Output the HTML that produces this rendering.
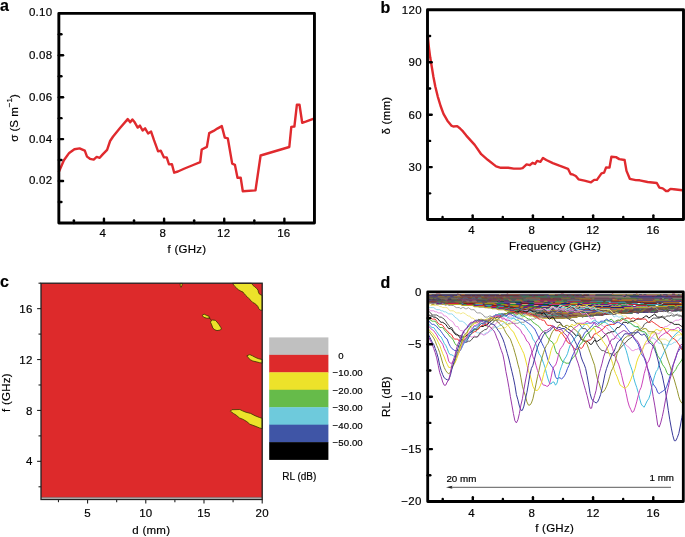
<!DOCTYPE html>
<html><head><meta charset="utf-8"><style>
html,body{margin:0;padding:0;background:#fff;}
svg{display:block;will-change:transform;}
text{font-family:"Liberation Sans",sans-serif;fill:#000;stroke:#000;stroke-width:0.18px;}
</style></head><body>
<svg width="685" height="537" viewBox="0 0 685 537">
<rect width="685" height="537" fill="#fff"/>
<polyline points="58.7,172.3 63.9,160.3 69.2,152.9 74.4,149.2 79.6,148.4 84.8,150.7 87.0,156.6 90.0,158.8 93.7,159.6 96.7,156.9 99.7,157.8 102.7,154.4 107.1,149.9 110.1,141.0 113.1,136.5 119.8,128.3 127.7,119.1 130.2,122.3 132.4,119.4 134.7,122.3 137.7,127.6 139.9,125.6 142.6,130.5 145.1,128.3 148.1,133.5 151.1,131.6 154.0,140.2 158.1,151.4 160.8,150.7 164.0,157.4 166.7,157.4 169.0,164.4 171.9,164.1 174.2,172.7 177.9,171.5 184.6,168.5 192.0,165.5 200.2,162.1 201.7,149.5 206.9,146.9 209.2,133.1 213.6,130.9 217.3,128.6 221.8,126.1 224.8,137.6 227.8,138.3 232.2,163.6 234.9,164.8 237.5,177.7 240.7,177.7 242.8,191.2 255.5,190.4 260.6,155.5 289.3,147.0 291.3,126.9 294.4,126.5 296.9,104.7 299.5,104.7 302.2,122.8 305.7,121.7 313.9,118.7" fill="none" stroke="#e02a2e" stroke-width="2.4" stroke-linejoin="round" />
<rect x="58.85" y="13.35" width="255.6" height="209.6" fill="none" stroke="#000" stroke-width="2.9" stroke-linejoin="round"/>
<line x1="73.89" y1="222.95" x2="73.89" y2="220.35" stroke="#000" stroke-width="2.4" stroke-linecap="round"/>
<line x1="103.96" y1="222.95" x2="103.96" y2="218.75" stroke="#000" stroke-width="2.4" stroke-linecap="round"/>
<line x1="134.03" y1="222.95" x2="134.03" y2="220.35" stroke="#000" stroke-width="2.4" stroke-linecap="round"/>
<line x1="164.10" y1="222.95" x2="164.10" y2="218.75" stroke="#000" stroke-width="2.4" stroke-linecap="round"/>
<line x1="194.17" y1="222.95" x2="194.17" y2="220.35" stroke="#000" stroke-width="2.4" stroke-linecap="round"/>
<line x1="224.24" y1="222.95" x2="224.24" y2="218.75" stroke="#000" stroke-width="2.4" stroke-linecap="round"/>
<line x1="254.31" y1="222.95" x2="254.31" y2="220.35" stroke="#000" stroke-width="2.4" stroke-linecap="round"/>
<line x1="284.38" y1="222.95" x2="284.38" y2="218.75" stroke="#000" stroke-width="2.4" stroke-linecap="round"/>
<line x1="58.85" y1="201.99" x2="61.45" y2="201.99" stroke="#000" stroke-width="2.4" stroke-linecap="round"/>
<line x1="58.85" y1="181.03" x2="63.05" y2="181.03" stroke="#000" stroke-width="2.4" stroke-linecap="round"/>
<line x1="58.85" y1="160.07" x2="61.45" y2="160.07" stroke="#000" stroke-width="2.4" stroke-linecap="round"/>
<line x1="58.85" y1="139.11" x2="63.05" y2="139.11" stroke="#000" stroke-width="2.4" stroke-linecap="round"/>
<line x1="58.85" y1="118.15" x2="61.45" y2="118.15" stroke="#000" stroke-width="2.4" stroke-linecap="round"/>
<line x1="58.85" y1="97.19" x2="63.05" y2="97.19" stroke="#000" stroke-width="2.4" stroke-linecap="round"/>
<line x1="58.85" y1="76.23" x2="61.45" y2="76.23" stroke="#000" stroke-width="2.4" stroke-linecap="round"/>
<line x1="58.85" y1="55.27" x2="63.05" y2="55.27" stroke="#000" stroke-width="2.4" stroke-linecap="round"/>
<line x1="58.85" y1="34.31" x2="61.45" y2="34.31" stroke="#000" stroke-width="2.4" stroke-linecap="round"/>
<text x="102.76" y="237.40" font-size="11.5" text-anchor="middle" letter-spacing="0.25" >4</text>
<text x="162.90" y="237.40" font-size="11.5" text-anchor="middle" letter-spacing="0.25" >8</text>
<text x="223.64" y="237.40" font-size="11.5" text-anchor="middle" letter-spacing="0.25" >12</text>
<text x="283.78" y="237.40" font-size="11.5" text-anchor="middle" letter-spacing="0.25" >16</text>
<text x="52.30" y="184.43" font-size="11.5" text-anchor="end" letter-spacing="0.25" >0.02</text>
<text x="52.30" y="142.51" font-size="11.5" text-anchor="end" letter-spacing="0.25" >0.04</text>
<text x="52.30" y="100.59" font-size="11.5" text-anchor="end" letter-spacing="0.25" >0.06</text>
<text x="52.30" y="58.67" font-size="11.5" text-anchor="end" letter-spacing="0.25" >0.08</text>
<text x="52.30" y="15.85" font-size="11.5" text-anchor="end" letter-spacing="0.25" >0.10</text>
<text x="187.00" y="253.30" font-size="11.5" text-anchor="middle" letter-spacing="0.25" >f (GHz)</text>
<text transform="translate(18.4,118.0) rotate(-90)" font-size="11.5" text-anchor="middle">σ (S m<tspan dy="-6" font-size="8">−1</tspan><tspan dy="6">)</tspan></text>
<text x="0.00" y="11.00" font-size="16" text-anchor="start" font-weight="bold">a</text>
<polyline points="427.9,37.0 428.9,47.5 430.2,57.3 431.8,67.0 433.4,76.8 435.3,86.5 437.7,96.3 440.6,106.0 443.5,113.9 447.4,120.7 451.3,125.6 453.3,126.5 457.2,126.1 460.1,128.5 463.0,131.4 466.3,135.6 474.7,144.9 481.2,154.2 487.7,159.8 496.1,166.4 500.8,167.8 508.2,167.8 513.8,168.6 520.3,168.6 522.6,168.1 526.6,164.4 529.9,165.2 532.5,162.8 535.1,163.9 537.1,160.9 540.4,161.8 543.0,157.9 546.3,160.0 552.8,163.1 559.4,165.7 563.4,167.1 568.0,168.8 570.6,174.0 573.2,174.7 575.8,176.0 578.5,179.3 584.4,180.6 591.0,182.3 594.2,179.9 596.9,179.9 601.5,173.4 604.1,172.7 606.1,167.4 609.5,167.6 611.4,156.8 616.0,157.1 619.3,159.1 624.6,160.0 626.5,170.9 629.8,178.8 635.7,180.1 639.7,180.3 647.6,182.0 656.8,183.0 659.4,187.6 662.7,188.4 666.0,191.0 667.9,191.0 670.5,188.9 673.8,189.3 682.4,190.2" fill="none" stroke="#e02a2e" stroke-width="2.4" stroke-linejoin="round" />
<rect x="427.5" y="9.8" width="256.0" height="209.75" fill="none" stroke="#000" stroke-width="2.9" stroke-linejoin="round"/>
<line x1="442.56" y1="219.55" x2="442.56" y2="216.95" stroke="#000" stroke-width="2.4" stroke-linecap="round"/>
<line x1="472.68" y1="219.55" x2="472.68" y2="215.35" stroke="#000" stroke-width="2.4" stroke-linecap="round"/>
<line x1="502.79" y1="219.55" x2="502.79" y2="216.95" stroke="#000" stroke-width="2.4" stroke-linecap="round"/>
<line x1="532.91" y1="219.55" x2="532.91" y2="215.35" stroke="#000" stroke-width="2.4" stroke-linecap="round"/>
<line x1="563.03" y1="219.55" x2="563.03" y2="216.95" stroke="#000" stroke-width="2.4" stroke-linecap="round"/>
<line x1="593.15" y1="219.55" x2="593.15" y2="215.35" stroke="#000" stroke-width="2.4" stroke-linecap="round"/>
<line x1="623.26" y1="219.55" x2="623.26" y2="216.95" stroke="#000" stroke-width="2.4" stroke-linecap="round"/>
<line x1="653.38" y1="219.55" x2="653.38" y2="215.35" stroke="#000" stroke-width="2.4" stroke-linecap="round"/>
<line x1="427.50" y1="193.33" x2="430.10" y2="193.33" stroke="#000" stroke-width="2.4" stroke-linecap="round"/>
<line x1="427.50" y1="167.11" x2="431.70" y2="167.11" stroke="#000" stroke-width="2.4" stroke-linecap="round"/>
<line x1="427.50" y1="140.89" x2="430.10" y2="140.89" stroke="#000" stroke-width="2.4" stroke-linecap="round"/>
<line x1="427.50" y1="114.68" x2="431.70" y2="114.68" stroke="#000" stroke-width="2.4" stroke-linecap="round"/>
<line x1="427.50" y1="88.46" x2="430.10" y2="88.46" stroke="#000" stroke-width="2.4" stroke-linecap="round"/>
<line x1="427.50" y1="62.24" x2="431.70" y2="62.24" stroke="#000" stroke-width="2.4" stroke-linecap="round"/>
<line x1="427.50" y1="36.02" x2="430.10" y2="36.02" stroke="#000" stroke-width="2.4" stroke-linecap="round"/>
<text x="471.48" y="234.10" font-size="11.5" text-anchor="middle" letter-spacing="0.25" >4</text>
<text x="531.71" y="234.10" font-size="11.5" text-anchor="middle" letter-spacing="0.25" >8</text>
<text x="592.85" y="234.10" font-size="11.5" text-anchor="middle" letter-spacing="0.25" >12</text>
<text x="653.08" y="234.10" font-size="11.5" text-anchor="middle" letter-spacing="0.25" >16</text>
<text x="421.80" y="171.11" font-size="11.5" text-anchor="end" letter-spacing="0.25" >30</text>
<text x="421.80" y="118.68" font-size="11.5" text-anchor="end" letter-spacing="0.25" >60</text>
<text x="421.80" y="66.24" font-size="11.5" text-anchor="end" letter-spacing="0.25" >90</text>
<text x="421.80" y="13.80" font-size="11.5" text-anchor="end" letter-spacing="0.25" >120</text>
<text x="555.00" y="250.20" font-size="11.5" text-anchor="middle" letter-spacing="0.25" >Frequency (GHz)</text>
<text transform="translate(390.2,115.6) rotate(-90)" font-size="11.5" letter-spacing="0.25" text-anchor="middle">δ (mm)</text>
<text x="380.50" y="12.70" font-size="16" text-anchor="start" font-weight="bold">b</text>
<rect x="41.0" y="283.2" width="221.2" height="216.3" fill="#dd2a2b"/>
<rect x="41.0" y="497.2" width="221.2" height="2.3000000000000114" fill="#c0c0c0"/>
<line x1="41.00" y1="497.35" x2="262.20" y2="497.35" stroke="#6a4a4a" stroke-width="0.6" stroke-linecap="butt"/>
<path d="M232.4,283.3 L233.9,285.2 L234.9,286.5 L236.5,288.1 L238.5,289.8 L240.8,291.1 L243.0,292.1 L244.0,293.4 L245.3,295.0 L247.0,296.6 L248.9,298.6 L250.9,300.5 L252.8,302.5 L254.8,303.5 L256.7,305.1 L258.0,306.7 L258.7,308.7 L260.3,310.0 L262.2,310.4 L262.2,295.3 L261.0,295.0 L259.3,294.0 L258.4,292.1 L258.0,290.1 L256.7,288.5 L254.8,286.8 L253.1,285.5 L251.5,283.3 Z" fill="#ece22a" stroke="#3a3000" stroke-width="0.8" stroke-linejoin="round"/>
<path d="M202.2,315.3 L204.1,314.1 L206.4,315.3 L209.2,316.4 L209.7,317.8 L208.3,318.3 L206.4,318.1 L203.6,317.2 Z" fill="#ece22a" stroke="#3a3000" stroke-width="0.8" stroke-linejoin="round"/>
<path d="M208.6,317.6 L210.2,318.6 L211.6,320.6" fill="none" stroke="#3a3000" stroke-width="0.9"/>
<path d="M210.8,321.1 L212.5,320.0 L215.3,320.3 L217.0,322.0 L219.2,324.8 L220.9,327.6 L221.5,329.2 L219.8,330.1 L217.0,330.6 L214.8,329.8 L212.8,328.1 L211.7,324.8 L210.6,322.5 Z" fill="#ece22a" stroke="#3a3000" stroke-width="0.8" stroke-linejoin="round"/>
<path d="M246.8,355.8 L249.8,354.6 L252.4,355.8 L255.8,357.6 L258.8,358.8 L262.2,359.5 L262.2,363.1 L259.7,362.7 L256.3,361.8 L252.8,361.0 L250.3,359.7 L248.1,357.6 Z" fill="#ece22a" stroke="#3a3000" stroke-width="0.8" stroke-linejoin="round"/>
<path d="M230.4,411.2 L231.9,409.7 L239.8,409.5 L242.4,410.8 L246.1,412.3 L250.6,413.4 L255.0,415.7 L259.5,417.5 L262.2,418.3 L262.2,428.7 L259.5,427.9 L255.0,426.1 L249.8,424.2 L246.8,421.6 L243.1,419.4 L239.4,417.9 L236.4,415.3 L233.4,413.4 Z" fill="#ece22a" stroke="#3a3000" stroke-width="0.8" stroke-linejoin="round"/>
<path d="M180.0,283.4 L182.4,283.4 L181.8,286.0 L181.0,287.4 L180.3,285.5 Z" fill="#ece22a" stroke="#3a3000" stroke-width="0.8" stroke-linejoin="round"/>
<rect x="41.0" y="283.2" width="221.2" height="216.3" fill="none" stroke="#222" stroke-width="1.3"/>
<line x1="58.46" y1="499.50" x2="58.46" y2="502.20" stroke="#222" stroke-width="1.1" stroke-linecap="butt"/>
<line x1="87.57" y1="499.50" x2="87.57" y2="503.40" stroke="#222" stroke-width="1.1" stroke-linecap="butt"/>
<line x1="116.67" y1="499.50" x2="116.67" y2="502.20" stroke="#222" stroke-width="1.1" stroke-linecap="butt"/>
<line x1="145.78" y1="499.50" x2="145.78" y2="503.40" stroke="#222" stroke-width="1.1" stroke-linecap="butt"/>
<line x1="174.88" y1="499.50" x2="174.88" y2="502.20" stroke="#222" stroke-width="1.1" stroke-linecap="butt"/>
<line x1="203.99" y1="499.50" x2="203.99" y2="503.40" stroke="#222" stroke-width="1.1" stroke-linecap="butt"/>
<line x1="233.09" y1="499.50" x2="233.09" y2="502.20" stroke="#222" stroke-width="1.1" stroke-linecap="butt"/>
<line x1="262.20" y1="499.50" x2="262.20" y2="503.40" stroke="#222" stroke-width="1.1" stroke-linecap="butt"/>
<line x1="41.00" y1="486.78" x2="38.50" y2="486.78" stroke="#222" stroke-width="1.1" stroke-linecap="butt"/>
<line x1="41.00" y1="461.33" x2="37.10" y2="461.33" stroke="#222" stroke-width="1.1" stroke-linecap="butt"/>
<line x1="41.00" y1="435.88" x2="38.50" y2="435.88" stroke="#222" stroke-width="1.1" stroke-linecap="butt"/>
<line x1="41.00" y1="410.44" x2="37.10" y2="410.44" stroke="#222" stroke-width="1.1" stroke-linecap="butt"/>
<line x1="41.00" y1="384.99" x2="38.50" y2="384.99" stroke="#222" stroke-width="1.1" stroke-linecap="butt"/>
<line x1="41.00" y1="359.54" x2="37.10" y2="359.54" stroke="#222" stroke-width="1.1" stroke-linecap="butt"/>
<line x1="41.00" y1="334.09" x2="38.50" y2="334.09" stroke="#222" stroke-width="1.1" stroke-linecap="butt"/>
<line x1="41.00" y1="308.65" x2="37.10" y2="308.65" stroke="#222" stroke-width="1.1" stroke-linecap="butt"/>
<line x1="41.00" y1="283.20" x2="38.50" y2="283.20" stroke="#222" stroke-width="1.1" stroke-linecap="butt"/>
<text x="87.57" y="517.20" font-size="11.5" text-anchor="middle" letter-spacing="0.25" >5</text>
<text x="145.78" y="517.20" font-size="11.5" text-anchor="middle" letter-spacing="0.25" >10</text>
<text x="203.99" y="517.20" font-size="11.5" text-anchor="middle" letter-spacing="0.25" >15</text>
<text x="262.20" y="517.20" font-size="11.5" text-anchor="middle" letter-spacing="0.25" >20</text>
<text x="32.60" y="465.43" font-size="11.5" text-anchor="end" letter-spacing="0.25" >4</text>
<text x="32.60" y="414.54" font-size="11.5" text-anchor="end" letter-spacing="0.25" >8</text>
<text x="32.60" y="363.64" font-size="11.5" text-anchor="end" letter-spacing="0.25" >12</text>
<text x="32.60" y="312.75" font-size="11.5" text-anchor="end" letter-spacing="0.25" >16</text>
<text x="151.30" y="533.50" font-size="11.5" text-anchor="middle" letter-spacing="0.25" >d (mm)</text>
<text transform="translate(9.7,392.5) rotate(-90)" font-size="11.5" letter-spacing="0.25" text-anchor="middle">f (GHz)</text>
<text x="0.00" y="286.80" font-size="16" text-anchor="start" font-weight="bold">c</text>
<rect x="269.2" y="337.40" width="59.2" height="17.76" fill="#c0c0c0"/>
<rect x="269.2" y="354.86" width="59.2" height="17.76" fill="#dd2a2b"/>
<rect x="269.2" y="372.31" width="59.2" height="17.76" fill="#ede22a"/>
<rect x="269.2" y="389.77" width="59.2" height="17.76" fill="#66bb4a"/>
<rect x="269.2" y="407.23" width="59.2" height="17.76" fill="#6ecadc"/>
<rect x="269.2" y="424.69" width="59.2" height="17.76" fill="#3f55a6"/>
<rect x="269.2" y="442.14" width="59.2" height="17.76" fill="#000000"/>
<text x="338.30" y="358.86" font-size="9.6" text-anchor="start" letter-spacing="0.1" >0</text>
<text x="332.60" y="376.31" font-size="9.6" text-anchor="start" letter-spacing="0.1" >−10.00</text>
<text x="332.60" y="393.77" font-size="9.6" text-anchor="start" letter-spacing="0.1" >−20.00</text>
<text x="332.60" y="411.23" font-size="9.6" text-anchor="start" letter-spacing="0.1" >−30.00</text>
<text x="332.60" y="428.69" font-size="9.6" text-anchor="start" letter-spacing="0.1" >−40.00</text>
<text x="332.60" y="446.14" font-size="9.6" text-anchor="start" letter-spacing="0.1" >−50.00</text>
<text x="299.30" y="480.00" font-size="10" text-anchor="middle" >RL (dB)</text>
<clipPath id="cd"><rect x="429" y="293.3" width="253.2" height="206.8"/></clipPath>
<g clip-path="url(#cd)">
<polyline points="427.7,295.0 429.2,295.0 430.7,295.0 432.2,295.0 433.7,295.0 435.2,295.0 436.7,294.0 438.2,294.0 439.7,294.0 441.2,295.0 442.7,295.0 444.2,295.0 445.7,295.0 447.2,295.0 448.7,295.0 450.3,295.0 451.8,295.0 453.3,295.0 454.8,295.0 456.3,295.0 457.8,294.0 459.3,295.0 460.8,295.0 462.3,295.0 463.8,295.0 465.3,295.0 466.8,295.0 468.3,295.0 469.8,295.0 471.3,295.0 472.8,295.0 474.3,295.0 475.8,295.0 477.3,295.0 478.8,295.0 480.3,295.0 481.8,295.0 483.3,295.0 484.8,295.0 486.3,295.0 487.8,295.0 489.3,295.0 490.8,295.0 492.4,295.0 493.9,295.0 495.4,295.0 496.9,295.0 498.4,295.0 499.9,295.0 501.4,295.0 502.9,295.0 504.4,295.0 505.9,295.0 507.4,294.0 508.9,295.0 510.4,295.0 511.9,295.0 513.4,295.0 514.9,295.0 516.4,295.0 517.9,295.0 519.4,295.0 520.9,295.0 522.4,295.0 523.9,295.0 525.4,295.0 526.9,295.0 528.4,295.0 529.9,295.0 531.4,295.0 532.9,295.0 534.5,295.0 536.0,295.0 537.5,295.0 539.0,295.0 540.5,295.0 542.0,295.0 543.5,295.0 545.0,295.0 546.5,295.0 548.0,295.0 549.5,295.0 551.0,295.0 552.5,295.0 554.0,295.0 555.5,295.0 557.0,295.0 558.5,295.0 560.0,295.0 561.5,294.0 563.0,294.0 564.5,295.0 566.0,295.0 567.5,295.0 569.0,295.0 570.5,295.0 572.0,295.0 573.5,295.0 575.0,295.0 576.5,295.0 578.1,295.0 579.6,295.0 581.1,295.0 582.6,295.0 584.1,295.0 585.6,295.0 587.1,295.0 588.6,295.0 590.1,295.0 591.6,295.0 593.1,295.0 594.6,295.0 596.1,295.0 597.6,295.0 599.1,295.0 600.6,295.0 602.1,295.0 603.6,295.0 605.1,295.0 606.6,295.0 608.1,295.0 609.6,295.0 611.1,295.0 612.6,294.0 614.1,295.0 615.6,295.0 617.1,295.0 618.6,295.0 620.2,295.0 621.7,295.0 623.2,295.0 624.7,295.0 626.2,295.0 627.7,295.0 629.2,295.0 630.7,295.0 632.2,295.0 633.7,295.0 635.2,295.0 636.7,294.0 638.2,295.0 639.7,295.0 641.2,295.0 642.7,295.0 644.2,295.0 645.7,295.0 647.2,295.0 648.7,295.0 650.2,295.0 651.7,295.0 653.2,295.0 654.7,295.0 656.2,295.0 657.7,295.0 659.2,295.0 660.7,295.0 662.3,295.0 663.8,295.0 665.3,295.0 666.8,295.0 668.3,295.0 669.8,295.0 671.3,295.0 672.8,294.0 674.3,294.0 675.8,295.0 677.3,295.0 678.8,295.0 680.3,295.0 681.8,295.0 683.3,295.0" fill="none" stroke="#c81e3c" stroke-width="1.15" stroke-linejoin="round" />
<polyline points="427.7,295.0 429.2,295.0 430.7,295.0 432.2,295.0 433.7,295.0 435.2,295.0 436.7,295.0 438.2,295.0 439.7,295.0 441.2,295.0 442.7,295.0 444.2,295.0 445.7,295.0 447.2,295.0 448.7,295.0 450.3,295.0 451.8,295.0 453.3,295.0 454.8,295.0 456.3,295.0 457.8,295.0 459.3,295.0 460.8,295.0 462.3,295.0 463.8,295.0 465.3,295.0 466.8,295.0 468.3,295.0 469.8,295.0 471.3,295.0 472.8,295.0 474.3,295.0 475.8,295.0 477.3,295.0 478.8,295.0 480.3,295.0 481.8,295.0 483.3,295.0 484.8,295.0 486.3,295.0 487.8,295.0 489.3,295.0 490.8,295.0 492.4,295.0 493.9,295.0 495.4,295.0 496.9,295.0 498.4,295.0 499.9,295.0 501.4,295.0 502.9,295.0 504.4,295.0 505.9,295.0 507.4,295.0 508.9,295.0 510.4,295.0 511.9,295.0 513.4,295.0 514.9,295.0 516.4,295.0 517.9,295.0 519.4,295.0 520.9,295.0 522.4,295.0 523.9,295.0 525.4,295.0 526.9,295.0 528.4,295.0 529.9,295.0 531.4,295.0 532.9,295.0 534.5,295.0 536.0,295.0 537.5,295.0 539.0,295.0 540.5,295.0 542.0,295.0 543.5,295.0 545.0,295.0 546.5,295.0 548.0,295.0 549.5,295.0 551.0,295.0 552.5,295.0 554.0,295.0 555.5,295.0 557.0,295.0 558.5,295.0 560.0,295.0 561.5,295.0 563.0,295.0 564.5,295.0 566.0,295.0 567.5,295.0 569.0,295.0 570.5,295.0 572.0,295.0 573.5,295.0 575.0,295.0 576.5,295.0 578.1,295.0 579.6,295.0 581.1,295.0 582.6,295.0 584.1,295.0 585.6,295.0 587.1,295.0 588.6,295.0 590.1,295.0 591.6,295.0 593.1,295.0 594.6,295.0 596.1,295.0 597.6,295.0 599.1,295.0 600.6,295.0 602.1,295.0 603.6,295.0 605.1,295.0 606.6,295.0 608.1,295.0 609.6,295.0 611.1,295.0 612.6,295.0 614.1,295.0 615.6,295.0 617.1,295.0 618.6,295.0 620.2,295.0 621.7,295.0 623.2,295.0 624.7,295.0 626.2,295.0 627.7,295.0 629.2,295.0 630.7,295.0 632.2,295.0 633.7,295.0 635.2,295.0 636.7,295.0 638.2,295.0 639.7,295.0 641.2,295.0 642.7,295.0 644.2,295.0 645.7,295.0 647.2,295.0 648.7,295.0 650.2,295.0 651.7,295.0 653.2,295.0 654.7,295.0 656.2,295.0 657.7,295.0 659.2,295.0 660.7,295.0 662.3,295.0 663.8,295.0 665.3,295.0 666.8,295.0 668.3,295.0 669.8,295.0 671.3,295.0 672.8,295.0 674.3,295.0 675.8,295.0 677.3,295.0 678.8,295.0 680.3,295.0 681.8,295.0 683.3,295.0" fill="none" stroke="#2a9a50" stroke-width="1.15" stroke-linejoin="round" />
<polyline points="427.7,295.0 429.2,295.0 430.7,295.0 432.2,295.0 433.7,295.0 435.2,295.0 436.7,295.0 438.2,295.0 439.7,295.0 441.2,295.0 442.7,295.0 444.2,295.0 445.7,295.0 447.2,295.0 448.7,295.0 450.3,295.0 451.8,295.0 453.3,295.0 454.8,295.0 456.3,295.0 457.8,295.0 459.3,295.0 460.8,295.0 462.3,295.0 463.8,295.0 465.3,295.0 466.8,295.0 468.3,295.0 469.8,295.0 471.3,295.0 472.8,295.0 474.3,295.0 475.8,295.0 477.3,295.0 478.8,295.0 480.3,295.0 481.8,295.0 483.3,295.0 484.8,295.0 486.3,295.0 487.8,295.0 489.3,295.0 490.8,295.0 492.4,295.0 493.9,295.0 495.4,295.0 496.9,295.0 498.4,295.0 499.9,295.0 501.4,295.0 502.9,295.0 504.4,295.0 505.9,295.0 507.4,295.0 508.9,295.0 510.4,295.0 511.9,295.0 513.4,295.0 514.9,295.0 516.4,295.0 517.9,295.0 519.4,295.0 520.9,295.0 522.4,295.0 523.9,295.0 525.4,295.0 526.9,295.0 528.4,295.0 529.9,295.0 531.4,295.0 532.9,295.0 534.5,295.0 536.0,295.0 537.5,295.0 539.0,295.0 540.5,295.0 542.0,295.0 543.5,295.0 545.0,295.0 546.5,295.0 548.0,295.0 549.5,295.0 551.0,295.0 552.5,295.0 554.0,295.0 555.5,295.0 557.0,295.0 558.5,295.0 560.0,295.0 561.5,295.0 563.0,295.0 564.5,295.0 566.0,295.0 567.5,295.0 569.0,295.0 570.5,295.0 572.0,295.0 573.5,295.0 575.0,295.0 576.5,295.0 578.1,295.0 579.6,295.0 581.1,295.0 582.6,295.0 584.1,295.0 585.6,295.0 587.1,295.0 588.6,295.0 590.1,295.0 591.6,295.0 593.1,295.0 594.6,295.0 596.1,295.0 597.6,295.0 599.1,295.0 600.6,295.0 602.1,295.0 603.6,295.0 605.1,295.0 606.6,295.0 608.1,295.0 609.6,295.0 611.1,295.0 612.6,295.0 614.1,295.0 615.6,295.0 617.1,295.0 618.6,295.0 620.2,295.0 621.7,295.0 623.2,295.0 624.7,295.0 626.2,295.0 627.7,295.0 629.2,295.0 630.7,295.0 632.2,295.0 633.7,295.0 635.2,295.0 636.7,295.0 638.2,295.0 639.7,295.0 641.2,295.0 642.7,295.0 644.2,295.0 645.7,295.0 647.2,295.0 648.7,295.0 650.2,295.0 651.7,295.0 653.2,295.0 654.7,295.0 656.2,295.0 657.7,295.0 659.2,295.0 660.7,295.0 662.3,295.0 663.8,295.0 665.3,295.0 666.8,295.0 668.3,295.0 669.8,295.0 671.3,295.0 672.8,295.0 674.3,295.0 675.8,295.0 677.3,295.0 678.8,295.0 680.3,295.0 681.8,295.0 683.3,295.0" fill="none" stroke="#6a1a8a" stroke-width="1.15" stroke-linejoin="round" />
<polyline points="427.7,295.0 429.2,295.0 430.7,295.0 432.2,295.0 433.7,295.0 435.2,295.0 436.7,295.0 438.2,295.0 439.7,295.0 441.2,295.0 442.7,295.0 444.2,295.0 445.7,295.0 447.2,295.0 448.7,295.0 450.3,295.0 451.8,295.0 453.3,295.0 454.8,295.0 456.3,295.0 457.8,295.0 459.3,295.0 460.8,295.0 462.3,295.0 463.8,295.0 465.3,295.0 466.8,295.0 468.3,295.0 469.8,295.0 471.3,295.0 472.8,295.0 474.3,295.0 475.8,295.0 477.3,295.0 478.8,295.0 480.3,295.0 481.8,295.0 483.3,295.0 484.8,295.0 486.3,295.0 487.8,295.0 489.3,295.0 490.8,295.0 492.4,295.0 493.9,295.0 495.4,295.0 496.9,295.0 498.4,295.0 499.9,295.0 501.4,295.0 502.9,295.0 504.4,295.0 505.9,295.0 507.4,295.0 508.9,295.0 510.4,295.0 511.9,295.0 513.4,295.0 514.9,295.0 516.4,295.0 517.9,295.0 519.4,295.0 520.9,295.0 522.4,295.0 523.9,295.0 525.4,295.0 526.9,295.0 528.4,295.0 529.9,295.0 531.4,295.0 532.9,295.0 534.5,295.0 536.0,295.0 537.5,295.0 539.0,295.0 540.5,295.0 542.0,295.0 543.5,295.0 545.0,295.0 546.5,295.0 548.0,295.0 549.5,295.0 551.0,295.0 552.5,295.0 554.0,295.0 555.5,295.0 557.0,295.0 558.5,295.0 560.0,295.0 561.5,295.0 563.0,295.0 564.5,295.0 566.0,295.0 567.5,295.0 569.0,295.0 570.5,295.0 572.0,295.0 573.5,295.0 575.0,295.0 576.5,295.0 578.1,295.0 579.6,295.0 581.1,295.0 582.6,295.0 584.1,295.0 585.6,295.0 587.1,295.0 588.6,295.0 590.1,295.0 591.6,295.0 593.1,295.0 594.6,295.0 596.1,295.0 597.6,295.0 599.1,295.0 600.6,295.0 602.1,295.0 603.6,295.0 605.1,295.0 606.6,295.0 608.1,295.0 609.6,295.0 611.1,295.0 612.6,295.0 614.1,295.0 615.6,295.0 617.1,295.0 618.6,295.0 620.2,295.0 621.7,295.0 623.2,295.0 624.7,295.0 626.2,295.0 627.7,295.0 629.2,295.0 630.7,295.0 632.2,295.0 633.7,295.0 635.2,295.0 636.7,295.0 638.2,295.0 639.7,295.0 641.2,295.0 642.7,295.0 644.2,295.0 645.7,295.0 647.2,295.0 648.7,295.0 650.2,295.0 651.7,295.0 653.2,295.0 654.7,295.0 656.2,295.0 657.7,295.0 659.2,295.0 660.7,295.0 662.3,295.0 663.8,295.0 665.3,295.0 666.8,295.0 668.3,295.0 669.8,295.0 671.3,295.0 672.8,295.0 674.3,295.0 675.8,295.0 677.3,295.0 678.8,295.0 680.3,295.0 681.8,295.0 683.3,295.0" fill="none" stroke="#b8a828" stroke-width="1.15" stroke-linejoin="round" />
<polyline points="427.7,295.0 429.2,296.1 430.7,296.1 432.2,295.0 433.7,295.0 435.2,295.0 436.7,295.0 438.2,295.0 439.7,295.0 441.2,295.0 442.7,295.0 444.2,295.0 445.7,295.0 447.2,295.0 448.7,295.0 450.3,295.0 451.8,295.0 453.3,295.0 454.8,295.0 456.3,295.0 457.8,295.0 459.3,295.0 460.8,295.0 462.3,296.1 463.8,296.1 465.3,295.0 466.8,295.0 468.3,295.0 469.8,295.0 471.3,295.0 472.8,295.0 474.3,295.0 475.8,295.0 477.3,295.0 478.8,295.0 480.3,295.0 481.8,295.0 483.3,295.0 484.8,295.0 486.3,295.0 487.8,295.0 489.3,295.0 490.8,295.0 492.4,295.0 493.9,295.0 495.4,295.0 496.9,295.0 498.4,295.0 499.9,296.1 501.4,295.0 502.9,295.0 504.4,295.0 505.9,295.0 507.4,295.0 508.9,295.0 510.4,295.0 511.9,295.0 513.4,295.0 514.9,295.0 516.4,295.0 517.9,295.0 519.4,295.0 520.9,295.0 522.4,295.0 523.9,295.0 525.4,295.0 526.9,295.0 528.4,295.0 529.9,295.0 531.4,295.0 532.9,295.0 534.5,295.0 536.0,295.0 537.5,295.0 539.0,295.0 540.5,295.0 542.0,295.0 543.5,295.0 545.0,295.0 546.5,295.0 548.0,295.0 549.5,296.1 551.0,296.1 552.5,296.1 554.0,296.1 555.5,295.0 557.0,295.0 558.5,295.0 560.0,295.0 561.5,295.0 563.0,295.0 564.5,295.0 566.0,295.0 567.5,295.0 569.0,295.0 570.5,295.0 572.0,295.0 573.5,295.0 575.0,295.0 576.5,295.0 578.1,295.0 579.6,295.0 581.1,295.0 582.6,296.1 584.1,295.0 585.6,295.0 587.1,295.0 588.6,295.0 590.1,296.1 591.6,296.1 593.1,296.1 594.6,296.1 596.1,295.0 597.6,295.0 599.1,295.0 600.6,295.0 602.1,295.0 603.6,295.0 605.1,295.0 606.6,295.0 608.1,295.0 609.6,295.0 611.1,295.0 612.6,296.1 614.1,296.1 615.6,296.1 617.1,296.1 618.6,296.1 620.2,296.1 621.7,296.1 623.2,296.1 624.7,296.1 626.2,295.0 627.7,296.1 629.2,296.1 630.7,296.1 632.2,296.1 633.7,295.0 635.2,295.0 636.7,296.1 638.2,296.1 639.7,295.0 641.2,295.0 642.7,296.1 644.2,295.0 645.7,295.0 647.2,296.1 648.7,296.1 650.2,296.1 651.7,296.1 653.2,296.1 654.7,296.1 656.2,296.1 657.7,296.1 659.2,296.1 660.7,295.0 662.3,296.1 663.8,295.0 665.3,295.0 666.8,295.0 668.3,296.1 669.8,296.1 671.3,296.1 672.8,295.0 674.3,295.0 675.8,296.1 677.3,296.1 678.8,295.0 680.3,296.1 681.8,296.1 683.3,296.1" fill="none" stroke="#1e1e70" stroke-width="1.15" stroke-linejoin="round" />
<polyline points="427.7,295.0 429.2,296.1 430.7,296.1 432.2,296.1 433.7,296.1 435.2,296.1 436.7,296.1 438.2,296.1 439.7,296.1 441.2,296.1 442.7,296.1 444.2,296.1 445.7,296.1 447.2,296.1 448.7,296.1 450.3,296.1 451.8,296.1 453.3,296.1 454.8,296.1 456.3,296.1 457.8,296.1 459.3,295.0 460.8,296.1 462.3,295.0 463.8,295.0 465.3,296.1 466.8,296.1 468.3,296.1 469.8,296.1 471.3,296.1 472.8,296.1 474.3,296.1 475.8,296.1 477.3,296.1 478.8,296.1 480.3,296.1 481.8,296.1 483.3,296.1 484.8,296.1 486.3,296.1 487.8,296.1 489.3,296.1 490.8,296.1 492.4,296.1 493.9,296.1 495.4,296.1 496.9,296.1 498.4,296.1 499.9,296.1 501.4,296.1 502.9,296.1 504.4,296.1 505.9,296.1 507.4,296.1 508.9,295.0 510.4,295.0 511.9,295.0 513.4,295.0 514.9,295.0 516.4,295.0 517.9,295.0 519.4,295.0 520.9,296.1 522.4,296.1 523.9,296.1 525.4,296.1 526.9,296.1 528.4,296.1 529.9,296.1 531.4,296.1 532.9,296.1 534.5,296.1 536.0,296.1 537.5,296.1 539.0,296.1 540.5,296.1 542.0,296.1 543.5,296.1 545.0,296.1 546.5,296.1 548.0,296.1 549.5,296.1 551.0,296.1 552.5,296.1 554.0,296.1 555.5,296.1 557.0,295.0 558.5,296.1 560.0,296.1 561.5,296.1 563.0,296.1 564.5,296.1 566.0,295.0 567.5,296.1 569.0,296.1 570.5,296.1 572.0,295.0 573.5,295.0 575.0,296.1 576.5,296.1 578.1,296.1 579.6,296.1 581.1,296.1 582.6,296.1 584.1,296.1 585.6,295.0 587.1,296.1 588.6,296.1 590.1,296.1 591.6,296.1 593.1,296.1 594.6,296.1 596.1,296.1 597.6,296.1 599.1,296.1 600.6,296.1 602.1,296.1 603.6,296.1 605.1,296.1 606.6,296.1 608.1,296.1 609.6,296.1 611.1,296.1 612.6,296.1 614.1,296.1 615.6,296.1 617.1,296.1 618.6,296.1 620.2,296.1 621.7,296.1 623.2,296.1 624.7,296.1 626.2,296.1 627.7,296.1 629.2,296.1 630.7,296.1 632.2,296.1 633.7,296.1 635.2,296.1 636.7,296.1 638.2,296.1 639.7,296.1 641.2,296.1 642.7,296.1 644.2,296.1 645.7,296.1 647.2,296.1 648.7,296.1 650.2,296.1 651.7,296.1 653.2,296.1 654.7,296.1 656.2,296.1 657.7,296.1 659.2,296.1 660.7,296.1 662.3,296.1 663.8,296.1 665.3,296.1 666.8,296.1 668.3,296.1 669.8,296.1 671.3,296.1 672.8,296.1 674.3,296.1 675.8,296.1 677.3,296.1 678.8,296.1 680.3,296.1 681.8,296.1 683.3,296.1" fill="none" stroke="#a84a20" stroke-width="1.15" stroke-linejoin="round" />
<polyline points="427.7,296.1 429.2,296.1 430.7,296.1 432.2,296.1 433.7,296.1 435.2,296.1 436.7,296.1 438.2,296.1 439.7,296.1 441.2,296.1 442.7,296.1 444.2,296.1 445.7,296.1 447.2,296.1 448.7,296.1 450.3,296.1 451.8,296.1 453.3,296.1 454.8,296.1 456.3,296.1 457.8,296.1 459.3,296.1 460.8,296.1 462.3,296.1 463.8,296.1 465.3,296.1 466.8,296.1 468.3,296.1 469.8,296.1 471.3,296.1 472.8,296.1 474.3,296.1 475.8,296.1 477.3,296.1 478.8,296.1 480.3,296.1 481.8,296.1 483.3,296.1 484.8,296.1 486.3,296.1 487.8,296.1 489.3,296.1 490.8,296.1 492.4,296.1 493.9,296.1 495.4,296.1 496.9,296.1 498.4,296.1 499.9,296.1 501.4,296.1 502.9,296.1 504.4,296.1 505.9,296.1 507.4,296.1 508.9,296.1 510.4,296.1 511.9,296.1 513.4,296.1 514.9,296.1 516.4,296.1 517.9,296.1 519.4,296.1 520.9,296.1 522.4,296.1 523.9,296.1 525.4,296.1 526.9,296.1 528.4,296.1 529.9,296.1 531.4,296.1 532.9,296.1 534.5,296.1 536.0,296.1 537.5,296.1 539.0,296.1 540.5,296.1 542.0,296.1 543.5,296.1 545.0,296.1 546.5,296.1 548.0,296.1 549.5,296.1 551.0,296.1 552.5,296.1 554.0,296.1 555.5,296.1 557.0,296.1 558.5,296.1 560.0,296.1 561.5,296.1 563.0,296.1 564.5,296.1 566.0,296.1 567.5,296.1 569.0,296.1 570.5,296.1 572.0,296.1 573.5,296.1 575.0,296.1 576.5,296.1 578.1,296.1 579.6,296.1 581.1,296.1 582.6,296.1 584.1,296.1 585.6,296.1 587.1,296.1 588.6,296.1 590.1,296.1 591.6,296.1 593.1,296.1 594.6,296.1 596.1,296.1 597.6,296.1 599.1,296.1 600.6,296.1 602.1,296.1 603.6,296.1 605.1,296.1 606.6,296.1 608.1,296.1 609.6,296.1 611.1,296.1 612.6,296.1 614.1,296.1 615.6,296.1 617.1,296.1 618.6,296.1 620.2,296.1 621.7,296.1 623.2,296.1 624.7,296.1 626.2,296.1 627.7,296.1 629.2,296.1 630.7,296.1 632.2,296.1 633.7,296.1 635.2,296.1 636.7,296.1 638.2,296.1 639.7,296.1 641.2,296.1 642.7,296.1 644.2,296.1 645.7,296.1 647.2,296.1 648.7,296.1 650.2,296.1 651.7,296.1 653.2,296.1 654.7,296.1 656.2,296.1 657.7,296.1 659.2,296.1 660.7,296.1 662.3,296.1 663.8,296.1 665.3,296.1 666.8,296.1 668.3,296.1 669.8,296.1 671.3,296.1 672.8,296.1 674.3,296.1 675.8,296.1 677.3,296.1 678.8,296.1 680.3,296.1 681.8,296.1 683.3,296.1" fill="none" stroke="#2a7a7a" stroke-width="1.15" stroke-linejoin="round" />
<polyline points="427.7,296.1 429.2,296.1 430.7,296.1 432.2,296.1 433.7,296.1 435.2,296.1 436.7,296.1 438.2,296.1 439.7,296.1 441.2,296.1 442.7,296.1 444.2,296.1 445.7,296.1 447.2,296.1 448.7,296.1 450.3,296.1 451.8,296.1 453.3,296.1 454.8,296.1 456.3,296.1 457.8,296.1 459.3,296.1 460.8,296.1 462.3,296.1 463.8,296.1 465.3,296.1 466.8,296.1 468.3,296.1 469.8,296.1 471.3,296.1 472.8,296.1 474.3,296.1 475.8,296.1 477.3,296.1 478.8,296.1 480.3,296.1 481.8,296.1 483.3,296.1 484.8,296.1 486.3,296.1 487.8,296.1 489.3,296.1 490.8,296.1 492.4,296.1 493.9,296.1 495.4,296.1 496.9,296.1 498.4,296.1 499.9,296.1 501.4,296.1 502.9,296.1 504.4,296.1 505.9,296.1 507.4,296.1 508.9,296.1 510.4,296.1 511.9,296.1 513.4,296.1 514.9,296.1 516.4,296.1 517.9,296.1 519.4,296.1 520.9,296.1 522.4,296.1 523.9,296.1 525.4,296.1 526.9,296.1 528.4,296.1 529.9,296.1 531.4,296.1 532.9,296.1 534.5,296.1 536.0,296.1 537.5,296.1 539.0,296.1 540.5,296.1 542.0,296.1 543.5,296.1 545.0,296.1 546.5,296.1 548.0,296.1 549.5,296.1 551.0,296.1 552.5,296.1 554.0,296.1 555.5,296.1 557.0,296.1 558.5,296.1 560.0,296.1 561.5,296.1 563.0,296.1 564.5,296.1 566.0,296.1 567.5,296.1 569.0,296.1 570.5,296.1 572.0,296.1 573.5,296.1 575.0,296.1 576.5,296.1 578.1,296.1 579.6,296.1 581.1,296.1 582.6,296.1 584.1,296.1 585.6,296.1 587.1,296.1 588.6,296.1 590.1,296.1 591.6,296.1 593.1,296.1 594.6,296.1 596.1,296.1 597.6,296.1 599.1,296.1 600.6,296.1 602.1,296.1 603.6,296.1 605.1,296.1 606.6,296.1 608.1,296.1 609.6,296.1 611.1,296.1 612.6,296.1 614.1,296.1 615.6,296.1 617.1,296.1 618.6,296.1 620.2,296.1 621.7,296.1 623.2,296.1 624.7,296.1 626.2,296.1 627.7,296.1 629.2,296.1 630.7,296.1 632.2,296.1 633.7,296.1 635.2,296.1 636.7,296.1 638.2,296.1 639.7,296.1 641.2,296.1 642.7,296.1 644.2,296.1 645.7,296.1 647.2,296.1 648.7,296.1 650.2,296.1 651.7,296.1 653.2,296.1 654.7,296.1 656.2,296.1 657.7,296.1 659.2,296.1 660.7,296.1 662.3,296.1 663.8,296.1 665.3,296.1 666.8,297.1 668.3,296.1 669.8,296.1 671.3,296.1 672.8,296.1 674.3,296.1 675.8,296.1 677.3,297.1 678.8,297.1 680.3,297.1 681.8,296.1 683.3,297.1" fill="none" stroke="#b83880" stroke-width="1.15" stroke-linejoin="round" />
<polyline points="427.7,296.1 429.2,296.1 430.7,296.1 432.2,296.1 433.7,296.1 435.2,296.1 436.7,296.1 438.2,296.1 439.7,296.1 441.2,296.1 442.7,296.1 444.2,296.1 445.7,296.1 447.2,296.1 448.7,296.1 450.3,296.1 451.8,296.1 453.3,296.1 454.8,296.1 456.3,296.1 457.8,296.1 459.3,296.1 460.8,296.1 462.3,296.1 463.8,296.1 465.3,296.1 466.8,296.1 468.3,296.1 469.8,296.1 471.3,296.1 472.8,296.1 474.3,296.1 475.8,296.1 477.3,296.1 478.8,296.1 480.3,296.1 481.8,296.1 483.3,296.1 484.8,296.1 486.3,296.1 487.8,296.1 489.3,296.1 490.8,296.1 492.4,296.1 493.9,296.1 495.4,296.1 496.9,296.1 498.4,296.1 499.9,296.1 501.4,296.1 502.9,296.1 504.4,296.1 505.9,296.1 507.4,296.1 508.9,296.1 510.4,296.1 511.9,296.1 513.4,296.1 514.9,296.1 516.4,296.1 517.9,296.1 519.4,296.1 520.9,296.1 522.4,296.1 523.9,296.1 525.4,296.1 526.9,296.1 528.4,296.1 529.9,296.1 531.4,296.1 532.9,296.1 534.5,296.1 536.0,296.1 537.5,296.1 539.0,296.1 540.5,296.1 542.0,296.1 543.5,296.1 545.0,296.1 546.5,296.1 548.0,296.1 549.5,296.1 551.0,296.1 552.5,296.1 554.0,296.1 555.5,296.1 557.0,296.1 558.5,296.1 560.0,296.1 561.5,296.1 563.0,296.1 564.5,296.1 566.0,296.1 567.5,296.1 569.0,296.1 570.5,296.1 572.0,296.1 573.5,296.1 575.0,296.1 576.5,296.1 578.1,296.1 579.6,296.1 581.1,296.1 582.6,296.1 584.1,296.1 585.6,296.1 587.1,296.1 588.6,296.1 590.1,297.1 591.6,297.1 593.1,297.1 594.6,297.1 596.1,296.1 597.6,296.1 599.1,296.1 600.6,296.1 602.1,296.1 603.6,296.1 605.1,296.1 606.6,296.1 608.1,296.1 609.6,296.1 611.1,296.1 612.6,296.1 614.1,296.1 615.6,296.1 617.1,296.1 618.6,296.1 620.2,296.1 621.7,296.1 623.2,297.1 624.7,297.1 626.2,296.1 627.7,296.1 629.2,296.1 630.7,296.1 632.2,296.1 633.7,296.1 635.2,296.1 636.7,296.1 638.2,296.1 639.7,297.1 641.2,297.1 642.7,297.1 644.2,297.1 645.7,297.1 647.2,297.1 648.7,297.1 650.2,297.1 651.7,297.1 653.2,297.1 654.7,297.1 656.2,297.1 657.7,296.1 659.2,296.1 660.7,296.1 662.3,297.1 663.8,297.1 665.3,297.1 666.8,297.1 668.3,297.1 669.8,297.1 671.3,297.1 672.8,297.1 674.3,297.1 675.8,297.1 677.3,297.1 678.8,297.1 680.3,297.1 681.8,297.1 683.3,297.1" fill="none" stroke="#005a2a" stroke-width="1.15" stroke-linejoin="round" />
<polyline points="427.7,296.1 429.2,296.1 430.7,296.1 432.2,296.1 433.7,296.1 435.2,296.1 436.7,296.1 438.2,296.1 439.7,296.1 441.2,296.1 442.7,296.1 444.2,296.1 445.7,297.1 447.2,296.1 448.7,296.1 450.3,296.1 451.8,296.1 453.3,296.1 454.8,296.1 456.3,296.1 457.8,296.1 459.3,296.1 460.8,296.1 462.3,296.1 463.8,296.1 465.3,296.1 466.8,296.1 468.3,296.1 469.8,296.1 471.3,296.1 472.8,296.1 474.3,296.1 475.8,296.1 477.3,296.1 478.8,296.1 480.3,296.1 481.8,297.1 483.3,296.1 484.8,296.1 486.3,296.1 487.8,296.1 489.3,296.1 490.8,296.1 492.4,296.1 493.9,296.1 495.4,296.1 496.9,296.1 498.4,296.1 499.9,296.1 501.4,296.1 502.9,296.1 504.4,296.1 505.9,296.1 507.4,296.1 508.9,296.1 510.4,296.1 511.9,296.1 513.4,296.1 514.9,296.1 516.4,296.1 517.9,296.1 519.4,297.1 520.9,297.1 522.4,297.1 523.9,297.1 525.4,297.1 526.9,297.1 528.4,297.1 529.9,296.1 531.4,296.1 532.9,296.1 534.5,296.1 536.0,296.1 537.5,296.1 539.0,296.1 540.5,296.1 542.0,296.1 543.5,296.1 545.0,297.1 546.5,297.1 548.0,297.1 549.5,297.1 551.0,297.1 552.5,297.1 554.0,297.1 555.5,296.1 557.0,296.1 558.5,297.1 560.0,297.1 561.5,297.1 563.0,297.1 564.5,297.1 566.0,297.1 567.5,296.1 569.0,297.1 570.5,297.1 572.0,297.1 573.5,296.1 575.0,297.1 576.5,296.1 578.1,296.1 579.6,297.1 581.1,297.1 582.6,296.1 584.1,296.1 585.6,296.1 587.1,296.1 588.6,297.1 590.1,297.1 591.6,297.1 593.1,297.1 594.6,297.1 596.1,297.1 597.6,297.1 599.1,297.1 600.6,297.1 602.1,297.1 603.6,297.1 605.1,297.1 606.6,297.1 608.1,297.1 609.6,297.1 611.1,297.1 612.6,297.1 614.1,297.1 615.6,297.1 617.1,297.1 618.6,297.1 620.2,297.1 621.7,297.1 623.2,297.1 624.7,297.1 626.2,297.1 627.7,297.1 629.2,297.1 630.7,297.1 632.2,297.1 633.7,297.1 635.2,297.1 636.7,297.1 638.2,297.1 639.7,297.1 641.2,297.1 642.7,297.1 644.2,297.1 645.7,297.1 647.2,297.1 648.7,297.1 650.2,297.1 651.7,297.1 653.2,297.1 654.7,297.1 656.2,297.1 657.7,297.1 659.2,297.1 660.7,297.1 662.3,297.1 663.8,297.1 665.3,297.1 666.8,297.1 668.3,297.1 669.8,297.1 671.3,297.1 672.8,297.1 674.3,297.1 675.8,297.1 677.3,297.1 678.8,297.1 680.3,297.1 681.8,297.1 683.3,297.1" fill="none" stroke="#701428" stroke-width="1.15" stroke-linejoin="round" />
<polyline points="427.7,296.1 429.2,296.1 430.7,296.1 432.2,296.1 433.7,296.1 435.2,297.1 436.7,296.1 438.2,296.1 439.7,297.1 441.2,297.1 442.7,296.1 444.2,296.1 445.7,296.1 447.2,296.1 448.7,296.1 450.3,296.1 451.8,296.1 453.3,297.1 454.8,296.1 456.3,296.1 457.8,296.1 459.3,297.1 460.8,297.1 462.3,297.1 463.8,297.1 465.3,297.1 466.8,297.1 468.3,297.1 469.8,297.1 471.3,296.1 472.8,297.1 474.3,297.1 475.8,296.1 477.3,297.1 478.8,297.1 480.3,297.1 481.8,297.1 483.3,296.1 484.8,297.1 486.3,297.1 487.8,297.1 489.3,296.1 490.8,297.1 492.4,297.1 493.9,297.1 495.4,296.1 496.9,297.1 498.4,297.1 499.9,297.1 501.4,297.1 502.9,297.1 504.4,297.1 505.9,297.1 507.4,297.1 508.9,297.1 510.4,297.1 511.9,297.1 513.4,297.1 514.9,297.1 516.4,297.1 517.9,297.1 519.4,297.1 520.9,297.1 522.4,297.1 523.9,296.1 525.4,297.1 526.9,297.1 528.4,297.1 529.9,297.1 531.4,297.1 532.9,296.1 534.5,297.1 536.0,297.1 537.5,297.1 539.0,296.1 540.5,297.1 542.0,297.1 543.5,297.1 545.0,297.1 546.5,297.1 548.0,296.1 549.5,297.1 551.0,297.1 552.5,297.1 554.0,297.1 555.5,297.1 557.0,297.1 558.5,297.1 560.0,297.1 561.5,297.1 563.0,297.1 564.5,297.1 566.0,297.1 567.5,297.1 569.0,297.1 570.5,297.1 572.0,297.1 573.5,297.1 575.0,297.1 576.5,297.1 578.1,297.1 579.6,297.1 581.1,297.1 582.6,297.1 584.1,297.1 585.6,297.1 587.1,297.1 588.6,297.1 590.1,297.1 591.6,297.1 593.1,297.1 594.6,297.1 596.1,297.1 597.6,297.1 599.1,297.1 600.6,297.1 602.1,297.1 603.6,297.1 605.1,297.1 606.6,297.1 608.1,297.1 609.6,297.1 611.1,297.1 612.6,297.1 614.1,297.1 615.6,297.1 617.1,297.1 618.6,297.1 620.2,297.1 621.7,297.1 623.2,297.1 624.7,297.1 626.2,297.1 627.7,297.1 629.2,297.1 630.7,297.1 632.2,297.1 633.7,297.1 635.2,297.1 636.7,297.1 638.2,297.1 639.7,297.1 641.2,297.1 642.7,297.1 644.2,297.1 645.7,297.1 647.2,297.1 648.7,297.1 650.2,297.1 651.7,297.1 653.2,298.2 654.7,297.1 656.2,297.1 657.7,297.1 659.2,297.1 660.7,297.1 662.3,297.1 663.8,297.1 665.3,297.1 666.8,298.2 668.3,297.1 669.8,297.1 671.3,298.2 672.8,298.2 674.3,298.2 675.8,298.2 677.3,298.2 678.8,298.2 680.3,298.2 681.8,298.2 683.3,298.2" fill="none" stroke="#2a40a8" stroke-width="1.15" stroke-linejoin="round" />
<polyline points="427.7,297.1 429.2,297.1 430.7,297.1 432.2,297.1 433.7,297.1 435.2,297.1 436.7,297.1 438.2,297.1 439.7,297.1 441.2,297.1 442.7,297.1 444.2,297.1 445.7,297.1 447.2,297.1 448.7,297.1 450.3,297.1 451.8,297.1 453.3,297.1 454.8,297.1 456.3,297.1 457.8,296.1 459.3,296.1 460.8,297.1 462.3,297.1 463.8,297.1 465.3,297.1 466.8,297.1 468.3,297.1 469.8,297.1 471.3,297.1 472.8,297.1 474.3,297.1 475.8,297.1 477.3,297.1 478.8,297.1 480.3,297.1 481.8,297.1 483.3,297.1 484.8,297.1 486.3,297.1 487.8,297.1 489.3,297.1 490.8,297.1 492.4,297.1 493.9,297.1 495.4,297.1 496.9,297.1 498.4,297.1 499.9,297.1 501.4,297.1 502.9,297.1 504.4,297.1 505.9,297.1 507.4,297.1 508.9,297.1 510.4,297.1 511.9,297.1 513.4,297.1 514.9,297.1 516.4,297.1 517.9,297.1 519.4,297.1 520.9,297.1 522.4,297.1 523.9,297.1 525.4,297.1 526.9,297.1 528.4,297.1 529.9,297.1 531.4,297.1 532.9,297.1 534.5,297.1 536.0,297.1 537.5,297.1 539.0,297.1 540.5,297.1 542.0,297.1 543.5,297.1 545.0,297.1 546.5,297.1 548.0,297.1 549.5,297.1 551.0,297.1 552.5,297.1 554.0,297.1 555.5,297.1 557.0,297.1 558.5,297.1 560.0,297.1 561.5,297.1 563.0,297.1 564.5,297.1 566.0,297.1 567.5,297.1 569.0,297.1 570.5,297.1 572.0,297.1 573.5,297.1 575.0,297.1 576.5,297.1 578.1,297.1 579.6,297.1 581.1,297.1 582.6,297.1 584.1,297.1 585.6,297.1 587.1,297.1 588.6,297.1 590.1,297.1 591.6,297.1 593.1,297.1 594.6,297.1 596.1,297.1 597.6,297.1 599.1,297.1 600.6,297.1 602.1,297.1 603.6,297.1 605.1,297.1 606.6,297.1 608.1,297.1 609.6,297.1 611.1,297.1 612.6,297.1 614.1,297.1 615.6,297.1 617.1,297.1 618.6,297.1 620.2,297.1 621.7,297.1 623.2,297.1 624.7,298.2 626.2,297.1 627.7,297.1 629.2,297.1 630.7,298.2 632.2,298.2 633.7,298.2 635.2,298.2 636.7,298.2 638.2,298.2 639.7,298.2 641.2,298.2 642.7,298.2 644.2,298.2 645.7,298.2 647.2,298.2 648.7,298.2 650.2,298.2 651.7,298.2 653.2,298.2 654.7,298.2 656.2,298.2 657.7,298.2 659.2,298.2 660.7,298.2 662.3,298.2 663.8,298.2 665.3,298.2 666.8,298.2 668.3,298.2 669.8,298.2 671.3,298.2 672.8,298.2 674.3,298.2 675.8,298.2 677.3,298.2 678.8,298.2 680.3,298.2 681.8,298.2 683.3,298.2" fill="none" stroke="#d0a070" stroke-width="1.15" stroke-linejoin="round" />
<polyline points="427.7,297.1 429.2,297.1 430.7,297.1 432.2,297.1 433.7,297.1 435.2,297.1 436.7,297.1 438.2,297.1 439.7,297.1 441.2,297.1 442.7,297.1 444.2,297.1 445.7,297.1 447.2,297.1 448.7,297.1 450.3,297.1 451.8,297.1 453.3,297.1 454.8,297.1 456.3,297.1 457.8,297.1 459.3,297.1 460.8,297.1 462.3,297.1 463.8,297.1 465.3,297.1 466.8,297.1 468.3,297.1 469.8,297.1 471.3,297.1 472.8,297.1 474.3,297.1 475.8,297.1 477.3,297.1 478.8,297.1 480.3,297.1 481.8,297.1 483.3,297.1 484.8,297.1 486.3,297.1 487.8,297.1 489.3,297.1 490.8,297.1 492.4,297.1 493.9,297.1 495.4,297.1 496.9,297.1 498.4,297.1 499.9,297.1 501.4,297.1 502.9,297.1 504.4,297.1 505.9,297.1 507.4,297.1 508.9,297.1 510.4,297.1 511.9,297.1 513.4,297.1 514.9,297.1 516.4,297.1 517.9,297.1 519.4,297.1 520.9,297.1 522.4,297.1 523.9,297.1 525.4,297.1 526.9,297.1 528.4,297.1 529.9,297.1 531.4,297.1 532.9,297.1 534.5,297.1 536.0,297.1 537.5,297.1 539.0,297.1 540.5,297.1 542.0,297.1 543.5,297.1 545.0,297.1 546.5,297.1 548.0,297.1 549.5,297.1 551.0,297.1 552.5,297.1 554.0,297.1 555.5,297.1 557.0,297.1 558.5,297.1 560.0,297.1 561.5,297.1 563.0,297.1 564.5,297.1 566.0,297.1 567.5,297.1 569.0,297.1 570.5,297.1 572.0,297.1 573.5,297.1 575.0,297.1 576.5,297.1 578.1,297.1 579.6,297.1 581.1,297.1 582.6,297.1 584.1,297.1 585.6,298.2 587.1,298.2 588.6,298.2 590.1,298.2 591.6,298.2 593.1,298.2 594.6,298.2 596.1,298.2 597.6,298.2 599.1,298.2 600.6,298.2 602.1,298.2 603.6,298.2 605.1,298.2 606.6,298.2 608.1,298.2 609.6,298.2 611.1,298.2 612.6,298.2 614.1,298.2 615.6,298.2 617.1,298.2 618.6,298.2 620.2,298.2 621.7,298.2 623.2,298.2 624.7,298.2 626.2,298.2 627.7,298.2 629.2,298.2 630.7,298.2 632.2,298.2 633.7,298.2 635.2,298.2 636.7,298.2 638.2,298.2 639.7,298.2 641.2,298.2 642.7,298.2 644.2,298.2 645.7,298.2 647.2,298.2 648.7,298.2 650.2,298.2 651.7,298.2 653.2,298.2 654.7,298.2 656.2,298.2 657.7,298.2 659.2,298.2 660.7,298.2 662.3,299.2 663.8,299.2 665.3,298.2 666.8,298.2 668.3,298.2 669.8,298.2 671.3,298.2 672.8,299.2 674.3,299.2 675.8,299.2 677.3,299.2 678.8,299.2 680.3,299.2 681.8,299.2 683.3,299.2" fill="none" stroke="#4a2a6a" stroke-width="1.15" stroke-linejoin="round" />
<polyline points="427.7,297.1 429.2,297.1 430.7,297.1 432.2,297.1 433.7,297.1 435.2,297.1 436.7,297.1 438.2,297.1 439.7,297.1 441.2,297.1 442.7,297.1 444.2,297.1 445.7,297.1 447.2,297.1 448.7,297.1 450.3,297.1 451.8,297.1 453.3,297.1 454.8,297.1 456.3,297.1 457.8,297.1 459.3,297.1 460.8,297.1 462.3,297.1 463.8,297.1 465.3,297.1 466.8,297.1 468.3,297.1 469.8,297.1 471.3,297.1 472.8,297.1 474.3,297.1 475.8,297.1 477.3,297.1 478.8,297.1 480.3,297.1 481.8,297.1 483.3,297.1 484.8,297.1 486.3,297.1 487.8,297.1 489.3,297.1 490.8,297.1 492.4,297.1 493.9,297.1 495.4,297.1 496.9,297.1 498.4,297.1 499.9,297.1 501.4,297.1 502.9,297.1 504.4,297.1 505.9,297.1 507.4,297.1 508.9,297.1 510.4,297.1 511.9,297.1 513.4,297.1 514.9,297.1 516.4,297.1 517.9,297.1 519.4,297.1 520.9,297.1 522.4,297.1 523.9,297.1 525.4,297.1 526.9,297.1 528.4,297.1 529.9,297.1 531.4,297.1 532.9,297.1 534.5,297.1 536.0,297.1 537.5,297.1 539.0,297.1 540.5,297.1 542.0,297.1 543.5,297.1 545.0,297.1 546.5,297.1 548.0,298.2 549.5,298.2 551.0,297.1 552.5,297.1 554.0,297.1 555.5,297.1 557.0,297.1 558.5,297.1 560.0,297.1 561.5,297.1 563.0,298.2 564.5,298.2 566.0,298.2 567.5,297.1 569.0,298.2 570.5,298.2 572.0,297.1 573.5,297.1 575.0,298.2 576.5,298.2 578.1,298.2 579.6,298.2 581.1,298.2 582.6,298.2 584.1,298.2 585.6,298.2 587.1,298.2 588.6,298.2 590.1,298.2 591.6,298.2 593.1,298.2 594.6,298.2 596.1,298.2 597.6,298.2 599.1,298.2 600.6,298.2 602.1,298.2 603.6,298.2 605.1,298.2 606.6,298.2 608.1,298.2 609.6,298.2 611.1,298.2 612.6,298.2 614.1,298.2 615.6,298.2 617.1,298.2 618.6,298.2 620.2,298.2 621.7,298.2 623.2,298.2 624.7,298.2 626.2,298.2 627.7,298.2 629.2,298.2 630.7,298.2 632.2,298.2 633.7,298.2 635.2,298.2 636.7,298.2 638.2,299.2 639.7,299.2 641.2,299.2 642.7,299.2 644.2,299.2 645.7,299.2 647.2,299.2 648.7,299.2 650.2,299.2 651.7,299.2 653.2,299.2 654.7,299.2 656.2,299.2 657.7,299.2 659.2,299.2 660.7,299.2 662.3,299.2 663.8,299.2 665.3,299.2 666.8,299.2 668.3,299.2 669.8,299.2 671.3,299.2 672.8,299.2 674.3,299.2 675.8,299.2 677.3,299.2 678.8,299.2 680.3,299.2 681.8,300.3 683.3,300.3" fill="none" stroke="#209040" stroke-width="1.15" stroke-linejoin="round" />
<polyline points="427.7,297.1 429.2,297.1 430.7,297.1 432.2,297.1 433.7,297.1 435.2,297.1 436.7,297.1 438.2,297.1 439.7,297.1 441.2,297.1 442.7,297.1 444.2,297.1 445.7,297.1 447.2,297.1 448.7,297.1 450.3,297.1 451.8,297.1 453.3,297.1 454.8,297.1 456.3,297.1 457.8,297.1 459.3,297.1 460.8,297.1 462.3,297.1 463.8,297.1 465.3,297.1 466.8,297.1 468.3,297.1 469.8,297.1 471.3,297.1 472.8,297.1 474.3,297.1 475.8,297.1 477.3,297.1 478.8,297.1 480.3,297.1 481.8,297.1 483.3,297.1 484.8,297.1 486.3,297.1 487.8,297.1 489.3,297.1 490.8,297.1 492.4,297.1 493.9,297.1 495.4,297.1 496.9,297.1 498.4,297.1 499.9,297.1 501.4,297.1 502.9,297.1 504.4,297.1 505.9,297.1 507.4,297.1 508.9,297.1 510.4,298.2 511.9,298.2 513.4,297.1 514.9,297.1 516.4,297.1 517.9,297.1 519.4,297.1 520.9,297.1 522.4,298.2 523.9,298.2 525.4,298.2 526.9,298.2 528.4,298.2 529.9,298.2 531.4,298.2 532.9,297.1 534.5,297.1 536.0,298.2 537.5,298.2 539.0,298.2 540.5,298.2 542.0,298.2 543.5,298.2 545.0,298.2 546.5,298.2 548.0,298.2 549.5,298.2 551.0,298.2 552.5,298.2 554.0,298.2 555.5,298.2 557.0,298.2 558.5,298.2 560.0,298.2 561.5,298.2 563.0,298.2 564.5,298.2 566.0,298.2 567.5,298.2 569.0,298.2 570.5,298.2 572.0,298.2 573.5,298.2 575.0,298.2 576.5,298.2 578.1,298.2 579.6,298.2 581.1,298.2 582.6,298.2 584.1,298.2 585.6,298.2 587.1,298.2 588.6,298.2 590.1,298.2 591.6,298.2 593.1,298.2 594.6,298.2 596.1,298.2 597.6,298.2 599.1,298.2 600.6,298.2 602.1,298.2 603.6,298.2 605.1,298.2 606.6,298.2 608.1,298.2 609.6,299.2 611.1,299.2 612.6,298.2 614.1,298.2 615.6,299.2 617.1,299.2 618.6,299.2 620.2,299.2 621.7,299.2 623.2,299.2 624.7,299.2 626.2,299.2 627.7,299.2 629.2,299.2 630.7,299.2 632.2,299.2 633.7,299.2 635.2,299.2 636.7,299.2 638.2,299.2 639.7,299.2 641.2,299.2 642.7,299.2 644.2,299.2 645.7,299.2 647.2,299.2 648.7,299.2 650.2,299.2 651.7,299.2 653.2,299.2 654.7,300.3 656.2,300.3 657.7,300.3 659.2,300.3 660.7,299.2 662.3,300.3 663.8,300.3 665.3,300.3 666.8,300.3 668.3,300.3 669.8,299.2 671.3,300.3 672.8,300.3 674.3,300.3 675.8,300.3 677.3,300.3 678.8,300.3 680.3,300.3 681.8,300.3 683.3,300.3" fill="none" stroke="#902060" stroke-width="1.15" stroke-linejoin="round" />
<polyline points="427.7,297.1 429.2,297.1 430.7,298.2 432.2,298.2 433.7,298.2 435.2,298.2 436.7,298.2 438.2,297.1 439.7,297.1 441.2,297.1 442.7,297.1 444.2,297.1 445.7,298.2 447.2,297.1 448.7,297.1 450.3,297.1 451.8,298.2 453.3,297.1 454.8,297.1 456.3,297.1 457.8,297.1 459.3,297.1 460.8,297.1 462.3,298.2 463.8,298.2 465.3,298.2 466.8,298.2 468.3,298.2 469.8,298.2 471.3,297.1 472.8,298.2 474.3,298.2 475.8,298.2 477.3,298.2 478.8,298.2 480.3,298.2 481.8,297.1 483.3,297.1 484.8,298.2 486.3,298.2 487.8,298.2 489.3,298.2 490.8,298.2 492.4,298.2 493.9,298.2 495.4,297.1 496.9,298.2 498.4,298.2 499.9,298.2 501.4,298.2 502.9,298.2 504.4,297.1 505.9,298.2 507.4,298.2 508.9,298.2 510.4,298.2 511.9,298.2 513.4,298.2 514.9,298.2 516.4,298.2 517.9,298.2 519.4,298.2 520.9,298.2 522.4,298.2 523.9,298.2 525.4,298.2 526.9,298.2 528.4,298.2 529.9,298.2 531.4,298.2 532.9,298.2 534.5,298.2 536.0,298.2 537.5,298.2 539.0,298.2 540.5,298.2 542.0,298.2 543.5,298.2 545.0,298.2 546.5,298.2 548.0,298.2 549.5,298.2 551.0,298.2 552.5,298.2 554.0,298.2 555.5,298.2 557.0,298.2 558.5,298.2 560.0,298.2 561.5,298.2 563.0,298.2 564.5,298.2 566.0,298.2 567.5,298.2 569.0,298.2 570.5,298.2 572.0,298.2 573.5,298.2 575.0,298.2 576.5,298.2 578.1,298.2 579.6,298.2 581.1,298.2 582.6,299.2 584.1,298.2 585.6,298.2 587.1,298.2 588.6,298.2 590.1,299.2 591.6,299.2 593.1,298.2 594.6,299.2 596.1,299.2 597.6,299.2 599.1,299.2 600.6,299.2 602.1,299.2 603.6,299.2 605.1,299.2 606.6,299.2 608.1,299.2 609.6,299.2 611.1,299.2 612.6,299.2 614.1,299.2 615.6,299.2 617.1,299.2 618.6,299.2 620.2,299.2 621.7,299.2 623.2,299.2 624.7,299.2 626.2,299.2 627.7,299.2 629.2,299.2 630.7,299.2 632.2,299.2 633.7,299.2 635.2,299.2 636.7,300.3 638.2,300.3 639.7,299.2 641.2,299.2 642.7,300.3 644.2,300.3 645.7,300.3 647.2,300.3 648.7,300.3 650.2,300.3 651.7,300.3 653.2,300.3 654.7,300.3 656.2,300.3 657.7,300.3 659.2,300.3 660.7,300.3 662.3,300.3 663.8,300.3 665.3,300.3 666.8,300.3 668.3,300.3 669.8,300.3 671.3,301.3 672.8,301.3 674.3,300.3 675.8,301.3 677.3,301.3 678.8,301.3 680.3,301.3 681.8,301.3 683.3,301.3" fill="none" stroke="#989018" stroke-width="1.15" stroke-linejoin="round" />
<polyline points="427.7,297.1 429.2,298.2 430.7,298.2 432.2,298.2 433.7,297.1 435.2,297.1 436.7,297.1 438.2,298.2 439.7,298.2 441.2,298.2 442.7,298.2 444.2,298.2 445.7,298.2 447.2,298.2 448.7,298.2 450.3,297.1 451.8,297.1 453.3,297.1 454.8,298.2 456.3,298.2 457.8,298.2 459.3,298.2 460.8,298.2 462.3,298.2 463.8,298.2 465.3,298.2 466.8,298.2 468.3,298.2 469.8,298.2 471.3,298.2 472.8,298.2 474.3,298.2 475.8,298.2 477.3,298.2 478.8,298.2 480.3,298.2 481.8,298.2 483.3,298.2 484.8,298.2 486.3,298.2 487.8,298.2 489.3,298.2 490.8,298.2 492.4,298.2 493.9,298.2 495.4,298.2 496.9,298.2 498.4,298.2 499.9,298.2 501.4,298.2 502.9,298.2 504.4,298.2 505.9,298.2 507.4,298.2 508.9,298.2 510.4,298.2 511.9,298.2 513.4,298.2 514.9,298.2 516.4,298.2 517.9,298.2 519.4,298.2 520.9,298.2 522.4,298.2 523.9,298.2 525.4,298.2 526.9,298.2 528.4,298.2 529.9,298.2 531.4,298.2 532.9,298.2 534.5,298.2 536.0,298.2 537.5,298.2 539.0,298.2 540.5,298.2 542.0,298.2 543.5,298.2 545.0,298.2 546.5,298.2 548.0,298.2 549.5,298.2 551.0,299.2 552.5,299.2 554.0,298.2 555.5,298.2 557.0,298.2 558.5,298.2 560.0,298.2 561.5,299.2 563.0,299.2 564.5,299.2 566.0,299.2 567.5,299.2 569.0,299.2 570.5,299.2 572.0,298.2 573.5,298.2 575.0,299.2 576.5,299.2 578.1,299.2 579.6,299.2 581.1,299.2 582.6,299.2 584.1,299.2 585.6,299.2 587.1,299.2 588.6,299.2 590.1,299.2 591.6,299.2 593.1,299.2 594.6,299.2 596.1,299.2 597.6,299.2 599.1,299.2 600.6,299.2 602.1,299.2 603.6,299.2 605.1,299.2 606.6,299.2 608.1,299.2 609.6,299.2 611.1,299.2 612.6,300.3 614.1,300.3 615.6,300.3 617.1,300.3 618.6,299.2 620.2,299.2 621.7,300.3 623.2,300.3 624.7,300.3 626.2,300.3 627.7,300.3 629.2,300.3 630.7,300.3 632.2,300.3 633.7,300.3 635.2,300.3 636.7,300.3 638.2,300.3 639.7,300.3 641.2,300.3 642.7,300.3 644.2,300.3 645.7,300.3 647.2,300.3 648.7,300.3 650.2,300.3 651.7,300.3 653.2,301.3 654.7,301.3 656.2,301.3 657.7,301.3 659.2,301.3 660.7,301.3 662.3,301.3 663.8,301.3 665.3,301.3 666.8,301.3 668.3,301.3 669.8,301.3 671.3,301.3 672.8,301.3 674.3,301.3 675.8,301.3 677.3,301.3 678.8,301.3 680.3,301.3 681.8,302.4 683.3,302.4" fill="none" stroke="#383890" stroke-width="1.15" stroke-linejoin="round" />
<polyline points="427.7,298.2 429.2,298.2 430.7,298.2 432.2,298.2 433.7,298.2 435.2,298.2 436.7,298.2 438.2,298.2 439.7,298.2 441.2,298.2 442.7,298.2 444.2,298.2 445.7,298.2 447.2,298.2 448.7,298.2 450.3,298.2 451.8,298.2 453.3,298.2 454.8,298.2 456.3,298.2 457.8,298.2 459.3,298.2 460.8,298.2 462.3,298.2 463.8,298.2 465.3,298.2 466.8,298.2 468.3,298.2 469.8,298.2 471.3,298.2 472.8,298.2 474.3,298.2 475.8,298.2 477.3,298.2 478.8,298.2 480.3,298.2 481.8,298.2 483.3,298.2 484.8,298.2 486.3,298.2 487.8,298.2 489.3,298.2 490.8,298.2 492.4,298.2 493.9,298.2 495.4,298.2 496.9,298.2 498.4,298.2 499.9,298.2 501.4,298.2 502.9,298.2 504.4,298.2 505.9,298.2 507.4,298.2 508.9,298.2 510.4,298.2 511.9,298.2 513.4,298.2 514.9,298.2 516.4,298.2 517.9,298.2 519.4,298.2 520.9,298.2 522.4,298.2 523.9,299.2 525.4,299.2 526.9,298.2 528.4,298.2 529.9,298.2 531.4,298.2 532.9,298.2 534.5,298.2 536.0,298.2 537.5,298.2 539.0,298.2 540.5,299.2 542.0,299.2 543.5,299.2 545.0,299.2 546.5,299.2 548.0,299.2 549.5,299.2 551.0,299.2 552.5,299.2 554.0,299.2 555.5,299.2 557.0,299.2 558.5,299.2 560.0,299.2 561.5,299.2 563.0,299.2 564.5,299.2 566.0,299.2 567.5,299.2 569.0,299.2 570.5,299.2 572.0,299.2 573.5,299.2 575.0,299.2 576.5,299.2 578.1,299.2 579.6,299.2 581.1,299.2 582.6,299.2 584.1,299.2 585.6,299.2 587.1,299.2 588.6,300.3 590.1,299.2 591.6,300.3 593.1,300.3 594.6,300.3 596.1,300.3 597.6,300.3 599.1,300.3 600.6,300.3 602.1,300.3 603.6,300.3 605.1,300.3 606.6,300.3 608.1,300.3 609.6,300.3 611.1,300.3 612.6,300.3 614.1,300.3 615.6,300.3 617.1,300.3 618.6,300.3 620.2,300.3 621.7,300.3 623.2,300.3 624.7,300.3 626.2,300.3 627.7,300.3 629.2,300.3 630.7,300.3 632.2,301.3 633.7,301.3 635.2,300.3 636.7,301.3 638.2,301.3 639.7,301.3 641.2,301.3 642.7,301.3 644.2,301.3 645.7,301.3 647.2,301.3 648.7,301.3 650.2,301.3 651.7,301.3 653.2,301.3 654.7,301.3 656.2,302.4 657.7,302.4 659.2,302.4 660.7,302.4 662.3,302.4 663.8,302.4 665.3,302.4 666.8,302.4 668.3,302.4 669.8,302.4 671.3,302.4 672.8,302.4 674.3,302.4 675.8,302.4 677.3,302.4 678.8,302.4 680.3,303.4 681.8,303.4 683.3,303.4" fill="none" stroke="#c87018" stroke-width="1.15" stroke-linejoin="round" />
<polyline points="427.7,298.2 429.2,298.2 430.7,298.2 432.2,298.2 433.7,298.2 435.2,298.2 436.7,298.2 438.2,298.2 439.7,298.2 441.2,298.2 442.7,298.2 444.2,298.2 445.7,298.2 447.2,298.2 448.7,298.2 450.3,298.2 451.8,298.2 453.3,298.2 454.8,298.2 456.3,298.2 457.8,298.2 459.3,298.2 460.8,298.2 462.3,298.2 463.8,298.2 465.3,298.2 466.8,298.2 468.3,298.2 469.8,298.2 471.3,298.2 472.8,298.2 474.3,298.2 475.8,298.2 477.3,298.2 478.8,298.2 480.3,298.2 481.8,298.2 483.3,298.2 484.8,298.2 486.3,298.2 487.8,298.2 489.3,298.2 490.8,298.2 492.4,298.2 493.9,298.2 495.4,298.2 496.9,298.2 498.4,298.2 499.9,298.2 501.4,298.2 502.9,298.2 504.4,298.2 505.9,298.2 507.4,298.2 508.9,298.2 510.4,298.2 511.9,298.2 513.4,298.2 514.9,298.2 516.4,298.2 517.9,298.2 519.4,298.2 520.9,298.2 522.4,298.2 523.9,299.2 525.4,299.2 526.9,299.2 528.4,299.2 529.9,299.2 531.4,299.2 532.9,299.2 534.5,299.2 536.0,299.2 537.5,299.2 539.0,299.2 540.5,299.2 542.0,299.2 543.5,299.2 545.0,299.2 546.5,299.2 548.0,299.2 549.5,299.2 551.0,299.2 552.5,299.2 554.0,299.2 555.5,299.2 557.0,299.2 558.5,299.2 560.0,299.2 561.5,299.2 563.0,299.2 564.5,299.2 566.0,299.2 567.5,299.2 569.0,299.2 570.5,299.2 572.0,299.2 573.5,299.2 575.0,299.2 576.5,299.2 578.1,299.2 579.6,300.3 581.1,300.3 582.6,300.3 584.1,300.3 585.6,300.3 587.1,300.3 588.6,300.3 590.1,300.3 591.6,300.3 593.1,300.3 594.6,300.3 596.1,300.3 597.6,300.3 599.1,300.3 600.6,300.3 602.1,300.3 603.6,300.3 605.1,300.3 606.6,300.3 608.1,300.3 609.6,300.3 611.1,300.3 612.6,301.3 614.1,301.3 615.6,301.3 617.1,301.3 618.6,301.3 620.2,301.3 621.7,301.3 623.2,301.3 624.7,301.3 626.2,301.3 627.7,301.3 629.2,301.3 630.7,301.3 632.2,301.3 633.7,301.3 635.2,301.3 636.7,301.3 638.2,302.4 639.7,302.4 641.2,302.4 642.7,302.4 644.2,302.4 645.7,302.4 647.2,302.4 648.7,302.4 650.2,302.4 651.7,302.4 653.2,302.4 654.7,302.4 656.2,302.4 657.7,302.4 659.2,302.4 660.7,302.4 662.3,302.4 663.8,303.4 665.3,303.4 666.8,303.4 668.3,303.4 669.8,303.4 671.3,303.4 672.8,303.4 674.3,303.4 675.8,303.4 677.3,303.4 678.8,303.4 680.3,304.5 681.8,304.5 683.3,304.5" fill="none" stroke="#505050" stroke-width="1.15" stroke-linejoin="round" />
<polyline points="427.7,298.2 429.2,298.2 430.7,298.2 432.2,298.2 433.7,298.2 435.2,298.2 436.7,298.2 438.2,298.2 439.7,298.2 441.2,298.2 442.7,298.2 444.2,298.2 445.7,298.2 447.2,298.2 448.7,298.2 450.3,298.2 451.8,298.2 453.3,298.2 454.8,298.2 456.3,298.2 457.8,298.2 459.3,298.2 460.8,298.2 462.3,298.2 463.8,298.2 465.3,298.2 466.8,298.2 468.3,298.2 469.8,298.2 471.3,298.2 472.8,298.2 474.3,299.2 475.8,298.2 477.3,298.2 478.8,299.2 480.3,299.2 481.8,298.2 483.3,298.2 484.8,298.2 486.3,298.2 487.8,299.2 489.3,299.2 490.8,299.2 492.4,299.2 493.9,298.2 495.4,298.2 496.9,298.2 498.4,299.2 499.9,298.2 501.4,298.2 502.9,299.2 504.4,299.2 505.9,299.2 507.4,299.2 508.9,299.2 510.4,299.2 511.9,299.2 513.4,299.2 514.9,299.2 516.4,299.2 517.9,299.2 519.4,299.2 520.9,299.2 522.4,299.2 523.9,299.2 525.4,299.2 526.9,299.2 528.4,299.2 529.9,299.2 531.4,299.2 532.9,299.2 534.5,299.2 536.0,299.2 537.5,299.2 539.0,299.2 540.5,299.2 542.0,299.2 543.5,299.2 545.0,299.2 546.5,299.2 548.0,299.2 549.5,299.2 551.0,299.2 552.5,299.2 554.0,299.2 555.5,299.2 557.0,299.2 558.5,299.2 560.0,299.2 561.5,300.3 563.0,300.3 564.5,300.3 566.0,300.3 567.5,300.3 569.0,300.3 570.5,300.3 572.0,300.3 573.5,300.3 575.0,300.3 576.5,300.3 578.1,300.3 579.6,300.3 581.1,300.3 582.6,300.3 584.1,300.3 585.6,300.3 587.1,300.3 588.6,300.3 590.1,300.3 591.6,301.3 593.1,301.3 594.6,301.3 596.1,301.3 597.6,301.3 599.1,301.3 600.6,301.3 602.1,301.3 603.6,301.3 605.1,301.3 606.6,301.3 608.1,301.3 609.6,301.3 611.1,301.3 612.6,301.3 614.1,301.3 615.6,301.3 617.1,301.3 618.6,301.3 620.2,302.4 621.7,302.4 623.2,302.4 624.7,302.4 626.2,302.4 627.7,302.4 629.2,302.4 630.7,302.4 632.2,302.4 633.7,302.4 635.2,302.4 636.7,302.4 638.2,302.4 639.7,302.4 641.2,302.4 642.7,302.4 644.2,303.4 645.7,303.4 647.2,303.4 648.7,303.4 650.2,303.4 651.7,303.4 653.2,303.4 654.7,303.4 656.2,303.4 657.7,304.5 659.2,303.4 660.7,303.4 662.3,304.5 663.8,304.5 665.3,304.5 666.8,304.5 668.3,304.5 669.8,304.5 671.3,304.5 672.8,304.5 674.3,304.5 675.8,304.5 677.3,304.5 678.8,304.5 680.3,304.5 681.8,305.5 683.3,305.5" fill="none" stroke="#801818" stroke-width="1.15" stroke-linejoin="round" />
<polyline points="427.7,298.2 429.2,298.2 430.7,298.2 432.2,298.2 433.7,298.2 435.2,298.2 436.7,298.2 438.2,298.2 439.7,298.2 441.2,298.2 442.7,298.2 444.2,298.2 445.7,298.2 447.2,298.2 448.7,298.2 450.3,298.2 451.8,298.2 453.3,298.2 454.8,298.2 456.3,299.2 457.8,298.2 459.3,298.2 460.8,299.2 462.3,299.2 463.8,298.2 465.3,298.2 466.8,298.2 468.3,299.2 469.8,299.2 471.3,299.2 472.8,298.2 474.3,298.2 475.8,299.2 477.3,299.2 478.8,298.2 480.3,298.2 481.8,299.2 483.3,299.2 484.8,299.2 486.3,299.2 487.8,299.2 489.3,299.2 490.8,299.2 492.4,299.2 493.9,299.2 495.4,299.2 496.9,299.2 498.4,299.2 499.9,299.2 501.4,299.2 502.9,299.2 504.4,299.2 505.9,299.2 507.4,299.2 508.9,299.2 510.4,299.2 511.9,299.2 513.4,299.2 514.9,299.2 516.4,299.2 517.9,299.2 519.4,299.2 520.9,299.2 522.4,299.2 523.9,299.2 525.4,299.2 526.9,299.2 528.4,299.2 529.9,299.2 531.4,299.2 532.9,299.2 534.5,299.2 536.0,299.2 537.5,299.2 539.0,299.2 540.5,300.3 542.0,300.3 543.5,300.3 545.0,300.3 546.5,300.3 548.0,300.3 549.5,300.3 551.0,300.3 552.5,300.3 554.0,300.3 555.5,300.3 557.0,300.3 558.5,300.3 560.0,300.3 561.5,300.3 563.0,300.3 564.5,300.3 566.0,300.3 567.5,300.3 569.0,300.3 570.5,300.3 572.0,300.3 573.5,300.3 575.0,300.3 576.5,300.3 578.1,300.3 579.6,300.3 581.1,301.3 582.6,301.3 584.1,301.3 585.6,301.3 587.1,301.3 588.6,301.3 590.1,301.3 591.6,301.3 593.1,301.3 594.6,301.3 596.1,301.3 597.6,301.3 599.1,301.3 600.6,301.3 602.1,301.3 603.6,302.4 605.1,302.4 606.6,301.3 608.1,301.3 609.6,301.3 611.1,302.4 612.6,302.4 614.1,302.4 615.6,302.4 617.1,302.4 618.6,302.4 620.2,302.4 621.7,302.4 623.2,302.4 624.7,302.4 626.2,303.4 627.7,303.4 629.2,303.4 630.7,303.4 632.2,303.4 633.7,303.4 635.2,303.4 636.7,303.4 638.2,304.5 639.7,304.5 641.2,303.4 642.7,303.4 644.2,304.5 645.7,304.5 647.2,304.5 648.7,304.5 650.2,304.5 651.7,304.5 653.2,304.5 654.7,304.5 656.2,304.5 657.7,304.5 659.2,304.5 660.7,304.5 662.3,305.5 663.8,305.5 665.3,305.5 666.8,305.5 668.3,305.5 669.8,305.5 671.3,305.5 672.8,305.5 674.3,305.5 675.8,305.5 677.3,305.5 678.8,305.5 680.3,305.5 681.8,305.5 683.3,306.6" fill="none" stroke="#4090b0" stroke-width="1.15" stroke-linejoin="round" />
<polyline points="427.7,299.2 429.2,298.2 430.7,298.2 432.2,298.2 433.7,298.2 435.2,298.2 436.7,299.2 438.2,299.2 439.7,299.2 441.2,299.2 442.7,299.2 444.2,299.2 445.7,299.2 447.2,299.2 448.7,299.2 450.3,299.2 451.8,299.2 453.3,299.2 454.8,299.2 456.3,299.2 457.8,299.2 459.3,299.2 460.8,299.2 462.3,299.2 463.8,299.2 465.3,299.2 466.8,299.2 468.3,299.2 469.8,299.2 471.3,299.2 472.8,299.2 474.3,299.2 475.8,299.2 477.3,299.2 478.8,299.2 480.3,299.2 481.8,299.2 483.3,299.2 484.8,299.2 486.3,299.2 487.8,299.2 489.3,299.2 490.8,299.2 492.4,299.2 493.9,299.2 495.4,299.2 496.9,299.2 498.4,299.2 499.9,299.2 501.4,299.2 502.9,299.2 504.4,299.2 505.9,299.2 507.4,299.2 508.9,299.2 510.4,299.2 511.9,299.2 513.4,299.2 514.9,299.2 516.4,299.2 517.9,299.2 519.4,299.2 520.9,299.2 522.4,299.2 523.9,300.3 525.4,300.3 526.9,300.3 528.4,300.3 529.9,300.3 531.4,300.3 532.9,300.3 534.5,300.3 536.0,300.3 537.5,300.3 539.0,300.3 540.5,300.3 542.0,300.3 543.5,300.3 545.0,300.3 546.5,300.3 548.0,300.3 549.5,300.3 551.0,300.3 552.5,300.3 554.0,300.3 555.5,300.3 557.0,300.3 558.5,300.3 560.0,300.3 561.5,301.3 563.0,301.3 564.5,300.3 566.0,300.3 567.5,301.3 569.0,301.3 570.5,301.3 572.0,301.3 573.5,301.3 575.0,301.3 576.5,301.3 578.1,301.3 579.6,301.3 581.1,301.3 582.6,301.3 584.1,301.3 585.6,301.3 587.1,301.3 588.6,301.3 590.1,302.4 591.6,302.4 593.1,302.4 594.6,302.4 596.1,302.4 597.6,302.4 599.1,302.4 600.6,302.4 602.1,302.4 603.6,302.4 605.1,302.4 606.6,302.4 608.1,302.4 609.6,303.4 611.1,303.4 612.6,303.4 614.1,303.4 615.6,303.4 617.1,303.4 618.6,303.4 620.2,303.4 621.7,303.4 623.2,303.4 624.7,303.4 626.2,304.5 627.7,303.4 629.2,303.4 630.7,303.4 632.2,304.5 633.7,304.5 635.2,304.5 636.7,304.5 638.2,304.5 639.7,304.5 641.2,304.5 642.7,304.5 644.2,304.5 645.7,304.5 647.2,305.5 648.7,305.5 650.2,305.5 651.7,305.5 653.2,305.5 654.7,305.5 656.2,306.6 657.7,306.6 659.2,305.5 660.7,305.5 662.3,305.5 663.8,306.6 665.3,306.6 666.8,306.6 668.3,306.6 669.8,306.6 671.3,306.6 672.8,306.6 674.3,306.6 675.8,306.6 677.3,306.6 678.8,306.6 680.3,307.6 681.8,307.6 683.3,307.6" fill="none" stroke="#3a6a3a" stroke-width="1.15" stroke-linejoin="round" />
<polyline points="427.7,299.2 429.2,299.2 430.7,299.2 432.2,299.2 433.7,299.2 435.2,299.2 436.7,299.2 438.2,299.2 439.7,299.2 441.2,299.2 442.7,299.2 444.2,299.2 445.7,299.2 447.2,299.2 448.7,299.2 450.3,299.2 451.8,299.2 453.3,299.2 454.8,299.2 456.3,299.2 457.8,299.2 459.3,299.2 460.8,299.2 462.3,299.2 463.8,299.2 465.3,299.2 466.8,299.2 468.3,299.2 469.8,299.2 471.3,299.2 472.8,299.2 474.3,299.2 475.8,299.2 477.3,299.2 478.8,299.2 480.3,299.2 481.8,299.2 483.3,299.2 484.8,299.2 486.3,299.2 487.8,299.2 489.3,299.2 490.8,299.2 492.4,299.2 493.9,299.2 495.4,299.2 496.9,299.2 498.4,299.2 499.9,299.2 501.4,299.2 502.9,299.2 504.4,299.2 505.9,299.2 507.4,299.2 508.9,299.2 510.4,300.3 511.9,300.3 513.4,300.3 514.9,300.3 516.4,300.3 517.9,299.2 519.4,300.3 520.9,300.3 522.4,300.3 523.9,300.3 525.4,300.3 526.9,300.3 528.4,300.3 529.9,300.3 531.4,300.3 532.9,300.3 534.5,300.3 536.0,300.3 537.5,300.3 539.0,300.3 540.5,300.3 542.0,300.3 543.5,300.3 545.0,300.3 546.5,300.3 548.0,300.3 549.5,300.3 551.0,300.3 552.5,300.3 554.0,300.3 555.5,300.3 557.0,301.3 558.5,301.3 560.0,300.3 561.5,301.3 563.0,301.3 564.5,301.3 566.0,301.3 567.5,301.3 569.0,301.3 570.5,301.3 572.0,301.3 573.5,301.3 575.0,301.3 576.5,301.3 578.1,301.3 579.6,301.3 581.1,301.3 582.6,302.4 584.1,302.4 585.6,302.4 587.1,302.4 588.6,302.4 590.1,302.4 591.6,302.4 593.1,302.4 594.6,302.4 596.1,302.4 597.6,303.4 599.1,303.4 600.6,303.4 602.1,303.4 603.6,303.4 605.1,303.4 606.6,303.4 608.1,303.4 609.6,303.4 611.1,303.4 612.6,303.4 614.1,303.4 615.6,303.4 617.1,303.4 618.6,304.5 620.2,304.5 621.7,304.5 623.2,304.5 624.7,304.5 626.2,304.5 627.7,305.5 629.2,304.5 630.7,304.5 632.2,304.5 633.7,304.5 635.2,304.5 636.7,305.5 638.2,305.5 639.7,305.5 641.2,305.5 642.7,305.5 644.2,305.5 645.7,305.5 647.2,306.6 648.7,306.6 650.2,306.6 651.7,306.6 653.2,306.6 654.7,306.6 656.2,306.6 657.7,306.6 659.2,306.6 660.7,306.6 662.3,306.6 663.8,306.6 665.3,307.6 666.8,307.6 668.3,307.6 669.8,307.6 671.3,307.6 672.8,307.6 674.3,307.6 675.8,307.6 677.3,307.6 678.8,307.6 680.3,307.6 681.8,307.6 683.3,308.7" fill="none" stroke="#c81e3c" stroke-width="1.15" stroke-linejoin="round" />
<polyline points="427.7,299.2 429.2,299.2 430.7,299.2 432.2,299.2 433.7,299.2 435.2,299.2 436.7,299.2 438.2,299.2 439.7,299.2 441.2,299.2 442.7,299.2 444.2,299.2 445.7,299.2 447.2,299.2 448.7,299.2 450.3,299.2 451.8,299.2 453.3,299.2 454.8,299.2 456.3,299.2 457.8,299.2 459.3,299.2 460.8,299.2 462.3,299.2 463.8,299.2 465.3,299.2 466.8,299.2 468.3,299.2 469.8,299.2 471.3,299.2 472.8,299.2 474.3,299.2 475.8,299.2 477.3,299.2 478.8,299.2 480.3,299.2 481.8,299.2 483.3,299.2 484.8,299.2 486.3,299.2 487.8,299.2 489.3,299.2 490.8,300.3 492.4,299.2 493.9,299.2 495.4,299.2 496.9,299.2 498.4,299.2 499.9,299.2 501.4,300.3 502.9,300.3 504.4,299.2 505.9,299.2 507.4,299.2 508.9,300.3 510.4,300.3 511.9,300.3 513.4,300.3 514.9,300.3 516.4,300.3 517.9,300.3 519.4,300.3 520.9,300.3 522.4,300.3 523.9,300.3 525.4,300.3 526.9,300.3 528.4,300.3 529.9,300.3 531.4,300.3 532.9,300.3 534.5,301.3 536.0,300.3 537.5,301.3 539.0,301.3 540.5,301.3 542.0,301.3 543.5,301.3 545.0,301.3 546.5,301.3 548.0,301.3 549.5,301.3 551.0,301.3 552.5,301.3 554.0,301.3 555.5,301.3 557.0,301.3 558.5,301.3 560.0,301.3 561.5,301.3 563.0,301.3 564.5,301.3 566.0,301.3 567.5,302.4 569.0,302.4 570.5,302.4 572.0,302.4 573.5,302.4 575.0,302.4 576.5,302.4 578.1,302.4 579.6,302.4 581.1,302.4 582.6,302.4 584.1,303.4 585.6,303.4 587.1,303.4 588.6,303.4 590.1,303.4 591.6,303.4 593.1,303.4 594.6,303.4 596.1,303.4 597.6,303.4 599.1,303.4 600.6,303.4 602.1,304.5 603.6,304.5 605.1,303.4 606.6,303.4 608.1,304.5 609.6,304.5 611.1,304.5 612.6,304.5 614.1,304.5 615.6,304.5 617.1,304.5 618.6,304.5 620.2,305.5 621.7,305.5 623.2,305.5 624.7,305.5 626.2,305.5 627.7,305.5 629.2,305.5 630.7,305.5 632.2,305.5 633.7,306.6 635.2,306.6 636.7,306.6 638.2,306.6 639.7,306.6 641.2,306.6 642.7,306.6 644.2,306.6 645.7,306.6 647.2,307.6 648.7,307.6 650.2,307.6 651.7,307.6 653.2,307.6 654.7,307.6 656.2,307.6 657.7,307.6 659.2,307.6 660.7,307.6 662.3,307.6 663.8,307.6 665.3,308.7 666.8,308.7 668.3,307.6 669.8,307.6 671.3,308.7 672.8,308.7 674.3,308.7 675.8,308.7 677.3,308.7 678.8,308.7 680.3,308.7 681.8,308.7 683.3,308.7" fill="none" stroke="#2a9a50" stroke-width="1.15" stroke-linejoin="round" />
<polyline points="427.7,299.2 429.2,299.2 430.7,299.2 432.2,299.2 433.7,299.2 435.2,299.2 436.7,299.2 438.2,299.2 439.7,299.2 441.2,299.2 442.7,299.2 444.2,299.2 445.7,299.2 447.2,299.2 448.7,299.2 450.3,299.2 451.8,299.2 453.3,299.2 454.8,299.2 456.3,299.2 457.8,299.2 459.3,299.2 460.8,299.2 462.3,299.2 463.8,299.2 465.3,299.2 466.8,299.2 468.3,299.2 469.8,299.2 471.3,299.2 472.8,299.2 474.3,299.2 475.8,299.2 477.3,299.2 478.8,300.3 480.3,300.3 481.8,300.3 483.3,300.3 484.8,300.3 486.3,300.3 487.8,300.3 489.3,299.2 490.8,299.2 492.4,300.3 493.9,299.2 495.4,299.2 496.9,300.3 498.4,300.3 499.9,300.3 501.4,300.3 502.9,300.3 504.4,300.3 505.9,300.3 507.4,300.3 508.9,300.3 510.4,300.3 511.9,300.3 513.4,300.3 514.9,300.3 516.4,300.3 517.9,300.3 519.4,300.3 520.9,300.3 522.4,301.3 523.9,301.3 525.4,301.3 526.9,301.3 528.4,300.3 529.9,301.3 531.4,301.3 532.9,301.3 534.5,301.3 536.0,301.3 537.5,301.3 539.0,301.3 540.5,301.3 542.0,301.3 543.5,301.3 545.0,301.3 546.5,301.3 548.0,301.3 549.5,301.3 551.0,301.3 552.5,301.3 554.0,301.3 555.5,302.4 557.0,302.4 558.5,302.4 560.0,302.4 561.5,302.4 563.0,302.4 564.5,302.4 566.0,302.4 567.5,302.4 569.0,302.4 570.5,302.4 572.0,302.4 573.5,303.4 575.0,303.4 576.5,303.4 578.1,303.4 579.6,303.4 581.1,303.4 582.6,303.4 584.1,303.4 585.6,303.4 587.1,303.4 588.6,303.4 590.1,304.5 591.6,304.5 593.1,304.5 594.6,304.5 596.1,304.5 597.6,304.5 599.1,304.5 600.6,304.5 602.1,304.5 603.6,304.5 605.1,304.5 606.6,304.5 608.1,304.5 609.6,305.5 611.1,305.5 612.6,305.5 614.1,305.5 615.6,305.5 617.1,305.5 618.6,305.5 620.2,306.6 621.7,306.6 623.2,306.6 624.7,306.6 626.2,306.6 627.7,306.6 629.2,306.6 630.7,306.6 632.2,306.6 633.7,306.6 635.2,306.6 636.7,307.6 638.2,307.6 639.7,307.6 641.2,307.6 642.7,307.6 644.2,307.6 645.7,307.6 647.2,307.6 648.7,307.6 650.2,308.7 651.7,308.7 653.2,308.7 654.7,308.7 656.2,308.7 657.7,308.7 659.2,308.7 660.7,308.7 662.3,308.7 663.8,308.7 665.3,308.7 666.8,308.7 668.3,308.7 669.8,308.7 671.3,308.7 672.8,309.7 674.3,309.7 675.8,308.7 677.3,308.7 678.8,308.7 680.3,309.7 681.8,309.7 683.3,309.7" fill="none" stroke="#6a1a8a" stroke-width="1.15" stroke-linejoin="round" />
<polyline points="427.7,299.2 429.2,299.2 430.7,299.2 432.2,299.2 433.7,299.2 435.2,299.2 436.7,299.2 438.2,300.3 439.7,299.2 441.2,299.2 442.7,299.2 444.2,299.2 445.7,299.2 447.2,299.2 448.7,300.3 450.3,300.3 451.8,299.2 453.3,299.2 454.8,299.2 456.3,299.2 457.8,299.2 459.3,300.3 460.8,300.3 462.3,300.3 463.8,300.3 465.3,300.3 466.8,300.3 468.3,300.3 469.8,300.3 471.3,300.3 472.8,300.3 474.3,300.3 475.8,300.3 477.3,300.3 478.8,300.3 480.3,300.3 481.8,300.3 483.3,300.3 484.8,300.3 486.3,300.3 487.8,300.3 489.3,300.3 490.8,300.3 492.4,300.3 493.9,300.3 495.4,300.3 496.9,300.3 498.4,300.3 499.9,300.3 501.4,300.3 502.9,300.3 504.4,300.3 505.9,300.3 507.4,300.3 508.9,300.3 510.4,300.3 511.9,301.3 513.4,301.3 514.9,301.3 516.4,300.3 517.9,300.3 519.4,300.3 520.9,300.3 522.4,301.3 523.9,301.3 525.4,301.3 526.9,301.3 528.4,301.3 529.9,301.3 531.4,301.3 532.9,301.3 534.5,301.3 536.0,301.3 537.5,301.3 539.0,301.3 540.5,302.4 542.0,302.4 543.5,302.4 545.0,301.3 546.5,301.3 548.0,302.4 549.5,302.4 551.0,302.4 552.5,302.4 554.0,302.4 555.5,302.4 557.0,302.4 558.5,302.4 560.0,302.4 561.5,302.4 563.0,302.4 564.5,303.4 566.0,303.4 567.5,302.4 569.0,303.4 570.5,303.4 572.0,303.4 573.5,303.4 575.0,303.4 576.5,303.4 578.1,304.5 579.6,304.5 581.1,303.4 582.6,304.5 584.1,304.5 585.6,304.5 587.1,304.5 588.6,304.5 590.1,304.5 591.6,305.5 593.1,305.5 594.6,305.5 596.1,305.5 597.6,305.5 599.1,305.5 600.6,305.5 602.1,305.5 603.6,305.5 605.1,305.5 606.6,305.5 608.1,305.5 609.6,306.6 611.1,306.6 612.6,306.6 614.1,306.6 615.6,306.6 617.1,306.6 618.6,306.6 620.2,306.6 621.7,307.6 623.2,307.6 624.7,307.6 626.2,307.6 627.7,307.6 629.2,307.6 630.7,307.6 632.2,307.6 633.7,307.6 635.2,307.6 636.7,308.7 638.2,308.7 639.7,308.7 641.2,308.7 642.7,308.7 644.2,308.7 645.7,308.7 647.2,308.7 648.7,308.7 650.2,309.7 651.7,309.7 653.2,309.7 654.7,309.7 656.2,309.7 657.7,309.7 659.2,309.7 660.7,309.7 662.3,309.7 663.8,309.7 665.3,309.7 666.8,309.7 668.3,309.7 669.8,309.7 671.3,309.7 672.8,309.7 674.3,309.7 675.8,309.7 677.3,309.7 678.8,309.7 680.3,309.7 681.8,309.7 683.3,309.7" fill="none" stroke="#b8a828" stroke-width="1.15" stroke-linejoin="round" />
<polyline points="427.7,299.2 429.2,299.2 430.7,300.3 432.2,300.3 433.7,299.2 435.2,300.3 436.7,299.2 438.2,299.2 439.7,299.2 441.2,300.3 442.7,300.3 444.2,300.3 445.7,300.3 447.2,300.3 448.7,299.2 450.3,299.2 451.8,300.3 453.3,300.3 454.8,300.3 456.3,300.3 457.8,300.3 459.3,300.3 460.8,300.3 462.3,300.3 463.8,300.3 465.3,300.3 466.8,300.3 468.3,300.3 469.8,300.3 471.3,300.3 472.8,300.3 474.3,300.3 475.8,300.3 477.3,300.3 478.8,300.3 480.3,300.3 481.8,300.3 483.3,300.3 484.8,300.3 486.3,300.3 487.8,300.3 489.3,300.3 490.8,300.3 492.4,300.3 493.9,300.3 495.4,300.3 496.9,300.3 498.4,300.3 499.9,300.3 501.4,300.3 502.9,300.3 504.4,300.3 505.9,300.3 507.4,300.3 508.9,301.3 510.4,301.3 511.9,301.3 513.4,301.3 514.9,301.3 516.4,301.3 517.9,301.3 519.4,301.3 520.9,301.3 522.4,301.3 523.9,301.3 525.4,301.3 526.9,301.3 528.4,301.3 529.9,301.3 531.4,301.3 532.9,301.3 534.5,302.4 536.0,302.4 537.5,302.4 539.0,302.4 540.5,302.4 542.0,302.4 543.5,302.4 545.0,302.4 546.5,302.4 548.0,302.4 549.5,302.4 551.0,303.4 552.5,303.4 554.0,302.4 555.5,303.4 557.0,303.4 558.5,303.4 560.0,303.4 561.5,303.4 563.0,303.4 564.5,303.4 566.0,303.4 567.5,303.4 569.0,303.4 570.5,304.5 572.0,304.5 573.5,304.5 575.0,304.5 576.5,304.5 578.1,304.5 579.6,304.5 581.1,304.5 582.6,305.5 584.1,305.5 585.6,305.5 587.1,305.5 588.6,305.5 590.1,305.5 591.6,305.5 593.1,305.5 594.6,306.6 596.1,306.6 597.6,306.6 599.1,306.6 600.6,306.6 602.1,306.6 603.6,306.6 605.1,306.6 606.6,306.6 608.1,306.6 609.6,306.6 611.1,307.6 612.6,307.6 614.1,307.6 615.6,307.6 617.1,307.6 618.6,307.6 620.2,307.6 621.7,307.6 623.2,307.6 624.7,308.7 626.2,308.7 627.7,308.7 629.2,308.7 630.7,308.7 632.2,308.7 633.7,308.7 635.2,308.7 636.7,308.7 638.2,309.7 639.7,309.7 641.2,309.7 642.7,309.7 644.2,309.7 645.7,309.7 647.2,309.7 648.7,309.7 650.2,309.7 651.7,309.7 653.2,309.7 654.7,309.7 656.2,310.8 657.7,310.8 659.2,310.8 660.7,309.7 662.3,309.7 663.8,310.8 665.3,310.8 666.8,310.8 668.3,309.7 669.8,309.7 671.3,309.7 672.8,309.7 674.3,309.7 675.8,310.8 677.3,310.8 678.8,309.7 680.3,309.7 681.8,309.7 683.3,309.7" fill="none" stroke="#1e1e70" stroke-width="1.15" stroke-linejoin="round" />
<polyline points="427.7,300.3 429.2,300.3 430.7,300.3 432.2,300.3 433.7,300.3 435.2,300.3 436.7,300.3 438.2,300.3 439.7,300.3 441.2,300.3 442.7,300.3 444.2,300.3 445.7,300.3 447.2,300.3 448.7,300.3 450.3,300.3 451.8,300.3 453.3,300.3 454.8,300.3 456.3,300.3 457.8,300.3 459.3,300.3 460.8,300.3 462.3,300.3 463.8,300.3 465.3,300.3 466.8,300.3 468.3,300.3 469.8,300.3 471.3,300.3 472.8,300.3 474.3,300.3 475.8,300.3 477.3,300.3 478.8,300.3 480.3,300.3 481.8,300.3 483.3,300.3 484.8,300.3 486.3,300.3 487.8,301.3 489.3,300.3 490.8,300.3 492.4,300.3 493.9,300.3 495.4,300.3 496.9,300.3 498.4,301.3 499.9,301.3 501.4,300.3 502.9,300.3 504.4,301.3 505.9,301.3 507.4,301.3 508.9,301.3 510.4,301.3 511.9,301.3 513.4,301.3 514.9,301.3 516.4,301.3 517.9,301.3 519.4,301.3 520.9,301.3 522.4,301.3 523.9,302.4 525.4,302.4 526.9,302.4 528.4,302.4 529.9,302.4 531.4,302.4 532.9,302.4 534.5,302.4 536.0,302.4 537.5,302.4 539.0,302.4 540.5,302.4 542.0,302.4 543.5,302.4 545.0,303.4 546.5,303.4 548.0,303.4 549.5,303.4 551.0,303.4 552.5,303.4 554.0,303.4 555.5,303.4 557.0,303.4 558.5,303.4 560.0,303.4 561.5,304.5 563.0,304.5 564.5,304.5 566.0,304.5 567.5,304.5 569.0,304.5 570.5,304.5 572.0,304.5 573.5,304.5 575.0,304.5 576.5,304.5 578.1,305.5 579.6,305.5 581.1,305.5 582.6,305.5 584.1,305.5 585.6,306.6 587.1,306.6 588.6,306.6 590.1,306.6 591.6,306.6 593.1,306.6 594.6,306.6 596.1,307.6 597.6,307.6 599.1,307.6 600.6,307.6 602.1,307.6 603.6,307.6 605.1,307.6 606.6,307.6 608.1,307.6 609.6,307.6 611.1,308.7 612.6,308.7 614.1,308.7 615.6,308.7 617.1,308.7 618.6,308.7 620.2,308.7 621.7,308.7 623.2,308.7 624.7,309.7 626.2,309.7 627.7,309.7 629.2,309.7 630.7,309.7 632.2,309.7 633.7,309.7 635.2,309.7 636.7,309.7 638.2,310.8 639.7,310.8 641.2,310.8 642.7,310.8 644.2,310.8 645.7,310.8 647.2,310.8 648.7,310.8 650.2,310.8 651.7,310.8 653.2,310.8 654.7,310.8 656.2,310.8 657.7,310.8 659.2,310.8 660.7,310.8 662.3,310.8 663.8,310.8 665.3,310.8 666.8,310.8 668.3,310.8 669.8,309.7 671.3,309.7 672.8,310.8 674.3,310.8 675.8,310.8 677.3,309.7 678.8,309.7 680.3,310.8 681.8,310.8 683.3,309.7" fill="none" stroke="#a84a20" stroke-width="1.15" stroke-linejoin="round" />
<polyline points="427.7,300.3 429.2,300.3 430.7,300.3 432.2,300.3 433.7,300.3 435.2,300.3 436.7,300.3 438.2,300.3 439.7,300.3 441.2,300.3 442.7,300.3 444.2,300.3 445.7,300.3 447.2,300.3 448.7,300.3 450.3,300.3 451.8,300.3 453.3,300.3 454.8,300.3 456.3,300.3 457.8,300.3 459.3,300.3 460.8,300.3 462.3,300.3 463.8,300.3 465.3,300.3 466.8,301.3 468.3,300.3 469.8,300.3 471.3,300.3 472.8,300.3 474.3,300.3 475.8,300.3 477.3,300.3 478.8,301.3 480.3,301.3 481.8,300.3 483.3,300.3 484.8,300.3 486.3,301.3 487.8,301.3 489.3,301.3 490.8,301.3 492.4,301.3 493.9,301.3 495.4,301.3 496.9,301.3 498.4,301.3 499.9,301.3 501.4,301.3 502.9,301.3 504.4,301.3 505.9,301.3 507.4,301.3 508.9,301.3 510.4,301.3 511.9,301.3 513.4,301.3 514.9,301.3 516.4,301.3 517.9,301.3 519.4,301.3 520.9,302.4 522.4,302.4 523.9,302.4 525.4,302.4 526.9,302.4 528.4,302.4 529.9,302.4 531.4,302.4 532.9,302.4 534.5,303.4 536.0,303.4 537.5,303.4 539.0,303.4 540.5,303.4 542.0,303.4 543.5,303.4 545.0,303.4 546.5,303.4 548.0,303.4 549.5,303.4 551.0,303.4 552.5,304.5 554.0,304.5 555.5,304.5 557.0,304.5 558.5,304.5 560.0,304.5 561.5,304.5 563.0,304.5 564.5,304.5 566.0,305.5 567.5,305.5 569.0,305.5 570.5,305.5 572.0,305.5 573.5,305.5 575.0,305.5 576.5,306.6 578.1,306.6 579.6,306.6 581.1,306.6 582.6,306.6 584.1,306.6 585.6,306.6 587.1,306.6 588.6,307.6 590.1,307.6 591.6,307.6 593.1,307.6 594.6,307.6 596.1,307.6 597.6,308.7 599.1,308.7 600.6,308.7 602.1,308.7 603.6,308.7 605.1,308.7 606.6,308.7 608.1,308.7 609.6,308.7 611.1,309.7 612.6,309.7 614.1,309.7 615.6,309.7 617.1,309.7 618.6,309.7 620.2,309.7 621.7,309.7 623.2,309.7 624.7,309.7 626.2,309.7 627.7,310.8 629.2,310.8 630.7,310.8 632.2,310.8 633.7,310.8 635.2,310.8 636.7,310.8 638.2,310.8 639.7,310.8 641.2,310.8 642.7,310.8 644.2,310.8 645.7,310.8 647.2,310.8 648.7,310.8 650.2,310.8 651.7,310.8 653.2,310.8 654.7,311.8 656.2,311.8 657.7,310.8 659.2,310.8 660.7,310.8 662.3,310.8 663.8,310.8 665.3,310.8 666.8,310.8 668.3,310.8 669.8,309.7 671.3,310.8 672.8,310.8 674.3,310.8 675.8,310.8 677.3,309.7 678.8,310.8 680.3,310.8 681.8,309.7 683.3,309.7" fill="none" stroke="#2a7a7a" stroke-width="1.15" stroke-linejoin="round" />
<polyline points="427.7,300.3 429.2,300.3 430.7,300.3 432.2,300.3 433.7,300.3 435.2,300.3 436.7,300.3 438.2,300.3 439.7,300.3 441.2,300.3 442.7,300.3 444.2,300.3 445.7,300.3 447.2,300.3 448.7,300.3 450.3,300.3 451.8,300.3 453.3,300.3 454.8,300.3 456.3,300.3 457.8,300.3 459.3,300.3 460.8,300.3 462.3,300.3 463.8,300.3 465.3,300.3 466.8,301.3 468.3,301.3 469.8,300.3 471.3,300.3 472.8,300.3 474.3,300.3 475.8,301.3 477.3,301.3 478.8,301.3 480.3,301.3 481.8,301.3 483.3,301.3 484.8,301.3 486.3,301.3 487.8,301.3 489.3,301.3 490.8,301.3 492.4,301.3 493.9,301.3 495.4,301.3 496.9,301.3 498.4,301.3 499.9,301.3 501.4,301.3 502.9,301.3 504.4,301.3 505.9,301.3 507.4,301.3 508.9,302.4 510.4,302.4 511.9,302.4 513.4,302.4 514.9,302.4 516.4,302.4 517.9,302.4 519.4,302.4 520.9,302.4 522.4,302.4 523.9,302.4 525.4,302.4 526.9,302.4 528.4,303.4 529.9,303.4 531.4,303.4 532.9,303.4 534.5,303.4 536.0,303.4 537.5,303.4 539.0,303.4 540.5,303.4 542.0,303.4 543.5,304.5 545.0,304.5 546.5,303.4 548.0,304.5 549.5,304.5 551.0,304.5 552.5,304.5 554.0,304.5 555.5,304.5 557.0,304.5 558.5,304.5 560.0,305.5 561.5,305.5 563.0,305.5 564.5,305.5 566.0,305.5 567.5,305.5 569.0,306.6 570.5,306.6 572.0,306.6 573.5,306.6 575.0,306.6 576.5,306.6 578.1,306.6 579.6,307.6 581.1,307.6 582.6,307.6 584.1,307.6 585.6,307.6 587.1,307.6 588.6,307.6 590.1,308.7 591.6,308.7 593.1,308.7 594.6,308.7 596.1,308.7 597.6,309.7 599.1,308.7 600.6,308.7 602.1,309.7 603.6,309.7 605.1,309.7 606.6,309.7 608.1,309.7 609.6,309.7 611.1,309.7 612.6,309.7 614.1,310.8 615.6,310.8 617.1,310.8 618.6,310.8 620.2,310.8 621.7,310.8 623.2,310.8 624.7,310.8 626.2,310.8 627.7,311.8 629.2,310.8 630.7,310.8 632.2,310.8 633.7,310.8 635.2,310.8 636.7,311.8 638.2,311.8 639.7,311.8 641.2,311.8 642.7,311.8 644.2,311.8 645.7,310.8 647.2,311.8 648.7,311.8 650.2,311.8 651.7,311.8 653.2,311.8 654.7,311.8 656.2,311.8 657.7,311.8 659.2,310.8 660.7,310.8 662.3,310.8 663.8,310.8 665.3,310.8 666.8,310.8 668.3,310.8 669.8,309.7 671.3,310.8 672.8,310.8 674.3,309.7 675.8,309.7 677.3,309.7 678.8,309.7 680.3,309.7 681.8,309.7 683.3,309.7" fill="none" stroke="#b83880" stroke-width="1.15" stroke-linejoin="round" />
<polyline points="427.7,300.3 429.2,300.3 430.7,300.3 432.2,300.3 433.7,300.3 435.2,300.3 436.7,301.3 438.2,300.3 439.7,300.3 441.2,300.3 442.7,300.3 444.2,300.3 445.7,301.3 447.2,301.3 448.7,300.3 450.3,300.3 451.8,300.3 453.3,300.3 454.8,300.3 456.3,300.3 457.8,300.3 459.3,301.3 460.8,301.3 462.3,301.3 463.8,301.3 465.3,301.3 466.8,301.3 468.3,301.3 469.8,301.3 471.3,301.3 472.8,301.3 474.3,301.3 475.8,301.3 477.3,301.3 478.8,301.3 480.3,301.3 481.8,301.3 483.3,301.3 484.8,301.3 486.3,301.3 487.8,301.3 489.3,301.3 490.8,301.3 492.4,301.3 493.9,301.3 495.4,301.3 496.9,301.3 498.4,302.4 499.9,302.4 501.4,301.3 502.9,301.3 504.4,302.4 505.9,302.4 507.4,302.4 508.9,302.4 510.4,302.4 511.9,302.4 513.4,302.4 514.9,302.4 516.4,302.4 517.9,302.4 519.4,302.4 520.9,302.4 522.4,303.4 523.9,303.4 525.4,303.4 526.9,303.4 528.4,303.4 529.9,303.4 531.4,303.4 532.9,303.4 534.5,304.5 536.0,304.5 537.5,304.5 539.0,304.5 540.5,304.5 542.0,304.5 543.5,304.5 545.0,304.5 546.5,304.5 548.0,304.5 549.5,305.5 551.0,305.5 552.5,305.5 554.0,305.5 555.5,305.5 557.0,305.5 558.5,305.5 560.0,305.5 561.5,306.6 563.0,306.6 564.5,306.6 566.0,306.6 567.5,306.6 569.0,306.6 570.5,307.6 572.0,307.6 573.5,307.6 575.0,307.6 576.5,307.6 578.1,307.6 579.6,307.6 581.1,308.7 582.6,308.7 584.1,308.7 585.6,308.7 587.1,308.7 588.6,308.7 590.1,309.7 591.6,309.7 593.1,309.7 594.6,309.7 596.1,309.7 597.6,309.7 599.1,309.7 600.6,309.7 602.1,310.8 603.6,310.8 605.1,310.8 606.6,310.8 608.1,310.8 609.6,310.8 611.1,310.8 612.6,310.8 614.1,310.8 615.6,310.8 617.1,311.8 618.6,311.8 620.2,311.8 621.7,311.8 623.2,311.8 624.7,311.8 626.2,311.8 627.7,311.8 629.2,311.8 630.7,311.8 632.2,311.8 633.7,311.8 635.2,311.8 636.7,311.8 638.2,312.9 639.7,311.8 641.2,311.8 642.7,311.8 644.2,311.8 645.7,311.8 647.2,311.8 648.7,311.8 650.2,311.8 651.7,311.8 653.2,311.8 654.7,311.8 656.2,311.8 657.7,311.8 659.2,310.8 660.7,310.8 662.3,310.8 663.8,310.8 665.3,310.8 666.8,310.8 668.3,310.8 669.8,309.7 671.3,309.7 672.8,309.7 674.3,309.7 675.8,309.7 677.3,309.7 678.8,309.7 680.3,309.7 681.8,309.7 683.3,309.7" fill="none" stroke="#005a2a" stroke-width="1.15" stroke-linejoin="round" />
<polyline points="427.7,300.3 429.2,300.3 430.7,300.3 432.2,300.3 433.7,301.3 435.2,301.3 436.7,301.3 438.2,301.3 439.7,301.3 441.2,301.3 442.7,300.3 444.2,301.3 445.7,301.3 447.2,301.3 448.7,300.3 450.3,300.3 451.8,301.3 453.3,301.3 454.8,301.3 456.3,301.3 457.8,300.3 459.3,300.3 460.8,300.3 462.3,301.3 463.8,301.3 465.3,301.3 466.8,301.3 468.3,301.3 469.8,301.3 471.3,301.3 472.8,301.3 474.3,301.3 475.8,301.3 477.3,301.3 478.8,301.3 480.3,301.3 481.8,301.3 483.3,301.3 484.8,301.3 486.3,302.4 487.8,302.4 489.3,301.3 490.8,301.3 492.4,302.4 493.9,302.4 495.4,302.4 496.9,302.4 498.4,302.4 499.9,302.4 501.4,302.4 502.9,302.4 504.4,302.4 505.9,302.4 507.4,302.4 508.9,302.4 510.4,302.4 511.9,303.4 513.4,303.4 514.9,303.4 516.4,303.4 517.9,303.4 519.4,303.4 520.9,303.4 522.4,303.4 523.9,303.4 525.4,303.4 526.9,303.4 528.4,303.4 529.9,304.5 531.4,304.5 532.9,304.5 534.5,304.5 536.0,304.5 537.5,304.5 539.0,304.5 540.5,304.5 542.0,304.5 543.5,305.5 545.0,305.5 546.5,305.5 548.0,305.5 549.5,305.5 551.0,305.5 552.5,306.6 554.0,306.6 555.5,306.6 557.0,306.6 558.5,306.6 560.0,306.6 561.5,306.6 563.0,307.6 564.5,307.6 566.0,307.6 567.5,307.6 569.0,307.6 570.5,307.6 572.0,307.6 573.5,308.7 575.0,308.7 576.5,308.7 578.1,308.7 579.6,308.7 581.1,308.7 582.6,309.7 584.1,309.7 585.6,309.7 587.1,309.7 588.6,309.7 590.1,309.7 591.6,310.8 593.1,310.8 594.6,310.8 596.1,310.8 597.6,310.8 599.1,310.8 600.6,310.8 602.1,310.8 603.6,311.8 605.1,310.8 606.6,310.8 608.1,311.8 609.6,311.8 611.1,311.8 612.6,311.8 614.1,311.8 615.6,311.8 617.1,311.8 618.6,311.8 620.2,311.8 621.7,311.8 623.2,311.8 624.7,312.9 626.2,312.9 627.7,311.8 629.2,311.8 630.7,311.8 632.2,311.8 633.7,311.8 635.2,311.8 636.7,311.8 638.2,312.9 639.7,311.8 641.2,311.8 642.7,311.8 644.2,311.8 645.7,311.8 647.2,311.8 648.7,311.8 650.2,311.8 651.7,311.8 653.2,311.8 654.7,311.8 656.2,311.8 657.7,310.8 659.2,310.8 660.7,310.8 662.3,310.8 663.8,310.8 665.3,310.8 666.8,310.8 668.3,309.7 669.8,309.7 671.3,309.7 672.8,309.7 674.3,309.7 675.8,309.7 677.3,309.7 678.8,309.7 680.3,309.7 681.8,309.7 683.3,308.7" fill="none" stroke="#701428" stroke-width="1.15" stroke-linejoin="round" />
<polyline points="427.7,300.3 429.2,300.3 430.7,300.3 432.2,301.3 433.7,301.3 435.2,301.3 436.7,301.3 438.2,301.3 439.7,301.3 441.2,301.3 442.7,301.3 444.2,301.3 445.7,301.3 447.2,301.3 448.7,301.3 450.3,301.3 451.8,301.3 453.3,301.3 454.8,301.3 456.3,301.3 457.8,301.3 459.3,301.3 460.8,301.3 462.3,301.3 463.8,301.3 465.3,301.3 466.8,301.3 468.3,301.3 469.8,301.3 471.3,301.3 472.8,301.3 474.3,301.3 475.8,302.4 477.3,302.4 478.8,301.3 480.3,301.3 481.8,302.4 483.3,302.4 484.8,302.4 486.3,302.4 487.8,302.4 489.3,302.4 490.8,302.4 492.4,302.4 493.9,302.4 495.4,302.4 496.9,302.4 498.4,302.4 499.9,302.4 501.4,302.4 502.9,302.4 504.4,302.4 505.9,302.4 507.4,302.4 508.9,302.4 510.4,303.4 511.9,303.4 513.4,303.4 514.9,303.4 516.4,303.4 517.9,303.4 519.4,303.4 520.9,304.5 522.4,304.5 523.9,304.5 525.4,304.5 526.9,304.5 528.4,304.5 529.9,304.5 531.4,304.5 532.9,304.5 534.5,305.5 536.0,305.5 537.5,305.5 539.0,305.5 540.5,305.5 542.0,305.5 543.5,305.5 545.0,305.5 546.5,305.5 548.0,306.6 549.5,306.6 551.0,306.6 552.5,306.6 554.0,306.6 555.5,306.6 557.0,307.6 558.5,307.6 560.0,307.6 561.5,307.6 563.0,307.6 564.5,307.6 566.0,307.6 567.5,308.7 569.0,308.7 570.5,308.7 572.0,309.7 573.5,309.7 575.0,309.7 576.5,309.7 578.1,309.7 579.6,309.7 581.1,309.7 582.6,309.7 584.1,310.8 585.6,310.8 587.1,310.8 588.6,310.8 590.1,310.8 591.6,311.8 593.1,311.8 594.6,311.8 596.1,311.8 597.6,311.8 599.1,311.8 600.6,311.8 602.1,311.8 603.6,311.8 605.1,311.8 606.6,311.8 608.1,311.8 609.6,312.9 611.1,312.9 612.6,312.9 614.1,312.9 615.6,312.9 617.1,312.9 618.6,312.9 620.2,312.9 621.7,312.9 623.2,312.9 624.7,312.9 626.2,312.9 627.7,312.9 629.2,312.9 630.7,312.9 632.2,312.9 633.7,311.8 635.2,311.8 636.7,312.9 638.2,312.9 639.7,311.8 641.2,311.8 642.7,311.8 644.2,311.8 645.7,311.8 647.2,311.8 648.7,311.8 650.2,311.8 651.7,311.8 653.2,311.8 654.7,311.8 656.2,310.8 657.7,310.8 659.2,310.8 660.7,310.8 662.3,309.7 663.8,310.8 665.3,310.8 666.8,309.7 668.3,309.7 669.8,309.7 671.3,309.7 672.8,309.7 674.3,309.7 675.8,308.7 677.3,308.7 678.8,308.7 680.3,308.7 681.8,308.7 683.3,308.7" fill="none" stroke="#2a40a8" stroke-width="1.15" stroke-linejoin="round" />
<polyline points="427.7,301.3 429.2,301.3 430.7,301.3 432.2,301.3 433.7,301.3 435.2,301.3 436.7,301.3 438.2,301.3 439.7,301.3 441.2,301.3 442.7,301.3 444.2,301.3 445.7,301.3 447.2,301.3 448.7,301.3 450.3,301.3 451.8,301.3 453.3,301.3 454.8,301.3 456.3,301.3 457.8,301.3 459.3,301.3 460.8,301.3 462.3,301.3 463.8,301.3 465.3,301.3 466.8,301.3 468.3,301.3 469.8,302.4 471.3,302.4 472.8,301.3 474.3,301.3 475.8,301.3 477.3,302.4 478.8,302.4 480.3,302.4 481.8,302.4 483.3,302.4 484.8,302.4 486.3,302.4 487.8,302.4 489.3,302.4 490.8,302.4 492.4,302.4 493.9,302.4 495.4,302.4 496.9,302.4 498.4,303.4 499.9,303.4 501.4,303.4 502.9,303.4 504.4,303.4 505.9,303.4 507.4,303.4 508.9,303.4 510.4,303.4 511.9,303.4 513.4,303.4 514.9,303.4 516.4,304.5 517.9,304.5 519.4,304.5 520.9,304.5 522.4,304.5 523.9,304.5 525.4,304.5 526.9,304.5 528.4,305.5 529.9,305.5 531.4,305.5 532.9,305.5 534.5,305.5 536.0,305.5 537.5,305.5 539.0,306.6 540.5,306.6 542.0,306.6 543.5,306.6 545.0,306.6 546.5,306.6 548.0,306.6 549.5,307.6 551.0,307.6 552.5,307.6 554.0,307.6 555.5,307.6 557.0,308.7 558.5,308.7 560.0,308.7 561.5,308.7 563.0,308.7 564.5,308.7 566.0,308.7 567.5,309.7 569.0,309.7 570.5,309.7 572.0,309.7 573.5,309.7 575.0,310.8 576.5,310.8 578.1,310.8 579.6,310.8 581.1,310.8 582.6,310.8 584.1,311.8 585.6,311.8 587.1,311.8 588.6,311.8 590.1,311.8 591.6,311.8 593.1,312.9 594.6,312.9 596.1,312.9 597.6,312.9 599.1,311.8 600.6,312.9 602.1,312.9 603.6,312.9 605.1,312.9 606.6,312.9 608.1,312.9 609.6,312.9 611.1,312.9 612.6,312.9 614.1,312.9 615.6,312.9 617.1,312.9 618.6,312.9 620.2,312.9 621.7,312.9 623.2,312.9 624.7,312.9 626.2,312.9 627.7,312.9 629.2,312.9 630.7,312.9 632.2,312.9 633.7,311.8 635.2,311.8 636.7,311.8 638.2,312.9 639.7,311.8 641.2,311.8 642.7,311.8 644.2,310.8 645.7,310.8 647.2,310.8 648.7,311.8 650.2,311.8 651.7,310.8 653.2,311.8 654.7,310.8 656.2,310.8 657.7,310.8 659.2,310.8 660.7,309.7 662.3,309.7 663.8,309.7 665.3,309.7 666.8,309.7 668.3,309.7 669.8,308.7 671.3,309.7 672.8,309.7 674.3,308.7 675.8,308.7 677.3,308.7 678.8,308.7 680.3,308.7 681.8,308.7 683.3,307.6" fill="none" stroke="#d0a070" stroke-width="1.15" stroke-linejoin="round" />
<polyline points="427.7,301.3 429.2,301.3 430.7,301.3 432.2,301.3 433.7,301.3 435.2,301.3 436.7,301.3 438.2,301.3 439.7,301.3 441.2,301.3 442.7,301.3 444.2,301.3 445.7,301.3 447.2,301.3 448.7,301.3 450.3,301.3 451.8,301.3 453.3,301.3 454.8,301.3 456.3,301.3 457.8,301.3 459.3,301.3 460.8,301.3 462.3,302.4 463.8,301.3 465.3,301.3 466.8,302.4 468.3,302.4 469.8,302.4 471.3,302.4 472.8,302.4 474.3,302.4 475.8,302.4 477.3,302.4 478.8,302.4 480.3,302.4 481.8,302.4 483.3,302.4 484.8,302.4 486.3,302.4 487.8,303.4 489.3,303.4 490.8,303.4 492.4,303.4 493.9,303.4 495.4,303.4 496.9,303.4 498.4,303.4 499.9,303.4 501.4,303.4 502.9,303.4 504.4,303.4 505.9,303.4 507.4,303.4 508.9,303.4 510.4,304.5 511.9,304.5 513.4,304.5 514.9,304.5 516.4,304.5 517.9,304.5 519.4,304.5 520.9,304.5 522.4,305.5 523.9,305.5 525.4,305.5 526.9,305.5 528.4,305.5 529.9,305.5 531.4,305.5 532.9,305.5 534.5,306.6 536.0,306.6 537.5,306.6 539.0,306.6 540.5,306.6 542.0,307.6 543.5,307.6 545.0,307.6 546.5,307.6 548.0,307.6 549.5,307.6 551.0,308.7 552.5,308.7 554.0,308.7 555.5,308.7 557.0,308.7 558.5,308.7 560.0,308.7 561.5,309.7 563.0,309.7 564.5,309.7 566.0,309.7 567.5,309.7 569.0,310.8 570.5,310.8 572.0,310.8 573.5,310.8 575.0,310.8 576.5,310.8 578.1,311.8 579.6,311.8 581.1,311.8 582.6,311.8 584.1,312.9 585.6,312.9 587.1,312.9 588.6,312.9 590.1,312.9 591.6,312.9 593.1,312.9 594.6,312.9 596.1,312.9 597.6,313.9 599.1,312.9 600.6,312.9 602.1,313.9 603.6,313.9 605.1,312.9 606.6,312.9 608.1,312.9 609.6,312.9 611.1,312.9 612.6,312.9 614.1,312.9 615.6,312.9 617.1,312.9 618.6,312.9 620.2,312.9 621.7,312.9 623.2,312.9 624.7,312.9 626.2,312.9 627.7,312.9 629.2,312.9 630.7,312.9 632.2,312.9 633.7,311.8 635.2,311.8 636.7,311.8 638.2,312.9 639.7,311.8 641.2,311.8 642.7,311.8 644.2,311.8 645.7,310.8 647.2,310.8 648.7,310.8 650.2,310.8 651.7,310.8 653.2,310.8 654.7,310.8 656.2,310.8 657.7,310.8 659.2,309.7 660.7,309.7 662.3,309.7 663.8,309.7 665.3,309.7 666.8,309.7 668.3,308.7 669.8,308.7 671.3,308.7 672.8,308.7 674.3,308.7 675.8,308.7 677.3,308.7 678.8,307.6 680.3,307.6 681.8,307.6 683.3,307.6" fill="none" stroke="#4a2a6a" stroke-width="1.15" stroke-linejoin="round" />
<polyline points="427.7,301.3 429.2,301.3 430.7,301.3 432.2,301.3 433.7,301.3 435.2,301.3 436.7,301.3 438.2,301.3 439.7,301.3 441.2,301.3 442.7,301.3 444.2,301.3 445.7,301.3 447.2,302.4 448.7,302.4 450.3,301.3 451.8,302.4 453.3,302.4 454.8,301.3 456.3,301.3 457.8,301.3 459.3,301.3 460.8,301.3 462.3,302.4 463.8,302.4 465.3,302.4 466.8,302.4 468.3,302.4 469.8,302.4 471.3,302.4 472.8,302.4 474.3,302.4 475.8,302.4 477.3,302.4 478.8,302.4 480.3,302.4 481.8,302.4 483.3,303.4 484.8,303.4 486.3,303.4 487.8,303.4 489.3,303.4 490.8,303.4 492.4,303.4 493.9,303.4 495.4,303.4 496.9,303.4 498.4,303.4 499.9,303.4 501.4,303.4 502.9,303.4 504.4,304.5 505.9,304.5 507.4,304.5 508.9,304.5 510.4,304.5 511.9,304.5 513.4,304.5 514.9,304.5 516.4,305.5 517.9,305.5 519.4,305.5 520.9,305.5 522.4,305.5 523.9,305.5 525.4,305.5 526.9,306.6 528.4,306.6 529.9,306.6 531.4,306.6 532.9,306.6 534.5,306.6 536.0,307.6 537.5,307.6 539.0,307.6 540.5,307.6 542.0,307.6 543.5,308.7 545.0,308.7 546.5,308.7 548.0,308.7 549.5,308.7 551.0,308.7 552.5,309.7 554.0,309.7 555.5,309.7 557.0,309.7 558.5,309.7 560.0,309.7 561.5,310.8 563.0,310.8 564.5,310.8 566.0,310.8 567.5,310.8 569.0,311.8 570.5,311.8 572.0,311.8 573.5,311.8 575.0,311.8 576.5,311.8 578.1,311.8 579.6,312.9 581.1,312.9 582.6,312.9 584.1,312.9 585.6,312.9 587.1,312.9 588.6,313.9 590.1,313.9 591.6,313.9 593.1,313.9 594.6,313.9 596.1,313.9 597.6,313.9 599.1,313.9 600.6,313.9 602.1,313.9 603.6,313.9 605.1,313.9 606.6,313.9 608.1,312.9 609.6,313.9 611.1,313.9 612.6,313.9 614.1,313.9 615.6,312.9 617.1,312.9 618.6,312.9 620.2,312.9 621.7,312.9 623.2,312.9 624.7,312.9 626.2,312.9 627.7,312.9 629.2,312.9 630.7,312.9 632.2,312.9 633.7,311.8 635.2,311.8 636.7,311.8 638.2,311.8 639.7,311.8 641.2,311.8 642.7,310.8 644.2,310.8 645.7,310.8 647.2,310.8 648.7,310.8 650.2,310.8 651.7,310.8 653.2,310.8 654.7,310.8 656.2,309.7 657.7,309.7 659.2,309.7 660.7,308.7 662.3,308.7 663.8,308.7 665.3,309.7 666.8,309.7 668.3,308.7 669.8,308.7 671.3,308.7 672.8,308.7 674.3,307.6 675.8,307.6 677.3,307.6 678.8,307.6 680.3,307.6 681.8,307.6 683.3,307.6" fill="none" stroke="#209040" stroke-width="1.15" stroke-linejoin="round" />
<polyline points="427.7,301.3 429.2,301.3 430.7,301.3 432.2,301.3 433.7,301.3 435.2,301.3 436.7,301.3 438.2,302.4 439.7,302.4 441.2,302.4 442.7,302.4 444.2,302.4 445.7,302.4 447.2,302.4 448.7,302.4 450.3,302.4 451.8,302.4 453.3,302.4 454.8,302.4 456.3,302.4 457.8,302.4 459.3,302.4 460.8,302.4 462.3,302.4 463.8,302.4 465.3,302.4 466.8,302.4 468.3,302.4 469.8,302.4 471.3,302.4 472.8,302.4 474.3,302.4 475.8,302.4 477.3,302.4 478.8,303.4 480.3,303.4 481.8,303.4 483.3,303.4 484.8,303.4 486.3,303.4 487.8,303.4 489.3,303.4 490.8,303.4 492.4,303.4 493.9,303.4 495.4,303.4 496.9,304.5 498.4,304.5 499.9,304.5 501.4,304.5 502.9,304.5 504.4,304.5 505.9,304.5 507.4,304.5 508.9,304.5 510.4,305.5 511.9,305.5 513.4,305.5 514.9,305.5 516.4,305.5 517.9,305.5 519.4,305.5 520.9,305.5 522.4,306.6 523.9,306.6 525.4,306.6 526.9,306.6 528.4,306.6 529.9,307.6 531.4,307.6 532.9,307.6 534.5,307.6 536.0,308.7 537.5,307.6 539.0,307.6 540.5,308.7 542.0,308.7 543.5,308.7 545.0,308.7 546.5,308.7 548.0,309.7 549.5,309.7 551.0,309.7 552.5,309.7 554.0,310.8 555.5,310.8 557.0,310.8 558.5,310.8 560.0,310.8 561.5,310.8 563.0,311.8 564.5,311.8 566.0,311.8 567.5,311.8 569.0,311.8 570.5,312.9 572.0,312.9 573.5,312.9 575.0,312.9 576.5,312.9 578.1,312.9 579.6,312.9 581.1,313.9 582.6,313.9 584.1,313.9 585.6,313.9 587.1,313.9 588.6,313.9 590.1,313.9 591.6,313.9 593.1,313.9 594.6,313.9 596.1,313.9 597.6,313.9 599.1,313.9 600.6,313.9 602.1,313.9 603.6,313.9 605.1,313.9 606.6,313.9 608.1,313.9 609.6,313.9 611.1,313.9 612.6,313.9 614.1,313.9 615.6,312.9 617.1,312.9 618.6,312.9 620.2,312.9 621.7,312.9 623.2,312.9 624.7,312.9 626.2,312.9 627.7,312.9 629.2,311.8 630.7,311.8 632.2,311.8 633.7,311.8 635.2,311.8 636.7,311.8 638.2,311.8 639.7,311.8 641.2,310.8 642.7,310.8 644.2,310.8 645.7,310.8 647.2,310.8 648.7,310.8 650.2,310.8 651.7,309.7 653.2,309.7 654.7,309.7 656.2,309.7 657.7,309.7 659.2,309.7 660.7,308.7 662.3,308.7 663.8,308.7 665.3,308.7 666.8,308.7 668.3,308.7 669.8,307.6 671.3,307.6 672.8,307.6 674.3,307.6 675.8,307.6 677.3,307.6 678.8,307.6 680.3,307.6 681.8,306.6 683.3,306.6" fill="none" stroke="#902060" stroke-width="1.15" stroke-linejoin="round" />
<polyline points="427.7,301.3 429.2,301.3 430.7,302.4 432.2,302.4 433.7,302.4 435.2,302.4 436.7,302.4 438.2,302.4 439.7,302.4 441.2,302.4 442.7,302.4 444.2,302.4 445.7,302.4 447.2,302.4 448.7,302.4 450.3,302.4 451.8,302.4 453.3,302.4 454.8,302.4 456.3,302.4 457.8,302.4 459.3,302.4 460.8,302.4 462.3,302.4 463.8,302.4 465.3,302.4 466.8,302.4 468.3,303.4 469.8,302.4 471.3,302.4 472.8,302.4 474.3,303.4 475.8,303.4 477.3,303.4 478.8,303.4 480.3,303.4 481.8,303.4 483.3,303.4 484.8,303.4 486.3,303.4 487.8,303.4 489.3,303.4 490.8,303.4 492.4,303.4 493.9,303.4 495.4,304.5 496.9,304.5 498.4,304.5 499.9,304.5 501.4,304.5 502.9,304.5 504.4,304.5 505.9,304.5 507.4,305.5 508.9,305.5 510.4,305.5 511.9,305.5 513.4,305.5 514.9,305.5 516.4,305.5 517.9,305.5 519.4,306.6 520.9,306.6 522.4,306.6 523.9,307.6 525.4,307.6 526.9,307.6 528.4,307.6 529.9,307.6 531.4,307.6 532.9,308.7 534.5,308.7 536.0,308.7 537.5,308.7 539.0,308.7 540.5,308.7 542.0,309.7 543.5,309.7 545.0,309.7 546.5,309.7 548.0,309.7 549.5,310.8 551.0,310.8 552.5,310.8 554.0,310.8 555.5,310.8 557.0,311.8 558.5,311.8 560.0,311.8 561.5,311.8 563.0,312.9 564.5,312.9 566.0,312.9 567.5,312.9 569.0,312.9 570.5,313.9 572.0,313.9 573.5,313.9 575.0,313.9 576.5,313.9 578.1,313.9 579.6,313.9 581.1,313.9 582.6,313.9 584.1,315.0 585.6,315.0 587.1,315.0 588.6,315.0 590.1,315.0 591.6,315.0 593.1,315.0 594.6,315.0 596.1,315.0 597.6,315.0 599.1,315.0 600.6,315.0 602.1,315.0 603.6,313.9 605.1,313.9 606.6,313.9 608.1,313.9 609.6,313.9 611.1,313.9 612.6,313.9 614.1,313.9 615.6,313.9 617.1,312.9 618.6,312.9 620.2,312.9 621.7,312.9 623.2,312.9 624.7,312.9 626.2,312.9 627.7,311.8 629.2,311.8 630.7,311.8 632.2,311.8 633.7,311.8 635.2,310.8 636.7,310.8 638.2,311.8 639.7,310.8 641.2,310.8 642.7,310.8 644.2,309.7 645.7,309.7 647.2,309.7 648.7,309.7 650.2,309.7 651.7,309.7 653.2,309.7 654.7,309.7 656.2,309.7 657.7,308.7 659.2,308.7 660.7,308.7 662.3,307.6 663.8,308.7 665.3,308.7 666.8,308.7 668.3,307.6 669.8,307.6 671.3,307.6 672.8,307.6 674.3,307.6 675.8,307.6 677.3,307.6 678.8,306.6 680.3,306.6 681.8,306.6 683.3,306.6" fill="none" stroke="#989018" stroke-width="1.15" stroke-linejoin="round" />
<polyline points="427.7,301.3 429.2,301.3 430.7,302.4 432.2,302.4 433.7,302.4 435.2,302.4 436.7,302.4 438.2,302.4 439.7,302.4 441.2,302.4 442.7,302.4 444.2,302.4 445.7,302.4 447.2,302.4 448.7,302.4 450.3,302.4 451.8,302.4 453.3,302.4 454.8,302.4 456.3,302.4 457.8,302.4 459.3,302.4 460.8,302.4 462.3,302.4 463.8,303.4 465.3,303.4 466.8,303.4 468.3,303.4 469.8,303.4 471.3,303.4 472.8,303.4 474.3,303.4 475.8,303.4 477.3,303.4 478.8,303.4 480.3,303.4 481.8,303.4 483.3,303.4 484.8,304.5 486.3,304.5 487.8,304.5 489.3,304.5 490.8,304.5 492.4,304.5 493.9,304.5 495.4,304.5 496.9,304.5 498.4,304.5 499.9,304.5 501.4,305.5 502.9,305.5 504.4,305.5 505.9,305.5 507.4,305.5 508.9,305.5 510.4,306.6 511.9,306.6 513.4,306.6 514.9,306.6 516.4,306.6 517.9,306.6 519.4,306.6 520.9,307.6 522.4,307.6 523.9,307.6 525.4,307.6 526.9,307.6 528.4,308.7 529.9,308.7 531.4,308.7 532.9,308.7 534.5,309.7 536.0,309.7 537.5,309.7 539.0,309.7 540.5,309.7 542.0,309.7 543.5,310.8 545.0,310.8 546.5,310.8 548.0,310.8 549.5,310.8 551.0,311.8 552.5,311.8 554.0,311.8 555.5,311.8 557.0,311.8 558.5,311.8 560.0,311.8 561.5,312.9 563.0,313.9 564.5,313.9 566.0,313.9 567.5,313.9 569.0,313.9 570.5,313.9 572.0,313.9 573.5,315.0 575.0,315.0 576.5,315.0 578.1,315.0 579.6,315.0 581.1,315.0 582.6,315.0 584.1,315.0 585.6,315.0 587.1,315.0 588.6,315.0 590.1,315.0 591.6,315.0 593.1,315.0 594.6,315.0 596.1,315.0 597.6,315.0 599.1,315.0 600.6,315.0 602.1,315.0 603.6,315.0 605.1,313.9 606.6,313.9 608.1,313.9 609.6,313.9 611.1,313.9 612.6,313.9 614.1,313.9 615.6,313.9 617.1,312.9 618.6,312.9 620.2,311.8 621.7,311.8 623.2,311.8 624.7,311.8 626.2,311.8 627.7,311.8 629.2,311.8 630.7,311.8 632.2,311.8 633.7,310.8 635.2,310.8 636.7,310.8 638.2,310.8 639.7,310.8 641.2,309.7 642.7,309.7 644.2,309.7 645.7,309.7 647.2,309.7 648.7,309.7 650.2,309.7 651.7,309.7 653.2,309.7 654.7,308.7 656.2,308.7 657.7,308.7 659.2,308.7 660.7,307.6 662.3,307.6 663.8,307.6 665.3,307.6 666.8,307.6 668.3,307.6 669.8,307.6 671.3,307.6 672.8,307.6 674.3,306.6 675.8,306.6 677.3,306.6 678.8,306.6 680.3,306.6 681.8,306.6 683.3,306.6" fill="none" stroke="#383890" stroke-width="1.15" stroke-linejoin="round" />
<polyline points="427.7,302.4 429.2,302.4 430.7,302.4 432.2,302.4 433.7,302.4 435.2,302.4 436.7,302.4 438.2,302.4 439.7,302.4 441.2,302.4 442.7,302.4 444.2,302.4 445.7,302.4 447.2,302.4 448.7,302.4 450.3,302.4 451.8,303.4 453.3,303.4 454.8,302.4 456.3,302.4 457.8,302.4 459.3,302.4 460.8,302.4 462.3,303.4 463.8,303.4 465.3,303.4 466.8,303.4 468.3,303.4 469.8,303.4 471.3,303.4 472.8,303.4 474.3,303.4 475.8,303.4 477.3,303.4 478.8,303.4 480.3,303.4 481.8,303.4 483.3,304.5 484.8,304.5 486.3,304.5 487.8,304.5 489.3,304.5 490.8,304.5 492.4,304.5 493.9,304.5 495.4,304.5 496.9,305.5 498.4,305.5 499.9,305.5 501.4,305.5 502.9,305.5 504.4,305.5 505.9,305.5 507.4,305.5 508.9,306.6 510.4,306.6 511.9,306.6 513.4,306.6 514.9,306.6 516.4,306.6 517.9,306.6 519.4,307.6 520.9,307.6 522.4,307.6 523.9,308.7 525.4,308.7 526.9,308.7 528.4,308.7 529.9,309.7 531.4,309.7 532.9,309.7 534.5,309.7 536.0,310.8 537.5,310.8 539.0,310.8 540.5,310.8 542.0,310.8 543.5,310.8 545.0,311.8 546.5,311.8 548.0,311.8 549.5,311.8 551.0,312.9 552.5,312.9 554.0,312.9 555.5,312.9 557.0,312.9 558.5,312.9 560.0,312.9 561.5,313.9 563.0,313.9 564.5,313.9 566.0,313.9 567.5,313.9 569.0,315.0 570.5,315.0 572.0,315.0 573.5,315.0 575.0,315.0 576.5,315.0 578.1,315.0 579.6,315.0 581.1,315.0 582.6,316.0 584.1,316.0 585.6,316.0 587.1,315.0 588.6,315.0 590.1,315.0 591.6,315.0 593.1,316.0 594.6,315.0 596.1,315.0 597.6,315.0 599.1,315.0 600.6,315.0 602.1,315.0 603.6,313.9 605.1,313.9 606.6,313.9 608.1,313.9 609.6,313.9 611.1,313.9 612.6,313.9 614.1,312.9 615.6,312.9 617.1,312.9 618.6,312.9 620.2,311.8 621.7,311.8 623.2,311.8 624.7,311.8 626.2,311.8 627.7,311.8 629.2,311.8 630.7,310.8 632.2,310.8 633.7,310.8 635.2,310.8 636.7,310.8 638.2,310.8 639.7,309.7 641.2,309.7 642.7,309.7 644.2,309.7 645.7,308.7 647.2,308.7 648.7,308.7 650.2,308.7 651.7,308.7 653.2,308.7 654.7,308.7 656.2,308.7 657.7,308.7 659.2,308.7 660.7,307.6 662.3,307.6 663.8,307.6 665.3,307.6 666.8,307.6 668.3,307.6 669.8,306.6 671.3,306.6 672.8,306.6 674.3,306.6 675.8,306.6 677.3,306.6 678.8,306.6 680.3,306.6 681.8,306.6 683.3,306.6" fill="none" stroke="#c87018" stroke-width="1.15" stroke-linejoin="round" />
<polyline points="427.7,302.4 429.2,302.4 430.7,302.4 432.2,302.4 433.7,302.4 435.2,302.4 436.7,302.4 438.2,302.4 439.7,302.4 441.2,302.4 442.7,302.4 444.2,302.4 445.7,303.4 447.2,303.4 448.7,302.4 450.3,302.4 451.8,302.4 453.3,303.4 454.8,302.4 456.3,303.4 457.8,303.4 459.3,303.4 460.8,303.4 462.3,303.4 463.8,303.4 465.3,303.4 466.8,303.4 468.3,303.4 469.8,303.4 471.3,303.4 472.8,303.4 474.3,303.4 475.8,304.5 477.3,304.5 478.8,304.5 480.3,304.5 481.8,304.5 483.3,304.5 484.8,304.5 486.3,304.5 487.8,304.5 489.3,304.5 490.8,304.5 492.4,304.5 493.9,305.5 495.4,305.5 496.9,305.5 498.4,305.5 499.9,305.5 501.4,305.5 502.9,305.5 504.4,305.5 505.9,306.6 507.4,306.6 508.9,306.6 510.4,306.6 511.9,306.6 513.4,307.6 514.9,307.6 516.4,307.6 517.9,307.6 519.4,307.6 520.9,308.7 522.4,308.7 523.9,308.7 525.4,309.7 526.9,309.7 528.4,309.7 529.9,309.7 531.4,309.7 532.9,310.8 534.5,310.8 536.0,310.8 537.5,311.8 539.0,311.8 540.5,311.8 542.0,311.8 543.5,311.8 545.0,312.9 546.5,312.9 548.0,312.9 549.5,312.9 551.0,312.9 552.5,313.9 554.0,313.9 555.5,313.9 557.0,313.9 558.5,313.9 560.0,313.9 561.5,315.0 563.0,315.0 564.5,315.0 566.0,315.0 567.5,315.0 569.0,315.0 570.5,316.0 572.0,316.0 573.5,316.0 575.0,316.0 576.5,316.0 578.1,316.0 579.6,316.0 581.1,316.0 582.6,316.0 584.1,316.0 585.6,316.0 587.1,315.0 588.6,315.0 590.1,316.0 591.6,316.0 593.1,316.0 594.6,315.0 596.1,315.0 597.6,315.0 599.1,315.0 600.6,315.0 602.1,315.0 603.6,313.9 605.1,313.9 606.6,313.9 608.1,312.9 609.6,312.9 611.1,312.9 612.6,312.9 614.1,312.9 615.6,312.9 617.1,312.9 618.6,311.8 620.2,311.8 621.7,311.8 623.2,311.8 624.7,311.8 626.2,311.8 627.7,310.8 629.2,310.8 630.7,310.8 632.2,310.8 633.7,310.8 635.2,309.7 636.7,310.8 638.2,310.8 639.7,309.7 641.2,309.7 642.7,308.7 644.2,308.7 645.7,308.7 647.2,308.7 648.7,308.7 650.2,308.7 651.7,308.7 653.2,308.7 654.7,308.7 656.2,308.7 657.7,308.7 659.2,307.6 660.7,307.6 662.3,307.6 663.8,307.6 665.3,307.6 666.8,307.6 668.3,306.6 669.8,306.6 671.3,306.6 672.8,306.6 674.3,306.6 675.8,306.6 677.3,306.6 678.8,306.6 680.3,306.6 681.8,306.6 683.3,306.6" fill="none" stroke="#505050" stroke-width="1.15" stroke-linejoin="round" />
<polyline points="427.7,302.4 429.2,302.4 430.7,302.4 432.2,302.4 433.7,302.4 435.2,302.4 436.7,302.4 438.2,302.4 439.7,302.4 441.2,302.4 442.7,302.4 444.2,303.4 445.7,303.4 447.2,303.4 448.7,303.4 450.3,303.4 451.8,303.4 453.3,303.4 454.8,303.4 456.3,303.4 457.8,303.4 459.3,303.4 460.8,303.4 462.3,303.4 463.8,303.4 465.3,303.4 466.8,303.4 468.3,304.5 469.8,303.4 471.3,303.4 472.8,303.4 474.3,304.5 475.8,304.5 477.3,304.5 478.8,304.5 480.3,304.5 481.8,304.5 483.3,304.5 484.8,305.5 486.3,305.5 487.8,305.5 489.3,305.5 490.8,305.5 492.4,305.5 493.9,305.5 495.4,305.5 496.9,306.6 498.4,306.6 499.9,306.6 501.4,306.6 502.9,306.6 504.4,306.6 505.9,306.6 507.4,306.6 508.9,307.6 510.4,307.6 511.9,307.6 513.4,307.6 514.9,307.6 516.4,308.7 517.9,308.7 519.4,308.7 520.9,309.7 522.4,309.7 523.9,309.7 525.4,309.7 526.9,310.8 528.4,310.8 529.9,310.8 531.4,310.8 532.9,310.8 534.5,311.8 536.0,311.8 537.5,311.8 539.0,311.8 540.5,312.9 542.0,312.9 543.5,312.9 545.0,313.9 546.5,312.9 548.0,312.9 549.5,313.9 551.0,313.9 552.5,315.0 554.0,315.0 555.5,315.0 557.0,315.0 558.5,315.0 560.0,315.0 561.5,315.0 563.0,316.0 564.5,316.0 566.0,316.0 567.5,316.0 569.0,316.0 570.5,316.0 572.0,316.0 573.5,316.0 575.0,316.0 576.5,316.0 578.1,316.0 579.6,316.0 581.1,316.0 582.6,316.0 584.1,316.0 585.6,316.0 587.1,316.0 588.6,316.0 590.1,316.0 591.6,315.0 593.1,315.0 594.6,315.0 596.1,315.0 597.6,315.0 599.1,315.0 600.6,313.9 602.1,315.0 603.6,313.9 605.1,313.9 606.6,313.9 608.1,312.9 609.6,312.9 611.1,312.9 612.6,312.9 614.1,312.9 615.6,311.8 617.1,311.8 618.6,311.8 620.2,311.8 621.7,311.8 623.2,310.8 624.7,310.8 626.2,310.8 627.7,310.8 629.2,310.8 630.7,310.8 632.2,310.8 633.7,309.7 635.2,309.7 636.7,309.7 638.2,309.7 639.7,309.7 641.2,308.7 642.7,308.7 644.2,308.7 645.7,308.7 647.2,308.7 648.7,308.7 650.2,308.7 651.7,308.7 653.2,308.7 654.7,307.6 656.2,307.6 657.7,307.6 659.2,307.6 660.7,307.6 662.3,306.6 663.8,306.6 665.3,307.6 666.8,307.6 668.3,306.6 669.8,306.6 671.3,306.6 672.8,306.6 674.3,306.6 675.8,306.6 677.3,306.6 678.8,306.6 680.3,306.6 681.8,306.6 683.3,305.5" fill="none" stroke="#801818" stroke-width="1.15" stroke-linejoin="round" />
<polyline points="427.7,303.4 429.2,303.4 430.7,303.4 432.2,303.4 433.7,303.4 435.2,303.4 436.7,302.4 438.2,302.4 439.7,302.4 441.2,303.4 442.7,303.4 444.2,303.4 445.7,303.4 447.2,303.4 448.7,303.4 450.3,303.4 451.8,303.4 453.3,303.4 454.8,303.4 456.3,303.4 457.8,303.4 459.3,303.4 460.8,303.4 462.3,303.4 463.8,304.5 465.3,304.5 466.8,304.5 468.3,304.5 469.8,304.5 471.3,304.5 472.8,304.5 474.3,304.5 475.8,304.5 477.3,304.5 478.8,304.5 480.3,304.5 481.8,304.5 483.3,305.5 484.8,305.5 486.3,305.5 487.8,305.5 489.3,305.5 490.8,305.5 492.4,306.6 493.9,306.6 495.4,306.6 496.9,306.6 498.4,306.6 499.9,306.6 501.4,306.6 502.9,306.6 504.4,307.6 505.9,307.6 507.4,307.6 508.9,307.6 510.4,308.7 511.9,308.7 513.4,308.7 514.9,308.7 516.4,308.7 517.9,308.7 519.4,309.7 520.9,309.7 522.4,310.8 523.9,310.8 525.4,310.8 526.9,310.8 528.4,310.8 529.9,311.8 531.4,311.8 532.9,311.8 534.5,311.8 536.0,312.9 537.5,312.9 539.0,312.9 540.5,312.9 542.0,313.9 543.5,313.9 545.0,313.9 546.5,313.9 548.0,315.0 549.5,315.0 551.0,315.0 552.5,316.0 554.0,315.0 555.5,315.0 557.0,316.0 558.5,316.0 560.0,316.0 561.5,316.0 563.0,317.1 564.5,316.0 566.0,316.0 567.5,317.1 569.0,317.1 570.5,317.1 572.0,317.1 573.5,317.1 575.0,317.1 576.5,317.1 578.1,316.0 579.6,316.0 581.1,316.0 582.6,316.0 584.1,316.0 585.6,316.0 587.1,316.0 588.6,316.0 590.1,316.0 591.6,316.0 593.1,315.0 594.6,315.0 596.1,315.0 597.6,315.0 599.1,315.0 600.6,313.9 602.1,313.9 603.6,313.9 605.1,313.9 606.6,312.9 608.1,312.9 609.6,312.9 611.1,312.9 612.6,312.9 614.1,311.8 615.6,311.8 617.1,311.8 618.6,311.8 620.2,310.8 621.7,310.8 623.2,310.8 624.7,310.8 626.2,310.8 627.7,310.8 629.2,309.7 630.7,309.7 632.2,309.7 633.7,309.7 635.2,309.7 636.7,309.7 638.2,309.7 639.7,309.7 641.2,308.7 642.7,308.7 644.2,308.7 645.7,308.7 647.2,307.6 648.7,307.6 650.2,307.6 651.7,307.6 653.2,307.6 654.7,307.6 656.2,307.6 657.7,307.6 659.2,307.6 660.7,306.6 662.3,306.6 663.8,306.6 665.3,306.6 666.8,306.6 668.3,306.6 669.8,306.6 671.3,306.6 672.8,306.6 674.3,306.6 675.8,306.6 677.3,306.6 678.8,305.5 680.3,306.6 681.8,306.6 683.3,305.5" fill="none" stroke="#4090b0" stroke-width="1.15" stroke-linejoin="round" />
<polyline points="427.7,303.4 429.2,303.4 430.7,303.4 432.2,303.4 433.7,303.4 435.2,303.4 436.7,303.4 438.2,303.4 439.7,303.4 441.2,303.4 442.7,303.4 444.2,303.4 445.7,303.4 447.2,303.4 448.7,303.4 450.3,303.4 451.8,303.4 453.3,303.4 454.8,303.4 456.3,303.4 457.8,303.4 459.3,303.4 460.8,303.4 462.3,304.5 463.8,304.5 465.3,304.5 466.8,304.5 468.3,304.5 469.8,304.5 471.3,304.5 472.8,304.5 474.3,304.5 475.8,305.5 477.3,305.5 478.8,305.5 480.3,305.5 481.8,305.5 483.3,305.5 484.8,305.5 486.3,306.6 487.8,306.6 489.3,306.6 490.8,306.6 492.4,306.6 493.9,306.6 495.4,306.6 496.9,306.6 498.4,307.6 499.9,307.6 501.4,307.6 502.9,307.6 504.4,307.6 505.9,307.6 507.4,307.6 508.9,308.7 510.4,308.7 511.9,308.7 513.4,308.7 514.9,309.7 516.4,309.7 517.9,309.7 519.4,309.7 520.9,310.8 522.4,310.8 523.9,311.8 525.4,311.8 526.9,311.8 528.4,311.8 529.9,312.9 531.4,312.9 532.9,312.9 534.5,312.9 536.0,313.9 537.5,313.9 539.0,313.9 540.5,313.9 542.0,315.0 543.5,315.0 545.0,315.0 546.5,315.0 548.0,315.0 549.5,316.0 551.0,316.0 552.5,316.0 554.0,316.0 555.5,316.0 557.0,317.1 558.5,316.0 560.0,316.0 561.5,317.1 563.0,317.1 564.5,317.1 566.0,317.1 567.5,317.1 569.0,317.1 570.5,317.1 572.0,317.1 573.5,317.1 575.0,317.1 576.5,317.1 578.1,316.0 579.6,316.0 581.1,316.0 582.6,317.1 584.1,316.0 585.6,316.0 587.1,316.0 588.6,316.0 590.1,315.0 591.6,315.0 593.1,315.0 594.6,315.0 596.1,315.0 597.6,313.9 599.1,313.9 600.6,313.9 602.1,313.9 603.6,313.9 605.1,312.9 606.6,312.9 608.1,312.9 609.6,312.9 611.1,312.9 612.6,311.8 614.1,311.8 615.6,311.8 617.1,310.8 618.6,310.8 620.2,310.8 621.7,310.8 623.2,310.8 624.7,310.8 626.2,310.8 627.7,309.7 629.2,309.7 630.7,309.7 632.2,309.7 633.7,309.7 635.2,308.7 636.7,309.7 638.2,309.7 639.7,308.7 641.2,308.7 642.7,308.7 644.2,307.6 645.7,307.6 647.2,307.6 648.7,307.6 650.2,307.6 651.7,307.6 653.2,307.6 654.7,307.6 656.2,307.6 657.7,307.6 659.2,306.6 660.7,306.6 662.3,306.6 663.8,306.6 665.3,306.6 666.8,306.6 668.3,306.6 669.8,306.6 671.3,306.6 672.8,306.6 674.3,306.6 675.8,306.6 677.3,305.5 678.8,305.5 680.3,305.5 681.8,305.5 683.3,305.5" fill="none" stroke="#3a6a3a" stroke-width="1.15" stroke-linejoin="round" />
<polyline points="427.7,303.4 429.2,303.4 430.7,303.4 432.2,303.4 433.7,303.4 435.2,303.4 436.7,303.4 438.2,303.4 439.7,303.4 441.2,303.4 442.7,303.4 444.2,303.4 445.7,303.4 447.2,304.5 448.7,303.4 450.3,303.4 451.8,303.4 453.3,303.4 454.8,303.4 456.3,303.4 457.8,303.4 459.3,304.5 460.8,304.5 462.3,304.5 463.8,304.5 465.3,304.5 466.8,304.5 468.3,304.5 469.8,304.5 471.3,304.5 472.8,305.5 474.3,305.5 475.8,305.5 477.3,305.5 478.8,305.5 480.3,305.5 481.8,305.5 483.3,305.5 484.8,306.6 486.3,306.6 487.8,306.6 489.3,306.6 490.8,306.6 492.4,306.6 493.9,306.6 495.4,306.6 496.9,307.6 498.4,307.6 499.9,307.6 501.4,307.6 502.9,307.6 504.4,308.7 505.9,308.7 507.4,308.7 508.9,308.7 510.4,309.7 511.9,309.7 513.4,309.7 514.9,309.7 516.4,309.7 517.9,310.8 519.4,310.8 520.9,311.8 522.4,311.8 523.9,312.9 525.4,312.9 526.9,312.9 528.4,312.9 529.9,312.9 531.4,313.9 532.9,313.9 534.5,313.9 536.0,315.0 537.5,315.0 539.0,315.0 540.5,315.0 542.0,315.0 543.5,316.0 545.0,316.0 546.5,316.0 548.0,316.0 549.5,317.1 551.0,317.1 552.5,317.1 554.0,317.1 555.5,317.1 557.0,317.1 558.5,317.1 560.0,317.1 561.5,317.1 563.0,317.1 564.5,317.1 566.0,317.1 567.5,317.1 569.0,317.1 570.5,317.1 572.0,317.1 573.5,317.1 575.0,317.1 576.5,317.1 578.1,316.0 579.6,316.0 581.1,316.0 582.6,316.0 584.1,316.0 585.6,316.0 587.1,315.0 588.6,315.0 590.1,315.0 591.6,315.0 593.1,315.0 594.6,315.0 596.1,313.9 597.6,313.9 599.1,313.9 600.6,313.9 602.1,313.9 603.6,313.9 605.1,312.9 606.6,312.9 608.1,311.8 609.6,311.8 611.1,311.8 612.6,311.8 614.1,311.8 615.6,310.8 617.1,310.8 618.6,310.8 620.2,310.8 621.7,310.8 623.2,309.7 624.7,309.7 626.2,309.7 627.7,309.7 629.2,309.7 630.7,309.7 632.2,308.7 633.7,308.7 635.2,308.7 636.7,308.7 638.2,308.7 639.7,308.7 641.2,307.6 642.7,307.6 644.2,307.6 645.7,307.6 647.2,307.6 648.7,307.6 650.2,307.6 651.7,307.6 653.2,307.6 654.7,307.6 656.2,307.6 657.7,307.6 659.2,307.6 660.7,306.6 662.3,306.6 663.8,306.6 665.3,306.6 666.8,306.6 668.3,306.6 669.8,305.5 671.3,305.5 672.8,305.5 674.3,305.5 675.8,306.6 677.3,305.5 678.8,305.5 680.3,305.5 681.8,305.5 683.3,305.5" fill="none" stroke="#c81e3c" stroke-width="1.15" stroke-linejoin="round" />
<polyline points="427.7,303.4 429.2,303.4 430.7,303.4 432.2,303.4 433.7,303.4 435.2,303.4 436.7,303.4 438.2,303.4 439.7,303.4 441.2,303.4 442.7,303.4 444.2,303.4 445.7,304.5 447.2,304.5 448.7,304.5 450.3,304.5 451.8,304.5 453.3,304.5 454.8,304.5 456.3,304.5 457.8,304.5 459.3,304.5 460.8,304.5 462.3,304.5 463.8,304.5 465.3,304.5 466.8,305.5 468.3,305.5 469.8,305.5 471.3,305.5 472.8,305.5 474.3,305.5 475.8,305.5 477.3,305.5 478.8,306.6 480.3,306.6 481.8,306.6 483.3,306.6 484.8,306.6 486.3,306.6 487.8,306.6 489.3,306.6 490.8,307.6 492.4,307.6 493.9,307.6 495.4,307.6 496.9,307.6 498.4,307.6 499.9,308.7 501.4,308.7 502.9,308.7 504.4,308.7 505.9,309.7 507.4,309.7 508.9,309.7 510.4,310.8 511.9,310.8 513.4,310.8 514.9,310.8 516.4,310.8 517.9,310.8 519.4,311.8 520.9,311.8 522.4,312.9 523.9,312.9 525.4,312.9 526.9,313.9 528.4,313.9 529.9,313.9 531.4,313.9 532.9,313.9 534.5,315.0 536.0,315.0 537.5,316.0 539.0,316.0 540.5,316.0 542.0,316.0 543.5,316.0 545.0,317.1 546.5,316.0 548.0,317.1 549.5,317.1 551.0,317.1 552.5,318.1 554.0,318.1 555.5,317.1 557.0,318.1 558.5,318.1 560.0,317.1 561.5,318.1 563.0,318.1 564.5,317.1 566.0,317.1 567.5,318.1 569.0,317.1 570.5,318.1 572.0,317.1 573.5,317.1 575.0,317.1 576.5,317.1 578.1,316.0 579.6,316.0 581.1,316.0 582.6,316.0 584.1,316.0 585.6,316.0 587.1,315.0 588.6,315.0 590.1,315.0 591.6,315.0 593.1,315.0 594.6,313.9 596.1,313.9 597.6,313.9 599.1,312.9 600.6,312.9 602.1,312.9 603.6,312.9 605.1,311.8 606.6,311.8 608.1,311.8 609.6,311.8 611.1,311.8 612.6,310.8 614.1,310.8 615.6,310.8 617.1,310.8 618.6,310.8 620.2,309.7 621.7,309.7 623.2,309.7 624.7,309.7 626.2,309.7 627.7,309.7 629.2,308.7 630.7,308.7 632.2,308.7 633.7,308.7 635.2,308.7 636.7,308.7 638.2,308.7 639.7,308.7 641.2,307.6 642.7,307.6 644.2,307.6 645.7,307.6 647.2,307.6 648.7,307.6 650.2,307.6 651.7,307.6 653.2,307.6 654.7,307.6 656.2,307.6 657.7,307.6 659.2,306.6 660.7,306.6 662.3,306.6 663.8,306.6 665.3,306.6 666.8,306.6 668.3,306.6 669.8,306.6 671.3,305.5 672.8,305.5 674.3,305.5 675.8,305.5 677.3,305.5 678.8,305.5 680.3,305.5 681.8,305.5 683.3,305.5" fill="none" stroke="#2a9a50" stroke-width="1.15" stroke-linejoin="round" />
<polyline points="427.7,303.4 429.2,303.4 430.7,303.4 432.2,303.4 433.7,303.4 435.2,303.4 436.7,303.4 438.2,303.4 439.7,304.5 441.2,303.4 442.7,303.4 444.2,304.5 445.7,304.5 447.2,304.5 448.7,304.5 450.3,304.5 451.8,304.5 453.3,304.5 454.8,304.5 456.3,304.5 457.8,304.5 459.3,304.5 460.8,304.5 462.3,304.5 463.8,305.5 465.3,305.5 466.8,305.5 468.3,305.5 469.8,305.5 471.3,305.5 472.8,305.5 474.3,305.5 475.8,305.5 477.3,305.5 478.8,306.6 480.3,306.6 481.8,306.6 483.3,306.6 484.8,306.6 486.3,306.6 487.8,307.6 489.3,307.6 490.8,307.6 492.4,307.6 493.9,307.6 495.4,307.6 496.9,308.7 498.4,308.7 499.9,308.7 501.4,308.7 502.9,308.7 504.4,309.7 505.9,309.7 507.4,309.7 508.9,310.8 510.4,310.8 511.9,310.8 513.4,310.8 514.9,311.8 516.4,311.8 517.9,311.8 519.4,311.8 520.9,312.9 522.4,313.9 523.9,313.9 525.4,313.9 526.9,313.9 528.4,315.0 529.9,315.0 531.4,315.0 532.9,315.0 534.5,316.0 536.0,316.0 537.5,317.1 539.0,316.0 540.5,317.1 542.0,317.1 543.5,317.1 545.0,317.1 546.5,317.1 548.0,317.1 549.5,317.1 551.0,318.1 552.5,318.1 554.0,318.1 555.5,318.1 557.0,318.1 558.5,318.1 560.0,318.1 561.5,318.1 563.0,318.1 564.5,318.1 566.0,317.1 567.5,318.1 569.0,318.1 570.5,318.1 572.0,317.1 573.5,317.1 575.0,317.1 576.5,317.1 578.1,316.0 579.6,316.0 581.1,316.0 582.6,316.0 584.1,316.0 585.6,315.0 587.1,315.0 588.6,315.0 590.1,315.0 591.6,313.9 593.1,313.9 594.6,313.9 596.1,313.9 597.6,312.9 599.1,312.9 600.6,312.9 602.1,312.9 603.6,312.9 605.1,311.8 606.6,311.8 608.1,311.8 609.6,311.8 611.1,310.8 612.6,310.8 614.1,310.8 615.6,310.8 617.1,309.7 618.6,309.7 620.2,309.7 621.7,309.7 623.2,308.7 624.7,308.7 626.2,309.7 627.7,308.7 629.2,308.7 630.7,308.7 632.2,308.7 633.7,308.7 635.2,308.7 636.7,308.7 638.2,308.7 639.7,307.6 641.2,307.6 642.7,307.6 644.2,307.6 645.7,307.6 647.2,307.6 648.7,307.6 650.2,307.6 651.7,307.6 653.2,307.6 654.7,307.6 656.2,307.6 657.7,306.6 659.2,306.6 660.7,306.6 662.3,306.6 663.8,306.6 665.3,306.6 666.8,306.6 668.3,306.6 669.8,305.5 671.3,305.5 672.8,305.5 674.3,305.5 675.8,305.5 677.3,305.5 678.8,305.5 680.3,305.5 681.8,305.5 683.3,305.5" fill="none" stroke="#6a1a8a" stroke-width="1.15" stroke-linejoin="round" />
<polyline points="427.7,303.4 429.2,303.4 430.7,303.4 432.2,304.5 433.7,304.5 435.2,303.4 436.7,304.5 438.2,304.5 439.7,304.5 441.2,304.5 442.7,304.5 444.2,304.5 445.7,304.5 447.2,304.5 448.7,304.5 450.3,304.5 451.8,304.5 453.3,304.5 454.8,304.5 456.3,304.5 457.8,304.5 459.3,304.5 460.8,304.5 462.3,305.5 463.8,305.5 465.3,305.5 466.8,305.5 468.3,305.5 469.8,305.5 471.3,305.5 472.8,305.5 474.3,306.6 475.8,306.6 477.3,306.6 478.8,306.6 480.3,306.6 481.8,306.6 483.3,306.6 484.8,307.6 486.3,307.6 487.8,307.6 489.3,307.6 490.8,307.6 492.4,308.7 493.9,308.7 495.4,308.7 496.9,308.7 498.4,309.7 499.9,309.7 501.4,309.7 502.9,309.7 504.4,309.7 505.9,310.8 507.4,310.8 508.9,310.8 510.4,311.8 511.9,311.8 513.4,311.8 514.9,311.8 516.4,311.8 517.9,312.9 519.4,312.9 520.9,313.9 522.4,313.9 523.9,315.0 525.4,315.0 526.9,315.0 528.4,315.0 529.9,316.0 531.4,316.0 532.9,316.0 534.5,317.1 536.0,317.1 537.5,317.1 539.0,317.1 540.5,317.1 542.0,318.1 543.5,318.1 545.0,318.1 546.5,318.1 548.0,318.1 549.5,318.1 551.0,318.1 552.5,319.1 554.0,318.1 555.5,318.1 557.0,318.1 558.5,318.1 560.0,318.1 561.5,318.1 563.0,318.1 564.5,318.1 566.0,318.1 567.5,318.1 569.0,318.1 570.5,318.1 572.0,317.1 573.5,317.1 575.0,317.1 576.5,317.1 578.1,316.0 579.6,316.0 581.1,316.0 582.6,316.0 584.1,316.0 585.6,315.0 587.1,315.0 588.6,315.0 590.1,313.9 591.6,313.9 593.1,313.9 594.6,313.9 596.1,312.9 597.6,312.9 599.1,312.9 600.6,312.9 602.1,312.9 603.6,311.8 605.1,311.8 606.6,311.8 608.1,310.8 609.6,310.8 611.1,310.8 612.6,310.8 614.1,310.8 615.6,310.8 617.1,309.7 618.6,309.7 620.2,309.7 621.7,308.7 623.2,309.7 624.7,308.7 626.2,308.7 627.7,308.7 629.2,308.7 630.7,308.7 632.2,308.7 633.7,307.6 635.2,307.6 636.7,307.6 638.2,307.6 639.7,307.6 641.2,307.6 642.7,307.6 644.2,307.6 645.7,307.6 647.2,307.6 648.7,307.6 650.2,306.6 651.7,306.6 653.2,307.6 654.7,307.6 656.2,306.6 657.7,306.6 659.2,306.6 660.7,306.6 662.3,306.6 663.8,306.6 665.3,306.6 666.8,306.6 668.3,305.5 669.8,305.5 671.3,305.5 672.8,305.5 674.3,305.5 675.8,306.6 677.3,305.5 678.8,305.5 680.3,305.5 681.8,305.5 683.3,305.5" fill="none" stroke="#b8a828" stroke-width="1.15" stroke-linejoin="round" />
<polyline points="427.7,303.4 429.2,303.4 430.7,303.4 432.2,303.4 433.7,303.4 435.2,303.4 436.7,304.5 438.2,304.5 439.7,304.5 441.2,304.5 442.7,303.4 444.2,304.5 445.7,305.5 447.2,304.5 448.7,305.5 450.3,305.5 451.8,305.5 453.3,305.5 454.8,306.6 456.3,307.6 457.8,307.6 459.3,307.6 460.8,308.7 462.3,307.6 463.8,307.6 465.3,308.7 466.8,308.7 468.3,307.6 469.8,308.7 471.3,309.7 472.8,309.7 474.3,309.7 475.8,311.8 477.3,312.9 478.8,312.9 480.3,312.9 481.8,313.9 483.3,315.0 484.8,317.1 486.3,317.1 487.8,317.1 489.3,316.0 490.8,316.0 492.4,317.1 493.9,317.1 495.4,318.1 496.9,320.2 498.4,320.2 499.9,320.2 501.4,321.2 502.9,321.2 504.4,322.3 505.9,324.4 507.4,324.4 508.9,323.3 510.4,323.3 511.9,323.3 513.4,323.3 514.9,323.3 516.4,323.3 517.9,323.3 519.4,322.3 520.9,322.3 522.4,322.3 523.9,322.3 525.4,321.2 526.9,320.2 528.4,320.2 529.9,320.2 531.4,319.1 532.9,319.1 534.5,319.1 536.0,318.1 537.5,318.1 539.0,318.1 540.5,317.1 542.0,317.1 543.5,316.0 545.0,315.0 546.5,316.0 548.0,316.0 549.5,315.0 551.0,313.9 552.5,312.9 554.0,312.9 555.5,312.9 557.0,311.8 558.5,310.8 560.0,309.7 561.5,309.7 563.0,310.8 564.5,309.7 566.0,309.7 567.5,309.7 569.0,309.7 570.5,308.7 572.0,308.7 573.5,307.6 575.0,307.6 576.5,308.7 578.1,307.6 579.6,306.6 581.1,307.6 582.6,307.6 584.1,306.6 585.6,305.5 587.1,305.5 588.6,306.6 590.1,307.6 591.6,306.6 593.1,305.5 594.6,304.5 596.1,305.5 597.6,305.5 599.1,304.5 600.6,305.5 602.1,306.6 603.6,305.5 605.1,305.5 606.6,305.5 608.1,305.5 609.6,304.5 611.1,304.5 612.6,305.5 614.1,306.6 615.6,305.5 617.1,304.5 618.6,305.5 620.2,305.5 621.7,304.5 623.2,304.5 624.7,304.5 626.2,304.5 627.7,305.5 629.2,305.5 630.7,305.5 632.2,306.6 633.7,307.6 635.2,307.6 636.7,306.6 638.2,306.6 639.7,306.6 641.2,306.6 642.7,306.6 644.2,306.6 645.7,306.6 647.2,306.6 648.7,307.6 650.2,307.6 651.7,306.6 653.2,306.6 654.7,306.6 656.2,307.6 657.7,309.7 659.2,310.8 660.7,310.8 662.3,310.8 663.8,311.8 665.3,310.8 666.8,311.8 668.3,312.9 669.8,312.9 671.3,312.9 672.8,313.9 674.3,315.0 675.8,315.0 677.3,313.9 678.8,315.0 680.3,315.0 681.8,317.1 683.3,319.1" fill="none" stroke="#9a9a9a" stroke-width="1.0" stroke-linejoin="round" />
<polyline points="427.7,305.5 429.2,304.5 430.7,305.5 432.2,305.5 433.7,305.5 435.2,305.5 436.7,305.5 438.2,305.5 439.7,306.6 441.2,306.6 442.7,307.6 444.2,307.6 445.7,307.6 447.2,307.6 448.7,309.7 450.3,310.8 451.8,310.8 453.3,310.8 454.8,311.8 456.3,312.9 457.8,312.9 459.3,312.9 460.8,313.9 462.3,312.9 463.8,312.9 465.3,313.9 466.8,315.0 468.3,316.0 469.8,316.0 471.3,318.1 472.8,318.1 474.3,319.1 475.8,321.2 477.3,322.3 478.8,322.3 480.3,322.3 481.8,323.3 483.3,325.4 484.8,325.4 486.3,326.5 487.8,326.5 489.3,326.5 490.8,327.5 492.4,328.6 493.9,327.5 495.4,326.5 496.9,327.5 498.4,328.6 499.9,328.6 501.4,328.6 502.9,327.5 504.4,327.5 505.9,327.5 507.4,325.4 508.9,324.4 510.4,324.4 511.9,322.3 513.4,321.2 514.9,321.2 516.4,320.2 517.9,319.1 519.4,319.1 520.9,318.1 522.4,318.1 523.9,316.0 525.4,315.0 526.9,315.0 528.4,315.0 529.9,313.9 531.4,312.9 532.9,312.9 534.5,312.9 536.0,311.8 537.5,311.8 539.0,310.8 540.5,309.7 542.0,310.8 543.5,309.7 545.0,308.7 546.5,309.7 548.0,309.7 549.5,308.7 551.0,306.6 552.5,306.6 554.0,306.6 555.5,308.7 557.0,308.7 558.5,307.6 560.0,305.5 561.5,305.5 563.0,306.6 564.5,306.6 566.0,307.6 567.5,307.6 569.0,306.6 570.5,305.5 572.0,306.6 573.5,306.6 575.0,306.6 576.5,307.6 578.1,306.6 579.6,305.5 581.1,306.6 582.6,306.6 584.1,306.6 585.6,306.6 587.1,305.5 588.6,306.6 590.1,307.6 591.6,307.6 593.1,306.6 594.6,307.6 596.1,308.7 597.6,308.7 599.1,308.7 600.6,309.7 602.1,309.7 603.6,309.7 605.1,309.7 606.6,309.7 608.1,309.7 609.6,309.7 611.1,310.8 612.6,312.9 614.1,313.9 615.6,312.9 617.1,312.9 618.6,313.9 620.2,313.9 621.7,315.0 623.2,316.0 624.7,316.0 626.2,316.0 627.7,318.1 629.2,319.1 630.7,320.2 632.2,320.2 633.7,322.3 635.2,322.3 636.7,323.3 638.2,324.4 639.7,326.5 641.2,327.5 642.7,328.6 644.2,328.6 645.7,328.6 647.2,330.7 648.7,333.8 650.2,333.8 651.7,332.8 653.2,332.8 654.7,332.8 656.2,334.9 657.7,339.1 659.2,339.1 660.7,339.1 662.3,339.1 663.8,339.1 665.3,339.1 666.8,340.1 668.3,341.2 669.8,341.2 671.3,340.1 672.8,339.1 674.3,338.0 675.8,335.9 677.3,334.9 678.8,334.9 680.3,334.9 681.8,333.8 683.3,333.8" fill="none" stroke="#f2e888" stroke-width="1.0" stroke-linejoin="round" />
<polyline points="427.7,307.6 429.2,307.6 430.7,307.6 432.2,307.6 433.7,307.6 435.2,308.7 436.7,309.7 438.2,309.7 439.7,309.7 441.2,310.8 442.7,310.8 444.2,311.8 445.7,311.8 447.2,312.9 448.7,313.9 450.3,313.9 451.8,313.9 453.3,315.0 454.8,317.1 456.3,318.1 457.8,319.1 459.3,321.2 460.8,321.2 462.3,321.2 463.8,322.3 465.3,323.3 466.8,325.4 468.3,326.5 469.8,326.5 471.3,327.5 472.8,328.6 474.3,329.6 475.8,331.7 477.3,332.8 478.8,332.8 480.3,332.8 481.8,333.8 483.3,334.9 484.8,333.8 486.3,332.8 487.8,332.8 489.3,331.7 490.8,330.7 492.4,329.6 493.9,327.5 495.4,326.5 496.9,327.5 498.4,326.5 499.9,325.4 501.4,325.4 502.9,323.3 504.4,322.3 505.9,323.3 507.4,321.2 508.9,320.2 510.4,320.2 511.9,319.1 513.4,318.1 514.9,318.1 516.4,317.1 517.9,316.0 519.4,316.0 520.9,316.0 522.4,316.0 523.9,313.9 525.4,313.9 526.9,313.9 528.4,312.9 529.9,311.8 531.4,311.8 532.9,311.8 534.5,311.8 536.0,310.8 537.5,310.8 539.0,310.8 540.5,310.8 542.0,310.8 543.5,309.7 545.0,308.7 546.5,309.7 548.0,309.7 549.5,309.7 551.0,308.7 552.5,306.6 554.0,307.6 555.5,308.7 557.0,308.7 558.5,306.6 560.0,305.5 561.5,307.6 563.0,307.6 564.5,307.6 566.0,308.7 567.5,309.7 569.0,308.7 570.5,307.6 572.0,306.6 573.5,306.6 575.0,307.6 576.5,309.7 578.1,309.7 579.6,308.7 581.1,308.7 582.6,308.7 584.1,308.7 585.6,307.6 587.1,307.6 588.6,307.6 590.1,308.7 591.6,309.7 593.1,308.7 594.6,308.7 596.1,309.7 597.6,310.8 599.1,310.8 600.6,311.8 602.1,311.8 603.6,312.9 605.1,311.8 606.6,312.9 608.1,312.9 609.6,313.9 611.1,313.9 612.6,315.0 614.1,317.1 615.6,316.0 617.1,316.0 618.6,317.1 620.2,317.1 621.7,316.0 623.2,318.1 624.7,319.1 626.2,320.2 627.7,322.3 629.2,323.3 630.7,323.3 632.2,324.4 633.7,326.5 635.2,326.5 636.7,327.5 638.2,327.5 639.7,329.6 641.2,331.7 642.7,331.7 644.2,331.7 645.7,332.8 647.2,333.8 648.7,335.9 650.2,337.0 651.7,338.0 653.2,338.0 654.7,339.1 656.2,340.1 657.7,342.2 659.2,343.3 660.7,343.3 662.3,344.3 663.8,344.3 665.3,344.3 666.8,345.3 668.3,345.3 669.8,344.3 671.3,344.3 672.8,343.3 674.3,342.2 675.8,342.2 677.3,341.2 678.8,340.1 680.3,338.0 681.8,338.0 683.3,337.0" fill="none" stroke="#90d8f0" stroke-width="1.0" stroke-linejoin="round" />
<polyline points="427.7,309.7 429.2,309.7 430.7,310.8 432.2,310.8 433.7,310.8 435.2,311.8 436.7,311.8 438.2,312.9 439.7,312.9 441.2,312.9 442.7,313.9 444.2,316.0 445.7,316.0 447.2,317.1 448.7,319.1 450.3,320.2 451.8,321.2 453.3,322.3 454.8,325.4 456.3,326.5 457.8,326.5 459.3,329.6 460.8,330.7 462.3,330.7 463.8,331.7 465.3,333.8 466.8,335.9 468.3,335.9 469.8,335.9 471.3,337.0 472.8,337.0 474.3,335.9 475.8,337.0 477.3,337.0 478.8,335.9 480.3,333.8 481.8,333.8 483.3,334.9 484.8,334.9 486.3,333.8 487.8,332.8 489.3,330.7 490.8,328.6 492.4,327.5 493.9,325.4 495.4,324.4 496.9,322.3 498.4,322.3 499.9,322.3 501.4,320.2 502.9,319.1 504.4,319.1 505.9,320.2 507.4,318.1 508.9,316.0 510.4,316.0 511.9,316.0 513.4,315.0 514.9,313.9 516.4,313.9 517.9,313.9 519.4,312.9 520.9,311.8 522.4,310.8 523.9,310.8 525.4,310.8 526.9,310.8 528.4,310.8 529.9,309.7 531.4,309.7 532.9,310.8 534.5,310.8 536.0,309.7 537.5,309.7 539.0,309.7 540.5,308.7 542.0,309.7 543.5,308.7 545.0,308.7 546.5,309.7 548.0,310.8 549.5,310.8 551.0,308.7 552.5,306.6 554.0,307.6 555.5,309.7 557.0,309.7 558.5,308.7 560.0,308.7 561.5,309.7 563.0,309.7 564.5,309.7 566.0,310.8 567.5,311.8 569.0,310.8 570.5,310.8 572.0,310.8 573.5,310.8 575.0,311.8 576.5,311.8 578.1,311.8 579.6,311.8 581.1,312.9 582.6,313.9 584.1,313.9 585.6,312.9 587.1,313.9 588.6,316.0 590.1,318.1 591.6,319.1 593.1,318.1 594.6,318.1 596.1,321.2 597.6,322.3 599.1,323.3 600.6,324.4 602.1,325.4 603.6,326.5 605.1,326.5 606.6,327.5 608.1,329.6 609.6,330.7 611.1,331.7 612.6,333.8 614.1,335.9 615.6,338.0 617.1,338.0 618.6,339.1 620.2,340.1 621.7,341.2 623.2,342.2 624.7,343.3 626.2,345.3 627.7,346.4 629.2,347.4 630.7,349.5 632.2,350.6 633.7,350.6 635.2,349.5 636.7,349.5 638.2,348.5 639.7,349.5 641.2,349.5 642.7,348.5 644.2,345.3 645.7,344.3 647.2,343.3 648.7,343.3 650.2,340.1 651.7,337.0 653.2,335.9 654.7,333.8 656.2,332.8 657.7,333.8 659.2,333.8 660.7,331.7 662.3,329.6 663.8,327.5 665.3,326.5 666.8,326.5 668.3,325.4 669.8,324.4 671.3,323.3 672.8,322.3 674.3,321.2 675.8,320.2 677.3,320.2 678.8,320.2 680.3,319.1 681.8,319.1 683.3,318.1" fill="none" stroke="#e890e0" stroke-width="1.0" stroke-linejoin="round" />
<polyline points="427.7,312.9 429.2,311.8 430.7,312.9 432.2,315.0 433.7,315.0 435.2,315.0 436.7,315.0 438.2,316.0 439.7,317.1 441.2,317.1 442.7,318.1 444.2,319.1 445.7,321.2 447.2,323.3 448.7,325.4 450.3,327.5 451.8,327.5 453.3,330.7 454.8,332.8 456.3,333.8 457.8,334.9 459.3,337.0 460.8,339.1 462.3,340.1 463.8,341.2 465.3,342.2 466.8,342.2 468.3,341.2 469.8,341.2 471.3,340.1 472.8,338.0 474.3,337.0 475.8,337.0 477.3,337.0 478.8,334.9 480.3,332.8 481.8,331.7 483.3,330.7 484.8,329.6 486.3,329.6 487.8,327.5 489.3,325.4 490.8,324.4 492.4,323.3 493.9,321.2 495.4,320.2 496.9,320.2 498.4,319.1 499.9,317.1 501.4,317.1 502.9,316.0 504.4,315.0 505.9,316.0 507.4,315.0 508.9,313.9 510.4,313.9 511.9,312.9 513.4,312.9 514.9,312.9 516.4,312.9 517.9,312.9 519.4,311.8 520.9,310.8 522.4,310.8 523.9,310.8 525.4,311.8 526.9,311.8 528.4,310.8 529.9,309.7 531.4,309.7 532.9,310.8 534.5,310.8 536.0,310.8 537.5,310.8 539.0,310.8 540.5,310.8 542.0,310.8 543.5,309.7 545.0,309.7 546.5,311.8 548.0,312.9 549.5,312.9 551.0,311.8 552.5,310.8 554.0,311.8 555.5,312.9 557.0,313.9 558.5,313.9 560.0,313.9 561.5,313.9 563.0,315.0 564.5,316.0 566.0,317.1 567.5,318.1 569.0,319.1 570.5,320.2 572.0,320.2 573.5,320.2 575.0,322.3 576.5,323.3 578.1,323.3 579.6,324.4 581.1,326.5 582.6,328.6 584.1,328.6 585.6,328.6 587.1,330.7 588.6,332.8 590.1,337.0 591.6,338.0 593.1,337.0 594.6,338.0 596.1,342.2 597.6,345.3 599.1,347.4 600.6,349.5 602.1,350.6 603.6,350.6 605.1,351.6 606.6,352.7 608.1,352.7 609.6,353.7 611.1,353.7 612.6,354.8 614.1,355.8 615.6,353.7 617.1,351.6 618.6,350.6 620.2,348.5 621.7,346.4 623.2,345.3 624.7,343.3 626.2,342.2 627.7,340.1 629.2,339.1 630.7,338.0 632.2,337.0 633.7,334.9 635.2,333.8 636.7,331.7 638.2,330.7 639.7,329.6 641.2,328.6 642.7,327.5 644.2,324.4 645.7,323.3 647.2,322.3 648.7,322.3 650.2,321.2 651.7,319.1 653.2,318.1 654.7,318.1 656.2,318.1 657.7,318.1 659.2,318.1 660.7,317.1 662.3,316.0 663.8,317.1 665.3,317.1 666.8,316.0 668.3,316.0 669.8,316.0 671.3,315.0 672.8,316.0 674.3,316.0 675.8,315.0 677.3,315.0 678.8,316.0 680.3,316.0 681.8,316.0 683.3,316.0" fill="none" stroke="#555555" stroke-width="1.0" stroke-linejoin="round" />
<polyline points="427.7,313.9 429.2,315.0 430.7,316.0 432.2,316.0 433.7,317.1 435.2,317.1 436.7,318.1 438.2,319.1 439.7,321.2 441.2,322.3 442.7,322.3 444.2,323.3 445.7,324.4 447.2,326.5 448.7,328.6 450.3,328.6 451.8,329.6 453.3,331.7 454.8,333.8 456.3,334.9 457.8,334.9 459.3,335.9 460.8,335.9 462.3,337.0 463.8,337.0 465.3,337.0 466.8,334.9 468.3,333.8 469.8,332.8 471.3,331.7 472.8,330.7 474.3,329.6 475.8,329.6 477.3,329.6 478.8,328.6 480.3,326.5 481.8,326.5 483.3,326.5 484.8,325.4 486.3,325.4 487.8,324.4 489.3,322.3 490.8,321.2 492.4,320.2 493.9,318.1 495.4,318.1 496.9,317.1 498.4,317.1 499.9,316.0 501.4,316.0 502.9,315.0 504.4,313.9 505.9,313.9 507.4,312.9 508.9,312.9 510.4,312.9 511.9,312.9 513.4,312.9 514.9,311.8 516.4,311.8 517.9,311.8 519.4,310.8 520.9,311.8 522.4,311.8 523.9,311.8 525.4,311.8 526.9,311.8 528.4,310.8 529.9,309.7 531.4,310.8 532.9,311.8 534.5,311.8 536.0,311.8 537.5,312.9 539.0,312.9 540.5,312.9 542.0,313.9 543.5,312.9 545.0,313.9 546.5,316.0 548.0,318.1 549.5,319.1 551.0,318.1 552.5,317.1 554.0,318.1 555.5,321.2 557.0,322.3 558.5,322.3 560.0,322.3 561.5,324.4 563.0,326.5 564.5,326.5 566.0,327.5 567.5,328.6 569.0,329.6 570.5,330.7 572.0,331.7 573.5,332.8 575.0,334.9 576.5,335.9 578.1,334.9 579.6,335.9 581.1,339.1 582.6,340.1 584.1,341.2 585.6,341.2 587.1,341.2 588.6,342.2 590.1,344.3 591.6,344.3 593.1,342.2 594.6,340.1 596.1,341.2 597.6,341.2 599.1,340.1 600.6,339.1 602.1,338.0 603.6,337.0 605.1,334.9 606.6,333.8 608.1,332.8 609.6,332.8 611.1,331.7 612.6,331.7 614.1,331.7 615.6,329.6 617.1,327.5 618.6,327.5 620.2,326.5 621.7,324.4 623.2,322.3 624.7,322.3 626.2,322.3 627.7,323.3 629.2,322.3 630.7,321.2 632.2,321.2 633.7,321.2 635.2,320.2 636.7,319.1 638.2,319.1 639.7,319.1 641.2,319.1 642.7,318.1 644.2,317.1 645.7,316.0 647.2,316.0 648.7,318.1 650.2,317.1 651.7,316.0 653.2,315.0 654.7,313.9 656.2,316.0 657.7,317.1 659.2,317.1 660.7,317.1 662.3,317.1 663.8,318.1 665.3,319.1 666.8,320.2 668.3,321.2 669.8,322.3 671.3,322.3 672.8,323.3 674.3,324.4 675.8,324.4 677.3,324.4 678.8,324.4 680.3,325.4 681.8,326.5 683.3,327.5" fill="none" stroke="#1a1a1a" stroke-width="1.0" stroke-linejoin="round" />
<polyline points="427.7,316.0 429.2,317.1 430.7,318.1 432.2,319.1 433.7,319.1 435.2,319.1 436.7,321.2 438.2,323.3 439.7,324.4 441.2,324.4 442.7,325.4 444.2,327.5 445.7,329.6 447.2,330.7 448.7,332.8 450.3,333.8 451.8,334.9 453.3,338.0 454.8,339.1 456.3,339.1 457.8,339.1 459.3,341.2 460.8,341.2 462.3,340.1 463.8,339.1 465.3,339.1 466.8,338.0 468.3,335.9 469.8,334.9 471.3,333.8 472.8,332.8 474.3,331.7 475.8,331.7 477.3,329.6 478.8,328.6 480.3,326.5 481.8,325.4 483.3,325.4 484.8,324.4 486.3,324.4 487.8,323.3 489.3,320.2 490.8,319.1 492.4,318.1 493.9,317.1 495.4,316.0 496.9,316.0 498.4,316.0 499.9,316.0 501.4,315.0 502.9,315.0 504.4,313.9 505.9,313.9 507.4,313.9 508.9,312.9 510.4,311.8 511.9,311.8 513.4,311.8 514.9,311.8 516.4,313.9 517.9,313.9 519.4,312.9 520.9,311.8 522.4,311.8 523.9,312.9 525.4,312.9 526.9,313.9 528.4,313.9 529.9,313.9 531.4,313.9 532.9,315.0 534.5,316.0 536.0,316.0 537.5,318.1 539.0,319.1 540.5,319.1 542.0,320.2 543.5,320.2 545.0,321.2 546.5,324.4 548.0,325.4 549.5,325.4 551.0,325.4 552.5,326.5 554.0,327.5 555.5,330.7 557.0,330.7 558.5,330.7 560.0,331.7 561.5,332.8 563.0,334.9 564.5,337.0 566.0,339.1 567.5,342.2 569.0,343.3 570.5,343.3 572.0,345.3 573.5,347.4 575.0,349.5 576.5,349.5 578.1,348.5 579.6,347.4 581.1,348.5 582.6,347.4 584.1,344.3 585.6,342.2 587.1,341.2 588.6,340.1 590.1,340.1 591.6,339.1 593.1,335.9 594.6,333.8 596.1,333.8 597.6,332.8 599.1,331.7 600.6,330.7 602.1,329.6 603.6,328.6 605.1,326.5 606.6,325.4 608.1,325.4 609.6,324.4 611.1,324.4 612.6,324.4 614.1,324.4 615.6,323.3 617.1,321.2 618.6,320.2 620.2,321.2 621.7,320.2 623.2,319.1 624.7,319.1 626.2,318.1 627.7,318.1 629.2,318.1 630.7,319.1 632.2,318.1 633.7,318.1 635.2,319.1 636.7,319.1 638.2,318.1 639.7,319.1 641.2,319.1 642.7,319.1 644.2,319.1 645.7,319.1 647.2,321.2 648.7,322.3 650.2,322.3 651.7,321.2 653.2,322.3 654.7,323.3 656.2,324.4 657.7,325.4 659.2,326.5 660.7,327.5 662.3,327.5 663.8,328.6 665.3,330.7 666.8,332.8 668.3,333.8 669.8,334.9 671.3,337.0 672.8,338.0 674.3,339.1 675.8,340.1 677.3,342.2 678.8,344.3 680.3,346.4 681.8,349.5 683.3,351.6" fill="none" stroke="#ee3030" stroke-width="1.0" stroke-linejoin="round" />
<polyline points="427.7,319.1 429.2,319.1 430.7,320.2 432.2,321.2 433.7,321.2 435.2,321.2 436.7,323.3 438.2,325.4 439.7,327.5 441.2,327.5 442.7,327.5 444.2,329.6 445.7,331.7 447.2,332.8 448.7,334.9 450.3,337.0 451.8,338.0 453.3,340.1 454.8,343.3 456.3,345.3 457.8,345.3 459.3,346.4 460.8,345.3 462.3,342.2 463.8,340.1 465.3,340.1 466.8,340.1 468.3,338.0 469.8,335.9 471.3,333.8 472.8,331.7 474.3,329.6 475.8,329.6 477.3,328.6 478.8,326.5 480.3,324.4 481.8,323.3 483.3,323.3 484.8,323.3 486.3,322.3 487.8,321.2 489.3,320.2 490.8,318.1 492.4,317.1 493.9,316.0 495.4,315.0 496.9,315.0 498.4,313.9 499.9,313.9 501.4,313.9 502.9,313.9 504.4,313.9 505.9,313.9 507.4,312.9 508.9,311.8 510.4,312.9 511.9,312.9 513.4,313.9 514.9,315.0 516.4,315.0 517.9,313.9 519.4,313.9 520.9,315.0 522.4,316.0 523.9,316.0 525.4,317.1 526.9,318.1 528.4,319.1 529.9,319.1 531.4,320.2 532.9,322.3 534.5,323.3 536.0,324.4 537.5,325.4 539.0,326.5 540.5,328.6 542.0,330.7 543.5,331.7 545.0,332.8 546.5,335.9 548.0,338.0 549.5,340.1 551.0,341.2 552.5,342.2 554.0,345.3 555.5,350.6 557.0,353.7 558.5,353.7 560.0,356.9 561.5,360.0 563.0,362.1 564.5,362.1 566.0,363.2 567.5,363.2 569.0,363.2 570.5,361.1 572.0,359.0 573.5,356.9 575.0,355.8 576.5,353.7 578.1,349.5 579.6,345.3 581.1,343.3 582.6,342.2 584.1,338.0 585.6,335.9 587.1,333.8 588.6,332.8 590.1,331.7 591.6,329.6 593.1,327.5 594.6,326.5 596.1,326.5 597.6,326.5 599.1,325.4 600.6,324.4 602.1,323.3 603.6,322.3 605.1,321.2 606.6,320.2 608.1,321.2 609.6,320.2 611.1,319.1 612.6,320.2 614.1,322.3 615.6,321.2 617.1,320.2 618.6,320.2 620.2,320.2 621.7,318.1 623.2,319.1 624.7,320.2 626.2,320.2 627.7,321.2 629.2,322.3 630.7,323.3 632.2,324.4 633.7,325.4 635.2,326.5 636.7,326.5 638.2,326.5 639.7,329.6 641.2,330.7 642.7,331.7 644.2,331.7 645.7,332.8 647.2,335.9 648.7,339.1 650.2,341.2 651.7,342.2 653.2,344.3 654.7,346.4 656.2,351.6 657.7,355.8 659.2,357.9 660.7,360.0 662.3,364.2 663.8,366.3 665.3,368.4 666.8,372.6 668.3,374.7 669.8,374.7 671.3,374.7 672.8,373.6 674.3,371.5 675.8,369.5 677.3,366.3 678.8,364.2 680.3,362.1 681.8,360.0 683.3,355.8" fill="none" stroke="#50b840" stroke-width="1.0" stroke-linejoin="round" />
<polyline points="427.7,321.2 429.2,321.2 430.7,323.3 432.2,324.4 433.7,324.4 435.2,325.4 436.7,326.5 438.2,328.6 439.7,329.6 441.2,331.7 442.7,333.8 444.2,335.9 445.7,338.0 447.2,339.1 448.7,343.3 450.3,346.4 451.8,348.5 453.3,349.5 454.8,350.6 456.3,350.6 457.8,350.6 459.3,351.6 460.8,349.5 462.3,346.4 463.8,343.3 465.3,342.2 466.8,341.2 468.3,338.0 469.8,334.9 471.3,333.8 472.8,330.7 474.3,328.6 475.8,328.6 477.3,327.5 478.8,325.4 480.3,324.4 481.8,323.3 483.3,324.4 484.8,322.3 486.3,321.2 487.8,320.2 489.3,318.1 490.8,317.1 492.4,318.1 493.9,316.0 495.4,315.0 496.9,315.0 498.4,315.0 499.9,315.0 501.4,313.9 502.9,313.9 504.4,315.0 505.9,316.0 507.4,315.0 508.9,313.9 510.4,313.9 511.9,315.0 513.4,316.0 514.9,316.0 516.4,317.1 517.9,318.1 519.4,318.1 520.9,319.1 522.4,319.1 523.9,320.2 525.4,321.2 526.9,322.3 528.4,323.3 529.9,324.4 531.4,325.4 532.9,327.5 534.5,328.6 536.0,331.7 537.5,334.9 539.0,338.0 540.5,340.1 542.0,343.3 543.5,346.4 545.0,349.5 546.5,354.8 548.0,360.0 549.5,363.2 551.0,365.3 552.5,367.4 554.0,370.5 555.5,376.8 557.0,378.9 558.5,377.8 560.0,377.8 561.5,378.9 563.0,377.8 564.5,375.7 566.0,372.6 567.5,368.4 569.0,365.3 570.5,361.1 572.0,356.9 573.5,353.7 575.0,350.6 576.5,347.4 578.1,344.3 579.6,341.2 581.1,339.1 582.6,337.0 584.1,333.8 585.6,331.7 587.1,330.7 588.6,329.6 590.1,327.5 591.6,326.5 593.1,324.4 594.6,322.3 596.1,323.3 597.6,324.4 599.1,323.3 600.6,321.2 602.1,321.2 603.6,321.2 605.1,320.2 606.6,319.1 608.1,320.2 609.6,321.2 611.1,321.2 612.6,322.3 614.1,323.3 615.6,323.3 617.1,322.3 618.6,322.3 620.2,323.3 621.7,324.4 623.2,324.4 624.7,325.4 626.2,327.5 627.7,329.6 629.2,331.7 630.7,332.8 632.2,334.9 633.7,338.0 635.2,340.1 636.7,342.2 638.2,344.3 639.7,348.5 641.2,353.7 642.7,355.8 644.2,357.9 645.7,362.1 647.2,367.4 648.7,371.5 650.2,375.7 651.7,379.9 653.2,384.1 654.7,386.2 656.2,388.3 657.7,392.5 659.2,393.6 660.7,392.5 662.3,391.5 663.8,390.4 665.3,389.4 666.8,386.2 668.3,382.0 669.8,376.8 671.3,370.5 672.8,365.3 674.3,362.1 675.8,357.9 677.3,352.7 678.8,350.6 680.3,348.5 681.8,346.4 683.3,344.3" fill="none" stroke="#4050cc" stroke-width="1.0" stroke-linejoin="round" />
<polyline points="427.7,323.3 429.2,324.4 430.7,326.5 432.2,327.5 433.7,327.5 435.2,329.6 436.7,331.7 438.2,333.8 439.7,335.9 441.2,337.0 442.7,340.1 444.2,343.3 445.7,345.3 447.2,348.5 448.7,352.7 450.3,354.8 451.8,354.8 453.3,355.8 454.8,356.9 456.3,354.8 457.8,353.7 459.3,351.6 460.8,349.5 462.3,346.4 463.8,342.2 465.3,340.1 466.8,338.0 468.3,335.9 469.8,332.8 471.3,330.7 472.8,328.6 474.3,326.5 475.8,326.5 477.3,325.4 478.8,324.4 480.3,322.3 481.8,321.2 483.3,321.2 484.8,321.2 486.3,320.2 487.8,319.1 489.3,318.1 490.8,317.1 492.4,317.1 493.9,316.0 495.4,315.0 496.9,315.0 498.4,315.0 499.9,313.9 501.4,315.0 502.9,316.0 504.4,316.0 505.9,316.0 507.4,317.1 508.9,318.1 510.4,318.1 511.9,318.1 513.4,318.1 514.9,319.1 516.4,320.2 517.9,320.2 519.4,321.2 520.9,323.3 522.4,324.4 523.9,324.4 525.4,326.5 526.9,328.6 528.4,330.7 529.9,332.8 531.4,334.9 532.9,339.1 534.5,341.2 536.0,344.3 537.5,349.5 539.0,353.7 540.5,355.8 542.0,359.0 543.5,363.2 545.0,367.4 546.5,373.6 548.0,378.9 549.5,383.1 551.0,384.1 552.5,382.0 554.0,382.0 555.5,385.2 557.0,383.1 558.5,376.8 560.0,370.5 561.5,366.3 563.0,362.1 564.5,359.0 566.0,356.9 567.5,353.7 569.0,348.5 570.5,344.3 572.0,342.2 573.5,340.1 575.0,338.0 576.5,335.9 578.1,332.8 579.6,329.6 581.1,328.6 582.6,327.5 584.1,325.4 585.6,323.3 587.1,323.3 588.6,323.3 590.1,323.3 591.6,322.3 593.1,321.2 594.6,320.2 596.1,321.2 597.6,322.3 599.1,322.3 600.6,322.3 602.1,322.3 603.6,322.3 605.1,322.3 606.6,323.3 608.1,324.4 609.6,325.4 611.1,327.5 612.6,328.6 614.1,330.7 615.6,331.7 617.1,333.8 618.6,335.9 620.2,338.0 621.7,340.1 623.2,343.3 624.7,346.4 626.2,350.6 627.7,355.8 629.2,362.1 630.7,366.3 632.2,370.5 633.7,377.8 635.2,383.1 636.7,387.3 638.2,392.5 639.7,398.8 641.2,404.0 642.7,406.1 644.2,407.2 645.7,404.0 647.2,400.9 648.7,398.8 650.2,394.6 651.7,387.3 653.2,381.0 654.7,375.7 656.2,371.5 657.7,369.5 659.2,364.2 660.7,359.0 662.3,355.8 663.8,352.7 665.3,349.5 666.8,347.4 668.3,344.3 669.8,341.2 671.3,339.1 672.8,337.0 674.3,335.9 675.8,333.8 677.3,332.8 678.8,331.7 680.3,329.6 681.8,329.6 683.3,329.6" fill="none" stroke="#44bbdd" stroke-width="1.0" stroke-linejoin="round" />
<polyline points="427.7,325.4 429.2,326.5 430.7,328.6 432.2,329.6 433.7,330.7 435.2,332.8 436.7,334.9 438.2,338.0 439.7,340.1 441.2,342.2 442.7,344.3 444.2,348.5 445.7,351.6 447.2,354.8 448.7,361.1 450.3,363.2 451.8,363.2 453.3,361.1 454.8,360.0 456.3,356.9 457.8,354.8 459.3,351.6 460.8,348.5 462.3,344.3 463.8,341.2 465.3,339.1 466.8,337.0 468.3,333.8 469.8,331.7 471.3,329.6 472.8,327.5 474.3,325.4 475.8,325.4 477.3,324.4 478.8,323.3 480.3,321.2 481.8,320.2 483.3,320.2 484.8,320.2 486.3,320.2 487.8,320.2 489.3,319.1 490.8,317.1 492.4,317.1 493.9,316.0 495.4,316.0 496.9,315.0 498.4,315.0 499.9,317.1 501.4,318.1 502.9,318.1 504.4,318.1 505.9,320.2 507.4,320.2 508.9,320.2 510.4,321.2 511.9,322.3 513.4,323.3 514.9,324.4 516.4,326.5 517.9,327.5 519.4,328.6 520.9,330.7 522.4,333.8 523.9,334.9 525.4,338.0 526.9,341.2 528.4,342.2 529.9,345.3 531.4,349.5 532.9,356.9 534.5,360.0 536.0,365.3 537.5,370.5 539.0,374.7 540.5,378.9 542.0,383.1 543.5,385.2 545.0,385.2 546.5,386.2 548.0,386.2 549.5,384.1 551.0,377.8 552.5,370.5 554.0,366.3 555.5,365.3 557.0,361.1 558.5,354.8 560.0,349.5 561.5,347.4 563.0,345.3 564.5,342.2 566.0,339.1 567.5,337.0 569.0,333.8 570.5,331.7 572.0,330.7 573.5,328.6 575.0,327.5 576.5,326.5 578.1,325.4 579.6,323.3 581.1,323.3 582.6,323.3 584.1,323.3 585.6,322.3 587.1,321.2 588.6,322.3 590.1,323.3 591.6,323.3 593.1,322.3 594.6,323.3 596.1,325.4 597.6,327.5 599.1,327.5 600.6,328.6 602.1,330.7 603.6,332.8 605.1,333.8 606.6,334.9 608.1,338.0 609.6,342.2 611.1,344.3 612.6,348.5 614.1,353.7 615.6,357.9 617.1,361.1 618.6,364.2 620.2,369.5 621.7,375.7 623.2,382.0 624.7,387.3 626.2,393.6 627.7,400.9 629.2,406.1 630.7,409.3 632.2,412.4 633.7,411.4 635.2,407.2 636.7,401.9 638.2,395.7 639.7,390.4 641.2,387.3 642.7,381.0 644.2,373.6 645.7,368.4 647.2,363.2 648.7,361.1 650.2,356.9 651.7,350.6 653.2,346.4 654.7,343.3 656.2,341.2 657.7,340.1 659.2,338.0 660.7,335.9 662.3,334.9 663.8,333.8 665.3,332.8 666.8,332.8 668.3,331.7 669.8,329.6 671.3,329.6 672.8,329.6 674.3,329.6 675.8,328.6 677.3,327.5 678.8,327.5 680.3,329.6 681.8,331.7 683.3,331.7" fill="none" stroke="#cc44bb" stroke-width="1.0" stroke-linejoin="round" />
<polyline points="427.7,328.6 429.2,329.6 430.7,331.7 432.2,332.8 433.7,334.9 435.2,337.0 436.7,339.1 438.2,342.2 439.7,345.3 441.2,349.5 442.7,353.7 444.2,356.9 445.7,361.1 447.2,364.2 448.7,367.4 450.3,367.4 451.8,366.3 453.3,365.3 454.8,363.2 456.3,360.0 457.8,355.8 459.3,351.6 460.8,346.4 462.3,341.2 463.8,338.0 465.3,335.9 466.8,333.8 468.3,330.7 469.8,328.6 471.3,326.5 472.8,325.4 474.3,323.3 475.8,323.3 477.3,322.3 478.8,321.2 480.3,319.1 481.8,319.1 483.3,320.2 484.8,320.2 486.3,319.1 487.8,319.1 489.3,318.1 490.8,317.1 492.4,318.1 493.9,318.1 495.4,319.1 496.9,319.1 498.4,319.1 499.9,320.2 501.4,321.2 502.9,321.2 504.4,322.3 505.9,323.3 507.4,324.4 508.9,326.5 510.4,328.6 511.9,330.7 513.4,331.7 514.9,334.9 516.4,338.0 517.9,341.2 519.4,344.3 520.9,347.4 522.4,350.6 523.9,353.7 525.4,359.0 526.9,365.3 528.4,370.5 529.9,374.7 531.4,379.9 532.9,386.2 534.5,389.4 536.0,390.4 537.5,390.4 539.0,388.3 540.5,385.2 542.0,381.0 543.5,374.7 545.0,369.5 546.5,366.3 548.0,362.1 549.5,356.9 551.0,350.6 552.5,346.4 554.0,344.3 555.5,343.3 557.0,341.2 558.5,337.0 560.0,333.8 561.5,332.8 563.0,332.8 564.5,330.7 566.0,329.6 567.5,328.6 569.0,327.5 570.5,325.4 572.0,324.4 573.5,325.4 575.0,325.4 576.5,324.4 578.1,323.3 579.6,323.3 581.1,324.4 582.6,324.4 584.1,324.4 585.6,324.4 587.1,324.4 588.6,326.5 590.1,328.6 591.6,329.6 593.1,328.6 594.6,328.6 596.1,332.8 597.6,334.9 599.1,335.9 600.6,337.0 602.1,340.1 603.6,342.2 605.1,344.3 606.6,346.4 608.1,350.6 609.6,354.8 611.1,359.0 612.6,363.2 614.1,369.5 615.6,373.6 617.1,376.8 618.6,381.0 620.2,385.2 621.7,386.2 623.2,387.3 624.7,388.3 626.2,387.3 627.7,386.2 629.2,383.1 630.7,379.9 632.2,375.7 633.7,372.6 635.2,368.4 636.7,362.1 638.2,357.9 639.7,354.8 641.2,352.7 642.7,349.5 644.2,345.3 645.7,342.2 647.2,340.1 648.7,339.1 650.2,335.9 651.7,332.8 653.2,332.8 654.7,330.7 656.2,329.6 657.7,329.6 659.2,330.7 660.7,330.7 662.3,329.6 663.8,328.6 665.3,328.6 666.8,328.6 668.3,328.6 669.8,329.6 671.3,330.7 672.8,330.7 674.3,330.7 675.8,330.7 677.3,330.7 678.8,331.7 680.3,332.8 681.8,334.9 683.3,337.0" fill="none" stroke="#ecdc30" stroke-width="1.0" stroke-linejoin="round" />
<polyline points="427.7,330.7 429.2,331.7 430.7,333.8 432.2,335.9 433.7,338.0 435.2,341.2 436.7,345.3 438.2,348.5 439.7,352.7 441.2,357.9 442.7,363.2 444.2,367.4 445.7,370.5 447.2,372.6 448.7,373.6 450.3,372.6 451.8,368.4 453.3,365.3 454.8,362.1 456.3,355.8 457.8,351.6 459.3,348.5 460.8,344.3 462.3,340.1 463.8,335.9 465.3,333.8 466.8,332.8 468.3,329.6 469.8,327.5 471.3,325.4 472.8,323.3 474.3,322.3 475.8,322.3 477.3,321.2 478.8,319.1 480.3,320.2 481.8,320.2 483.3,320.2 484.8,320.2 486.3,320.2 487.8,321.2 489.3,320.2 490.8,320.2 492.4,320.2 493.9,320.2 495.4,320.2 496.9,321.2 498.4,322.3 499.9,324.4 501.4,325.4 502.9,326.5 504.4,329.6 505.9,332.8 507.4,334.9 508.9,337.0 510.4,339.1 511.9,343.3 513.4,347.4 514.9,352.7 516.4,357.9 517.9,364.2 519.4,369.5 520.9,377.8 522.4,386.2 523.9,391.5 525.4,395.7 526.9,401.9 528.4,405.1 529.9,405.1 531.4,403.0 532.9,398.8 534.5,391.5 536.0,384.1 537.5,376.8 539.0,370.5 540.5,363.2 542.0,357.9 543.5,352.7 545.0,348.5 546.5,345.3 548.0,343.3 549.5,339.1 551.0,334.9 552.5,331.7 554.0,329.6 555.5,329.6 557.0,328.6 558.5,325.4 560.0,324.4 561.5,325.4 563.0,326.5 564.5,326.5 566.0,325.4 567.5,325.4 569.0,326.5 570.5,326.5 572.0,326.5 573.5,328.6 575.0,329.6 576.5,330.7 578.1,332.8 579.6,333.8 581.1,337.0 582.6,340.1 584.1,340.1 585.6,341.2 587.1,344.3 588.6,348.5 590.1,352.7 591.6,356.9 593.1,361.1 594.6,365.3 596.1,373.6 597.6,379.9 599.1,383.1 600.6,388.3 602.1,392.5 603.6,391.5 605.1,389.4 606.6,386.2 608.1,382.0 609.6,376.8 611.1,371.5 612.6,368.4 614.1,365.3 615.6,360.0 617.1,353.7 618.6,350.6 620.2,346.4 621.7,343.3 623.2,340.1 624.7,338.0 626.2,337.0 627.7,335.9 629.2,335.9 630.7,334.9 632.2,333.8 633.7,331.7 635.2,330.7 636.7,329.6 638.2,329.6 639.7,330.7 641.2,330.7 642.7,329.6 644.2,328.6 645.7,328.6 647.2,329.6 648.7,331.7 650.2,331.7 651.7,331.7 653.2,331.7 654.7,331.7 656.2,333.8 657.7,338.0 659.2,340.1 660.7,341.2 662.3,344.3 663.8,348.5 665.3,351.6 666.8,356.9 668.3,361.1 669.8,365.3 671.3,370.5 672.8,375.7 674.3,379.9 675.8,385.2 677.3,390.4 678.8,396.7 680.3,400.9 681.8,403.0 683.3,401.9" fill="none" stroke="#959530" stroke-width="1.0" stroke-linejoin="round" />
<polyline points="427.7,333.8 429.2,335.9 430.7,339.1 432.2,342.2 433.7,344.3 435.2,348.5 436.7,352.7 438.2,357.9 439.7,365.3 441.2,370.5 442.7,374.7 444.2,377.8 445.7,378.9 447.2,379.9 448.7,379.9 450.3,375.7 451.8,369.5 453.3,364.2 454.8,359.0 456.3,352.7 457.8,348.5 459.3,344.3 460.8,340.1 462.3,334.9 463.8,331.7 465.3,329.6 466.8,328.6 468.3,326.5 469.8,324.4 471.3,323.3 472.8,322.3 474.3,321.2 475.8,320.2 477.3,320.2 478.8,320.2 480.3,320.2 481.8,320.2 483.3,320.2 484.8,321.2 486.3,321.2 487.8,322.3 489.3,322.3 490.8,323.3 492.4,324.4 493.9,324.4 495.4,326.5 496.9,328.6 498.4,330.7 499.9,332.8 501.4,335.9 502.9,339.1 504.4,343.3 505.9,348.5 507.4,353.7 508.9,359.0 510.4,365.3 511.9,371.5 513.4,377.8 514.9,385.2 516.4,394.6 517.9,399.8 519.4,406.1 520.9,410.3 522.4,410.3 523.9,406.1 525.4,398.8 526.9,392.5 528.4,384.1 529.9,374.7 531.4,368.4 532.9,365.3 534.5,359.0 536.0,352.7 537.5,347.4 539.0,343.3 540.5,341.2 542.0,338.0 543.5,334.9 545.0,332.8 546.5,332.8 548.0,331.7 549.5,330.7 551.0,329.6 552.5,327.5 554.0,326.5 555.5,327.5 557.0,328.6 558.5,327.5 560.0,327.5 561.5,328.6 563.0,328.6 564.5,328.6 566.0,330.7 567.5,331.7 569.0,332.8 570.5,333.8 572.0,335.9 573.5,338.0 575.0,341.2 576.5,344.3 578.1,347.4 579.6,350.6 581.1,356.9 582.6,361.1 584.1,364.2 585.6,368.4 587.1,375.7 588.6,384.1 590.1,393.6 591.6,398.8 593.1,400.9 594.6,401.9 596.1,403.0 597.6,401.9 599.1,398.8 600.6,394.6 602.1,388.3 603.6,381.0 605.1,373.6 606.6,368.4 608.1,364.2 609.6,360.0 611.1,356.9 612.6,352.7 614.1,351.6 615.6,347.4 617.1,343.3 618.6,341.2 620.2,340.1 621.7,338.0 623.2,335.9 624.7,333.8 626.2,333.8 627.7,333.8 629.2,333.8 630.7,332.8 632.2,332.8 633.7,332.8 635.2,332.8 636.7,332.8 638.2,331.7 639.7,333.8 641.2,334.9 642.7,334.9 644.2,333.8 645.7,335.9 647.2,338.0 648.7,342.2 650.2,343.3 651.7,344.3 653.2,346.4 654.7,349.5 656.2,353.7 657.7,359.0 659.2,365.3 660.7,370.5 662.3,375.7 663.8,383.1 665.3,390.4 666.8,399.8 668.3,410.3 669.8,419.8 671.3,428.1 672.8,435.5 674.3,440.7 675.8,440.7 677.3,437.6 678.8,433.4 680.3,426.0 681.8,417.7 683.3,409.3" fill="none" stroke="#3a3a9a" stroke-width="1.0" stroke-linejoin="round" />
<polyline points="427.7,337.0 429.2,338.0 430.7,341.2 432.2,344.3 433.7,348.5 435.2,352.7 436.7,357.9 438.2,365.3 439.7,372.6 441.2,376.8 442.7,382.0 444.2,385.2 445.7,385.2 447.2,382.0 448.7,379.9 450.3,373.6 451.8,365.3 453.3,360.0 454.8,355.8 456.3,349.5 457.8,344.3 459.3,341.2 460.8,337.0 462.3,333.8 463.8,330.7 465.3,329.6 466.8,327.5 468.3,325.4 469.8,323.3 471.3,322.3 472.8,322.3 474.3,321.2 475.8,321.2 477.3,322.3 478.8,321.2 480.3,321.2 481.8,321.2 483.3,322.3 484.8,322.3 486.3,324.4 487.8,326.5 489.3,326.5 490.8,327.5 492.4,329.6 493.9,330.7 495.4,333.8 496.9,338.0 498.4,341.2 499.9,346.4 501.4,350.6 502.9,354.8 504.4,362.1 505.9,371.5 507.4,378.9 508.9,387.3 510.4,396.7 511.9,405.1 513.4,413.5 514.9,420.8 516.4,422.9 517.9,419.8 519.4,413.5 520.9,405.1 522.4,398.8 523.9,389.4 525.4,381.0 526.9,373.6 528.4,365.3 529.9,357.9 531.4,353.7 532.9,350.6 534.5,346.4 536.0,342.2 537.5,340.1 539.0,338.0 540.5,334.9 542.0,332.8 543.5,331.7 545.0,330.7 546.5,330.7 548.0,329.6 549.5,328.6 551.0,327.5 552.5,325.4 554.0,326.5 555.5,327.5 557.0,328.6 558.5,329.6 560.0,329.6 561.5,329.6 563.0,331.7 564.5,333.8 566.0,334.9 567.5,337.0 569.0,340.1 570.5,343.3 572.0,345.3 573.5,348.5 575.0,353.7 576.5,359.0 578.1,363.2 579.6,368.4 581.1,374.7 582.6,379.9 584.1,385.2 585.6,390.4 587.1,395.7 588.6,401.9 590.1,408.2 591.6,408.2 593.1,400.9 594.6,395.7 596.1,390.4 597.6,381.0 599.1,373.6 600.6,368.4 602.1,363.2 603.6,356.9 605.1,352.7 606.6,348.5 608.1,346.4 609.6,343.3 611.1,340.1 612.6,339.1 614.1,339.1 615.6,337.0 617.1,334.9 618.6,333.8 620.2,332.8 621.7,331.7 623.2,330.7 624.7,330.7 626.2,331.7 627.7,332.8 629.2,334.9 630.7,334.9 632.2,335.9 633.7,337.0 635.2,339.1 636.7,340.1 638.2,342.2 639.7,345.3 641.2,349.5 642.7,352.7 644.2,356.9 645.7,360.0 647.2,366.3 648.7,373.6 650.2,381.0 651.7,387.3 653.2,396.7 654.7,405.1 656.2,414.5 657.7,425.0 659.2,427.1 660.7,422.9 662.3,416.6 663.8,409.3 665.3,400.9 666.8,393.6 668.3,387.3 669.8,379.9 671.3,374.7 672.8,367.4 674.3,361.1 675.8,356.9 677.3,352.7 678.8,348.5 680.3,345.3 681.8,344.3 683.3,343.3" fill="none" stroke="#9a3aaa" stroke-width="1.0" stroke-linejoin="round" />
</g>
<rect x="427.7" y="291.9" width="255.59999999999997" height="209.60000000000002" fill="none" stroke="#000" stroke-width="2.8" stroke-linejoin="round"/>
<line x1="442.74" y1="501.50" x2="442.74" y2="498.90" stroke="#000" stroke-width="2.4" stroke-linecap="round"/>
<line x1="472.81" y1="501.50" x2="472.81" y2="497.30" stroke="#000" stroke-width="2.4" stroke-linecap="round"/>
<line x1="502.88" y1="501.50" x2="502.88" y2="498.90" stroke="#000" stroke-width="2.4" stroke-linecap="round"/>
<line x1="532.95" y1="501.50" x2="532.95" y2="497.30" stroke="#000" stroke-width="2.4" stroke-linecap="round"/>
<line x1="563.02" y1="501.50" x2="563.02" y2="498.90" stroke="#000" stroke-width="2.4" stroke-linecap="round"/>
<line x1="593.09" y1="501.50" x2="593.09" y2="497.30" stroke="#000" stroke-width="2.4" stroke-linecap="round"/>
<line x1="623.16" y1="501.50" x2="623.16" y2="498.90" stroke="#000" stroke-width="2.4" stroke-linecap="round"/>
<line x1="653.23" y1="501.50" x2="653.23" y2="497.30" stroke="#000" stroke-width="2.4" stroke-linecap="round"/>
<line x1="427.70" y1="318.10" x2="430.30" y2="318.10" stroke="#000" stroke-width="2.4" stroke-linecap="round"/>
<line x1="427.70" y1="344.30" x2="431.90" y2="344.30" stroke="#000" stroke-width="2.4" stroke-linecap="round"/>
<line x1="427.70" y1="370.50" x2="430.30" y2="370.50" stroke="#000" stroke-width="2.4" stroke-linecap="round"/>
<line x1="427.70" y1="396.70" x2="431.90" y2="396.70" stroke="#000" stroke-width="2.4" stroke-linecap="round"/>
<line x1="427.70" y1="422.90" x2="430.30" y2="422.90" stroke="#000" stroke-width="2.4" stroke-linecap="round"/>
<line x1="427.70" y1="449.10" x2="431.90" y2="449.10" stroke="#000" stroke-width="2.4" stroke-linecap="round"/>
<line x1="427.70" y1="475.30" x2="430.30" y2="475.30" stroke="#000" stroke-width="2.4" stroke-linecap="round"/>
<text x="471.61" y="516.60" font-size="11.5" text-anchor="middle" letter-spacing="0.25" >4</text>
<text x="531.75" y="516.60" font-size="11.5" text-anchor="middle" letter-spacing="0.25" >8</text>
<text x="593.09" y="516.60" font-size="11.5" text-anchor="middle" letter-spacing="0.25" >12</text>
<text x="653.23" y="516.60" font-size="11.5" text-anchor="middle" letter-spacing="0.25" >16</text>
<text x="421.60" y="295.60" font-size="11.5" text-anchor="end" letter-spacing="0.25" >0</text>
<text x="421.60" y="348.00" font-size="11.5" text-anchor="end" letter-spacing="0.25" >−5</text>
<text x="421.60" y="400.40" font-size="11.5" text-anchor="end" letter-spacing="0.25" >−10</text>
<text x="421.60" y="452.80" font-size="11.5" text-anchor="end" letter-spacing="0.25" >−15</text>
<text x="421.60" y="505.20" font-size="11.5" text-anchor="end" letter-spacing="0.25" >−20</text>
<text x="554.60" y="532.30" font-size="11.5" text-anchor="middle" letter-spacing="0.25" >f (GHz)</text>
<text transform="translate(389.9,396.6) rotate(-90)" font-size="11.5" letter-spacing="0.25" text-anchor="middle">RL (dB)</text>
<text x="380.50" y="288.20" font-size="16" text-anchor="start" font-weight="bold">d</text>
<line x1="450.00" y1="487.30" x2="671.00" y2="487.30" stroke="#5a5a5a" stroke-width="1.0" stroke-linecap="butt"/>
<path d="M446.0,487.3 L452.5,485.8 L451.5,487.3 L452.5,488.8 Z" fill="#222"/>
<text x="446.40" y="482.10" font-size="9.8" text-anchor="start" >20 mm</text>
<text x="674.00" y="481.00" font-size="9.8" text-anchor="end" >1 mm</text>
</svg></body></html>
